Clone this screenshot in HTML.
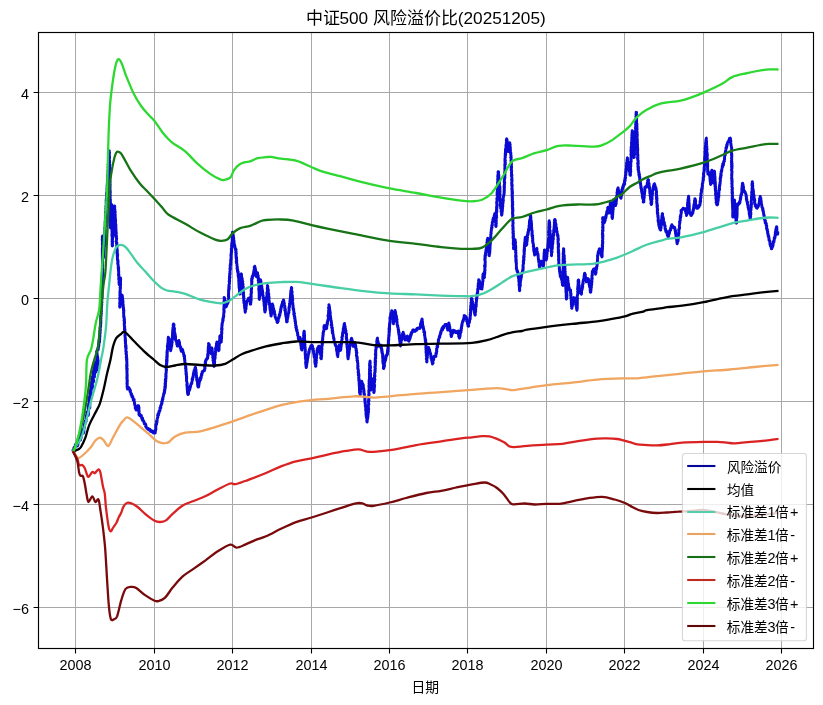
<!DOCTYPE html>
<html lang="zh"><head><meta charset="utf-8"><title>中证500 风险溢价比(20251205)</title>
<style>
html,body{margin:0;padding:0;background:#fff;}
body{width:823px;height:705px;overflow:hidden;position:relative;font-family:"Liberation Sans","Noto Sans CJK SC",sans-serif;}
svg text{font-family:"Liberation Sans","Noto Sans CJK SC",sans-serif;}
</style></head><body>
<svg width="823" height="705" viewBox="0 0 823 705" style="display:block;position:absolute;left:0;top:0;will-change:transform">
<defs><clipPath id="ax"><rect x="38.5" y="32.5" width="775" height="616"/></clipPath></defs>
<rect width="823" height="705" fill="#fff"/>
<path d="M75.5 32.5V648.5M154.5 32.5V648.5M232.5 32.5V648.5M311.5 32.5V648.5M389.5 32.5V648.5M467.5 32.5V648.5M546.5 32.5V648.5M624.5 32.5V648.5M703.5 32.5V648.5M781.5 32.5V648.5M38.5 92.5H813.5M38.5 195.5H813.5M38.5 298.5H813.5M38.5 401.5H813.5M38.5 504.5H813.5M38.5 607.5H813.5" stroke="#a8a8a8" stroke-width="1" fill="none"/>
<g clip-path="url(#ax)" fill="none" stroke-width="2.3" stroke-linejoin="round" stroke-linecap="butt">
<path d="M72.9 451.3L73 450.2L73.4 449.6L73.5 449.8L73.4 449.7L73.6 449.1L73.8 448L74.3 449.1L74.5 448L74.4 447L74.9 448L75 446.5L75.5 445.3L75.5 445.4L75.3 444.6L75.6 445.5L75.6 444.6L76 444L76.4 444.1L76.6 443.9L76.6 444.6L77.3 445.5L77.5 446L77.5 445.7L77.6 444.7L77.9 445.1L77.7 444.4L77.9 444.5L78.1 442.9L78.4 442.1L78.1 443L78 442L78.1 441.9L78.6 441.3L78.7 440.3L78.7 440.4L78.7 439.7L79 440.2L78.8 439.2L78.7 438.8L79 438L79.4 439.4L79.8 438.4L79.8 439.5L79.9 439.5L80.5 440L80.4 438.8L80.4 439.6L80.5 438.1L80.7 438.9L80.6 437.6L80.9 438L81.2 437.5L80.9 436.2L81 436.7L81.5 434.8L81.1 434.5L81.2 434.5L81.4 433.6L81.2 433.5L81.4 433.3L81.9 433.1L81.7 432.5L81.8 430.9L82 431.9L82.1 431.5L81.9 430.3L82 430L82 430.7L82.2 430L82.5 430.6L82.8 430.8L82.8 431.4L83 432.3L83.5 433L83.3 433.3L83.7 431.4L83.5 431.3L83.6 430.4L84 431.7L83.8 430.3L83.6 429.1L83.8 428.9L84.1 428.3L83.7 429.4L84.1 427.3L84.1 426.7L84.2 428.1L84.4 427.1L84.1 426L84.1 426.3L84.4 425.9L84.3 424.3L84.6 425.4L84.5 424L84.9 424.2L85 423.6L84.8 422.7L85.1 421.3L85.1 421.3L85.4 421.7L85.9 420.8L86.1 421.4L86 420L86.3 419.3L85.9 418.5L86 418L86.3 418.9L86.5 417.6L86.4 417.8L86.2 417L86.7 416.8L86.7 415.7L86.4 415.9L86.5 415.4L87 414.1L86.7 414.8L87 412.8L86.7 412.2L87.2 413.1L87 412L87 413.1L87.7 413.2L87.5 413.4L87.5 412.7L88.2 414.4L88.1 415.4L88.3 415L88.3 415.3L88.5 413.5L88.2 413.2L88.2 413.3L88.2 412.5L88.2 413.1L88.3 411.7L88.5 412.1L88.4 411.7L88.4 410.5L88.5 409L88.4 408.9L88.2 409.6L88.3 408.5L88.6 408.2L88.4 407.7L88.5 407.8L88.3 406.9L88.4 405.8L88.7 405.8L88.6 405.9L88.8 404.8L88.7 404.5L88.6 404L88.7 404.8L88.8 405L89 406.2L89.3 406.5L89.5 405.7L89.4 407.6L89.7 406.4L89.4 407.4L89.8 408L89.5 407L89.5 407.4L89.9 407.4L89.5 406.6L89.8 405L89.9 406.2L89.5 405.7L89.5 404.3L89.9 404.5L89.3 403.3L89.5 402.6L89.3 402.1L89.6 401.1L89.5 401.5L89.1 400.8L89.5 400.7L89.1 401.2L89.5 400.7L89.1 398.8L89 399.4L89.1 397.6L89.2 398.7L89.4 397L89.2 397L89.1 398.3L89.6 398.3L89.4 397.4L89.9 398.6L89.7 400.1L90.2 400.3L90 400.8L90.2 401.3L90.6 401L90.5 400.2L90.6 400.9L90.4 398.9L90.5 398.6L90.2 398L90.2 397.7L90.3 397.4L90.6 396.9L90.4 396.2L90.3 395.5L90.2 395L90.4 395.6L90.1 395L90.5 393.8L90.4 394L90.2 394.3L90.1 393.2L90.3 393.7L90 393L90.2 392.1L90 391.1L89.8 390.2L89.8 390.9L90 390L90 389.8L90.1 391.6L90.7 391.7L90.5 391.3L90.7 392.1L90.7 392.6L90.9 394L91.5 393.6L91.4 394L91.2 394.5L91.3 392.8L91.1 392.4L91.3 392.2L91.1 391.7L91 390.8L91 390.6L91 389.4L91.1 389.3L91.3 389.5L91.4 389.3L91.3 389.3L91.1 387.7L91.5 386.9L91.3 387.4L90.9 387.3L91.4 386.5L91.2 386.4L90.9 385.3L91.1 385.5L91.2 385L91.1 384.7L91.1 383.8L91 383L91 382.5L91 383.6L91.1 385L91.5 385.1L91.7 385.6L91.8 384.7L92.1 386.7L92 386.7L92.2 386.2L92.4 387L92.4 388L92.1 387.1L92.5 386.5L92.5 387.6L92.3 385.9L92.3 386.1L92.5 385.5L92.4 383.9L92.1 383.8L92.4 383.5L92.3 382.4L92 382.5L92.3 382.9L92.3 381.6L92.2 381.5L92.1 380.4L92.4 380.1L92.4 381.1L91.8 379.7L92.3 380.2L92 378.4L91.9 379.3L91.9 378.1L91.8 377.5L92 377L92.4 376.7L92.4 377.9L92.6 378.8L92.3 379.6L92.6 378.3L92.5 379.7L92.9 379.8L92.8 380.3L93 381.8L93 382L93.4 382L93.6 380.8L93.6 381.5L93.6 380.2L93.3 380L93.6 379.9L93.2 379.1L93.1 377.9L93 379L93.1 378.7L93.1 376.9L93.2 376.3L93.1 377.4L93.4 376.7L93.2 376.4L93.4 375.2L93.3 373.8L93.3 374.1L93.3 374L93 372.4L93.3 372.1L93 372.1L92.9 372.4L93.3 371L93 371L93.2 371.1L93.3 371.7L93.1 371.7L93.3 373.7L93.6 372.7L93.9 374.8L93.8 373.5L93.7 373.9L93.9 374.3L94 375.1L94.3 376.9L94.5 376.4L94.5 377L94.4 376.6L94.4 375.8L94.2 375.2L94.7 374.4L94.4 375L94.6 373.7L94.3 373.3L94.3 373.2L94.7 373.6L94.6 371.5L94.1 372.4L94.6 371.4L94.4 370L94.3 371.4L94.5 370.8L94.6 369.2L94.1 368.5L94.3 369.1L94.5 368.7L94.3 368.4L94.2 367.5L93.9 367.5L94.1 367.3L94.2 366L94.4 366.1L94.2 366.4L94.7 367.8L94.5 367L94.8 368.5L94.9 368.2L95.1 368.3L95.1 369.6L95.6 370.4L95.7 370.6L95.4 370.6L96 371.9L95.8 372L95.7 370.6L95.8 371.4L95.7 370.2L95.9 371L95.6 368.8L95.6 369.1L95.8 368.2L95.9 368.8L95.7 367.3L96 367.1L95.9 366.5L95.5 367.1L95.6 367L95.7 365L95.5 365L95.8 365.6L95.4 364.1L95.5 364.8L95.4 362.5L95.4 362.7L95.8 363.2L95.6 362L95.8 363.4L96 362.5L95.7 364.2L96.1 362.8L96.1 364L96.1 364.3L96 364.1L96.2 365.3L96.7 365.2L96.8 365.9L96.5 367.5L96.9 367.2L96.5 367.7L96.8 369.1L96.7 368.4L97.3 368.2L97.1 370.2L97.2 370L97.4 368.6L96.9 368.2L97.4 368.1L97.3 369L97.1 367.2L97.4 367.5L97 367.2L97 365.9L96.8 366.4L97.4 365.7L97.4 364L96.9 364.4L97.4 364.9L97 363L97 363.1L97.3 362L97.3 362.6L97.3 362.2L97.1 360.9L96.9 360.5L97.2 359.5L96.8 360.4L96.9 358.5L96.7 359L96.9 359.4L97 358L97.3 359.4L97 358.1L97 359.4L97.5 359.7L97.3 360.1L97.6 361.1L97.8 361.9L97.8 360.9L98 361.7L98 362.4L98.2 362.5L98 363L98.2 364L97.9 364.3L98.1 362.7L98 363.6L98 361.6L98.1 362L98.2 360.4L97.8 361.4L98 361.1L97.4 359.4L97.4 358.8L97.9 359.1L97.8 358.2L97.7 357.9L97.3 358.1L97.7 356.3L97.4 356.9L97.1 355.9L97 355.1L97 355.4L97.2 354.2L96.8 354L97.1 353.2L96.8 352.8L97.1 353L96.6 351.7L96.8 352L96.9 351.6L97.2 350.3L97.1 351L97.4 349.7L97.5 350.6L97.7 349.4L97.9 348.7L98.3 349.4L98.2 347.3L98.6 346.9L98.6 347L98.4 347.3L98.7 346.7L98.7 346.4L98.8 344.5L98.6 344.8L99 345.1L98.7 344L98.9 343.3L98.8 342.4L99.1 343.2L98.9 341.9L99.4 342.4L99.1 340.3L99.6 341.5L99.3 339.2L99.7 339.4L99.7 339.4L99.7 338L99.7 337.7L99.5 338.5L99.8 336.7L99.5 336.6L99.8 336.2L99.6 335.4L100 336.3L99.9 335L99.7 334.7L100.1 333.2L100.2 332.9L100.1 333.3L100.1 332.3L100 332.4L100 332.1L100.1 331.2L99.9 331.1L100.2 329.9L100.4 330.5L100.2 328.8L100.2 328.2L100.1 328.4L100.1 328L100.3 326.7L100.4 326.4L100.5 327.3L100.4 325.4L100.4 325.6L100.7 324.6L100.7 325.9L100.7 325.1L100.4 324.9L100.6 324.4L100.9 322.4L100.8 323.5L100.4 321.8L100.8 321L100.9 320.8L100.9 320L100.8 321.1L100.6 319.4L100.8 319L100.6 318.3L100.7 319.3L100.9 318L101 318.3L100.7 317.7L100.7 316.7L101.1 315.9L101.2 315.9L101.1 316.1L100.8 315.8L101.2 314.2L101.3 313.5L101.4 313.7L101.1 313.6L101.1 312L101.3 311.2L101.4 311.2L101.3 312.2L101.3 311.1L101.2 309.4L101 309.2L101.4 309.3L101.4 309.8L101.2 308L101.5 307.1L101.1 307.4L101.2 306.9L101.3 306.9L101.5 305.7L101.6 305.8L101.3 306.3L101.4 304.2L101.3 304.8L101.8 304.6L101.6 303.1L101.3 303.4L101.7 302.4L101.8 302.1L102 302.3L101.6 302.2L101.5 301L101.7 299.9L101.8 300L101.5 300.1L101.5 299.2L102.1 297.9L101.7 298.4L101.9 298L102.1 296.6L101.8 296.4L101.6 297.2L102.1 296.4L101.6 296.2L102.1 295L102.1 294.5L101.8 293.3L101.8 292.8L101.9 293.7L102.1 293.5L102.1 291.9L102.1 291.7L102.2 291.5L101.9 291.3L102.4 290L102.3 289.1L102 289.1L102.3 290.1L102.3 288.4L102.4 287.9L102 288.6L102.2 287.7L102.3 287.9L102.2 287.1L102.3 286.7L102.2 286L102.3 284.7L102.1 284.9L102 285L102.1 282.8L102 284.1L102.2 282.1L102 281.5L102.4 282.2L102.4 282L102.1 281.2L102.3 281.2L102.6 280.9L102.1 280.4L102.6 280.1L102.2 278.2L102.2 277.4L102.6 278.5L102.5 278.1L102.5 276.5L102.2 275.7L102.6 275.5L102.4 275.5L102.2 274.7L102.4 275.1L102.5 273.9L102.8 273.8L102.8 273.6L102.3 272.7L102.5 273L102.6 272L102.5 272L102.6 270.5L102.8 269.8L102.8 269.5L102.3 269.1L102.7 270.2L102.3 268.8L102.6 268.9L102.4 267.9L102.5 268.1L102.4 267.8L102.4 265.9L102.7 266L102.3 265.9L102.3 265.7L102.7 265.2L102.6 263.9L102.5 263.5L102.8 262.5L102.8 261.9L102.4 261.9L102.8 261.9L102.5 262.2L102.4 260.9L102.6 261.1L102.7 260.4L102.5 259.3L102.3 259.9L102.6 259.2L102.3 258.1L102.7 258L102.3 257.3L102.8 256.4L102.3 256L102.6 256.6L102.3 254.8L102.4 254.7L102.5 253.9L102.4 253.5L102.8 254.1L102.3 254.1L102.3 252.5L102.8 252.9L102.6 251.7L102.3 251.7L102.3 250.3L102.4 249.5L102.5 250L102.4 250.1L102.6 249.1L102.6 248.6L102.3 248.4L102.4 248.2L102.7 247.2L102.5 247.3L102.5 245.8L102.6 246.7L102.7 245.9L102.7 245.4L102.6 244.5L102.4 244.4L102.3 243.5L102.7 243.7L102.6 242.3L102.5 242.2L102.6 241.7L102.6 242.3L102.3 241.3L102.7 240.3L102.5 241L102.2 239.7L102.3 239.7L102.8 238.7L102.3 238.4L102.5 238.2L102.5 237.6L102.7 236.9L102.4 237.3L102.5 236L102.3 236.8L102.5 237.4L102.3 238.3L102.5 236.9L102.4 238.1L102.3 238.6L102.6 239.6L102.5 239.2L102.5 240.6L102.9 240.6L102.5 241.6L102.6 240.9L102.5 242.5L102.9 242.7L102.7 243L102.6 244.3L102.7 244.1L103 244.9L102.8 244.3L102.9 244.4L103.1 245.3L103.1 245.6L102.8 246L102.9 246.4L102.6 247.9L102.8 247.4L102.8 248.3L102.9 249.1L103.1 249L103.3 250.5L102.8 250.9L103.3 251.2L102.8 251.8L103.1 250.6L102.8 252.9L103.2 252L102.9 252.2L103 254L103.1 253.2L103.4 254.9L103 255.6L103.3 255.8L103.3 256.5L103.4 256.8L103.1 257L103.3 257.6L103.2 258.3L103.3 258L103.4 257.1L103.2 256.4L103.4 255.7L103.4 255.4L103.5 255.7L103.6 256L103.3 255.5L103.6 254.4L103.7 254.5L103.6 253.2L104 252.1L103.8 252.7L103.5 252.2L103.9 252.4L103.8 252L103.9 250.6L104.2 249.2L104.1 249.9L103.9 250L104 248.7L104.1 248.8L104 247.7L104.1 247.5L104.4 246.5L104.5 246.3L104.3 246L104.3 245.1L104.3 246L104.5 245.2L104.3 243.8L104.3 243.9L104.5 243.8L104.2 243.2L104.7 242.4L104.2 241.5L104.2 240.8L104.8 241.2L104.6 241.1L104.8 240.3L104.6 239.9L104.7 239.3L104.7 238.1L104.7 238.2L104.8 237L104.5 236.4L104.9 237.7L104.8 236.2L104.9 236.5L104.8 235L104.7 234.9L104.7 234.4L104.9 235L104.6 233.8L104.6 232.5L105.1 232.9L105.1 232.2L104.6 231.6L105 232.3L105.2 230.9L104.9 229.7L105.1 229.4L104.8 228.6L104.7 229.5L104.8 229.6L104.8 228.9L104.9 226.8L105.2 226.8L105.3 226.2L104.9 226.9L105.3 226.6L105.3 224.6L105.2 225L105.3 225L105.2 225L105.1 224.6L105.4 222.2L105 223L105.5 221.4L105.2 222.3L105.2 222.1L105.4 220L105.3 220.6L105.4 220.4L105.2 220.1L105.4 219.4L105.6 218.5L105.5 218.8L105.8 218.3L105.6 216.9L105.3 217.8L105.7 217L105.5 216.1L105.9 216.1L105.7 214.6L105.7 215.3L105.6 214.5L105.8 214.4L106 212.7L105.5 212.3L105.8 212.4L106 212.6L105.6 212L106.1 211.6L105.9 210L106.1 210.6L106.1 210.4L105.9 208.3L106 209.2L105.8 208.7L106.3 207.2L106.1 207.6L106.1 206.2L105.9 206.9L106.3 205.8L105.9 206.1L106.3 204.5L106.2 205.3L106.4 204.1L106.2 203.8L106.1 202.6L106.1 203.1L106.2 202.4L106.3 201.9L106.1 200.5L106.7 200.7L106.1 200.7L106.4 200L106.6 198.9L106.5 198.8L106.5 197.7L106.2 199.2L106.8 197.7L106.6 196.8L106.8 196.7L106.9 196.9L106.9 196.9L106.6 194.6L106.6 194.4L106.5 193.7L106.8 194.9L106.8 194.6L107.1 192.4L106.9 192.6L106.7 193.3L106.8 192L107.1 192.4L107.1 190.8L107 189.9L107.3 191.1L106.9 188.7L107 188.9L107.4 189.6L107.4 187.4L107.4 188.3L107.3 188.4L107 186.2L107.5 187.4L107.4 185.6L107.4 186.1L107.2 184.8L107.3 183.9L107.4 183.6L107.3 183.1L107.6 182.4L107.7 182.3L107.3 183.3L107.6 182L107.5 182.4L107.9 181.9L107.5 180.5L107.5 181L107.9 180L107.7 178.9L108 178.7L107.9 177.6L107.7 177L108 177.5L107.7 177.7L107.8 176.3L107.7 175.6L108.1 175.2L107.8 175.1L107.9 175.5L107.8 175.1L107.8 174.5L108.2 172.7L108.1 172.4L108 171.8L108.1 172.9L108.5 172.3L107.9 170.6L108.4 169.6L108.4 169.6L108.5 168.6L108.5 168.8L108.1 167.7L108.5 168.3L108.2 167.6L108.6 166.7L108.4 166.1L108.2 166.9L108.6 165.3L108.2 164.6L108.5 165L108.6 164.5L108.4 163.5L108.6 164L108.8 163.3L108.4 161.8L108.8 162L108.8 160.9L108.9 161L108.9 161.6L108.7 159.4L109 159.9L109 159L108.6 159.6L108.7 157.8L108.8 158.2L108.6 157.6L108.9 157.2L108.7 157.1L109.1 156.9L108.9 156.2L108.9 155.8L108.8 155.6L109.3 154.3L109.1 153.9L109.1 152.5L109.4 152.4L108.9 151.7L109 152.7L108.9 150.8L109.2 151.1L109.3 150.9L108.9 152.2L109.3 152.5L109.4 152.1L109.5 153.8L109 153.1L109.3 154.3L109.1 153.9L109.2 154.4L109.4 156.3L109.1 156.2L109.5 155.8L109.5 157.8L109.3 157.3L109.5 157.9L109.3 159.2L109.5 158.4L109.2 158.9L109.3 160.6L109.6 160.9L109.6 161.3L109.1 161L109.7 162.3L109.3 161.8L109.5 162.1L109.5 162L109.4 163.3L109.2 163L109.8 164.7L109.7 164.9L109.7 165.8L109.7 164.6L109.6 165.5L109.6 166L109.6 167.7L109.6 166.8L109.6 167.6L109.8 167.8L109.5 169L109.4 169.3L109.9 169.6L109.5 170L109.6 169.8L109.4 170.2L109.5 171.2L109.5 171.3L109.4 172.4L109.9 173L109.7 173.5L109.5 174.1L109.7 174.2L109.8 174.5L109.6 174.5L109.6 175.5L109.7 176.1L109.4 176L110 176.3L109.8 177.2L109.6 178.7L109.7 178.7L109.6 177.7L110 178.9L109.5 179.3L109.8 180.4L109.6 179.8L110.1 181.3L109.6 181L109.8 182.1L109.9 182.9L110.1 182.7L110 183.6L110 183.5L109.9 184L110.1 184.9L110.2 184.2L110.1 184.4L110.1 186L109.9 187.2L110 186.6L110.1 187.9L110 187.4L109.9 188L110.1 188.1L109.9 189.1L109.9 189.1L110.2 190.6L110 190.2L109.8 190.4L109.8 191.4L110.1 190.9L110.3 191.8L110.2 193.3L110.3 192.5L110 194.3L109.8 193.1L110.1 194.4L110.3 195.4L110.1 196.3L110.1 195.8L110.2 196L110 196.9L110 198.1L110.2 197.7L109.9 197.8L110.1 198.6L110.2 199.7L110.4 199.4L110.1 200.1L110.5 200L110.2 201.4L110 200.9L110.5 202.3L110.2 201.4L110.4 203L110.4 204L110.4 203.3L110 203.5L110.2 204.4L110 204.2L110.3 205.5L110.2 206.8L110.3 205.3L110.2 207.3L110.2 207.5L110 207.2L110.5 208.2L110.4 207.9L110.3 209.1L110.2 209.7L110.3 210.8L110.4 210.1L110.1 210.1L110.5 210.4L110.1 211L110.4 212.8L110.4 213.2L110.1 212.1L110.5 213.1L110.5 213.6L110.2 213.9L110.2 215.7L110.4 215L110.4 215.5L110.1 217L110.5 217.6L110.4 217.4L110.3 216.7L110.7 218.7L110.3 219.3L110.6 218.5L110.5 220.3L110.5 220.7L110.3 220.1L110.6 220.2L110.4 221.9L110.5 222.2L110.4 221.5L110.4 221.9L110.8 222.6L110.6 222.7L110.6 223.7L110.5 223.5L110.3 225.5L110.5 224.8L110.4 225.3L110.4 225.3L110.7 226.3L110.4 227.5L110.3 227.1L110.6 228L110.8 226.8L110.6 227.8L110.8 225.9L110.6 226.6L110.6 226.6L110.6 226.2L110.8 224.3L110.7 223.6L110.9 223.4L111.1 223.6L110.8 222.5L110.9 221.9L111.1 221.3L110.9 221.7L110.8 221.7L110.9 221L111 219.9L110.9 218.9L110.8 220L110.9 219.2L110.8 218.5L111 217.9L111 216.6L111 216.5L110.9 217L111 215.9L111.4 216.2L111.4 215.9L111 214.3L111 214.7L111.4 213.5L111.2 213.7L111.4 212.4L111.5 212.2L111.4 211.4L111.1 212.4L111.5 211.5L111.1 209.7L111.2 209.6L111.3 209.5L111.2 208.9L111.6 208.2L111.7 208.5L111.7 207.4L111.5 207.8L111.5 206L111.8 207.1L111.5 205.2L111.9 205.8L111.4 204.6L111.7 204.7L111.5 205.7L111.5 206.4L111.9 205.2L111.8 206.3L111.9 207.6L111.6 206.6L112 207.7L112 208.7L111.9 209.4L111.8 209.1L111.5 210.1L111.7 210.2L112 209.9L111.9 210.1L111.9 212.1L111.7 212.1L112.1 212.7L111.8 212.4L111.6 213L111.8 213.2L111.7 213.5L112 215L111.7 214.6L111.9 215.5L112.1 215.7L111.8 217.3L111.7 217.1L111.8 218L111.9 218.4L111.7 218.6L112 218.7L112.1 219.9L111.7 219.3L111.8 219.5L111.7 220.1L111.8 221.4L111.9 220.7L111.8 221.9L111.9 221.7L111.7 221.9L112.3 223.8L111.7 224.2L112.3 224.3L111.8 224.6L112 224.5L112 224.6L112.3 226.3L112.1 227.4L112.1 226.4L111.9 226.7L111.8 228.4L112.2 227.9L111.9 229L112.3 230.1L111.9 230.2L112.3 230.6L112 229.9L112.3 230.7L112 231.6L112 232.6L111.9 231.5L112.1 233.1L112.3 233.7L112.4 234.6L112.1 234.2L111.9 234.3L112.2 234.3L112.3 234.9L112.1 237L111.9 235.5L112.1 236.3L112.3 236.4L112.4 238.5L112.4 238.1L112.1 239.1L112.2 239L112.1 239.5L112.3 240.8L112.5 239.9L112.1 240.9L112.3 241.2L112.1 241.1L112.1 242.3L112.5 243.6L112.5 244.2L112.5 244L112.5 243.3L112.4 244.9L112.2 245.2L112.6 245.5L112.3 246L112.4 245.1L112.3 245.9L112.1 244L112.5 244.1L112.2 244L112.4 243.4L112.4 242.9L112.5 242.1L112.3 241.3L112.8 241.5L112.3 241.7L112.4 239.7L112.6 239.6L112.6 239.7L112.5 239.3L112.5 238.7L112.8 237.4L112.7 236.9L112.7 238.1L112.8 237.3L113 235.6L113.1 236.4L112.6 236.2L112.8 234.4L113.2 234.7L113.1 233.4L113.1 232.8L112.8 233L112.7 232.9L112.8 231.9L113.2 231.7L113.3 231.6L113.3 231.1L113.4 231.2L112.9 230.5L113.1 230.1L113.3 229.8L113 228.4L113.4 229.1L113.4 226.8L113.3 226.5L113.3 227.4L113.1 227.2L113.5 225.4L113.2 225.4L113.4 225L113.6 224.7L113.2 223.1L113.3 224.2L113.3 223.3L113.4 223.1L113.5 221.6L113.8 221.9L113.7 222L113.9 219.9L113.6 219.8L113.7 220.7L113.9 218.6L113.6 219.7L113.9 218.4L113.8 217.5L114.1 217.5L114.1 217.5L113.7 216.5L113.8 217.1L114 215L113.8 215.2L114 215.1L114 214.2L113.8 214.2L114 212.7L114.1 214.1L113.9 212L114.3 211.8L114.1 211.8L114.1 211.5L114.3 211.8L114.6 209.5L114.4 210.5L114.6 210.1L114.5 209.4L114.3 208.2L114.6 208.9L114.7 208.1L114.4 207.8L114.7 206.8L114.7 206.1L114.6 205.9L114.7 206.2L114.4 206.5L114.6 208.2L114.7 207.4L114.6 207.6L114.7 207.9L114.5 209.8L114.8 209.4L114.9 209.6L114.6 209.6L114.7 210.5L115 211.4L115.2 211.5L115.2 212.4L114.7 212.1L115 214.1L114.9 214.2L115 214.8L114.8 214.5L115.3 214.5L115 214.5L114.9 215.4L115.3 215.8L115.1 216.2L115.3 218L115.3 217.1L115.4 219.1L115.3 217.7L115.5 219.8L115.2 218.8L115.2 220L115.6 220.7L115.7 220.3L115.3 221.8L115.5 221.6L115.6 221.9L115.2 222.5L115.2 223.4L115.4 223.6L115.6 223.5L115.6 223.5L115.9 225.1L115.9 224.5L115.7 226.3L115.6 225.5L115.5 226L115.9 226.4L115.9 227.5L115.8 228.3L115.8 228.9L115.9 228.7L116 229L116 230.4L116.1 230L116.1 231.8L115.9 230.8L116 232.6L115.8 231.2L116 233L116.2 232.8L116.4 233L116.1 234L116.3 233.6L115.9 234.2L115.9 235.4L116.2 235.2L116.5 236L116.1 236.1L116.4 238L116.1 236.7L116.5 237.6L116.7 238.6L116.5 238.7L116.6 239.4L116.3 240.7L116.2 240.9L116.2 241.1L116.5 242L116.3 241.9L116.5 243.1L116.9 242.9L116.5 242.6L116.5 243.5L116.5 243.5L116.9 244.8L116.6 246L116.6 245.6L116.6 246.6L117.1 245.9L117 247.4L116.8 246.9L116.9 248.5L116.7 248.5L117 248.5L117 249.8L116.9 250.3L117 250.5L117.3 249.8L117.3 251.9L117 250.4L116.9 252.8L116.9 253.1L117 253.2L117 252.5L117.4 252.8L117.3 254.1L117.2 255.4L117.5 255.8L117.7 254.5L117.3 256.5L117.6 255.5L117.5 256.3L117.5 256.5L117.3 258.8L117.5 259L117.4 258.7L117.4 259L117.5 260L117.5 260.5L117.8 259.8L117.7 261L118.1 261.1L117.7 262.8L118.1 262.8L117.8 262.2L117.8 262.4L117.7 263.8L118 264.3L118 263.7L118.2 265.4L118.2 265.7L118.3 267L118.4 266.9L118.2 266.6L118.2 268.4L118.2 267.6L118.3 267.6L118.7 267.8L118.5 270.1L118.3 269.9L118.4 269.6L118.3 269.9L118.7 271.6L118.8 270.6L118.6 272L118.7 272.1L118.7 273L118.6 274.3L118.4 274.3L118.9 274.3L118.8 275.8L118.6 275.5L118.9 275.5L118.9 276L118.8 276.9L119 276.7L118.9 277.6L118.7 278.2L118.8 279.3L118.9 279.4L119 279.4L118.8 279.2L119.3 280.4L119 280.9L119.2 280.7L118.9 282.4L119.1 282.5L119.3 283.4L119.4 282.2L119.1 284.2L119.4 283.3L119.2 284.5L119.1 283.5L119.1 283.3L119.7 283.1L119.5 281.8L119.6 283.2L119.9 281.6L119.8 281.8L120.1 280.1L120.1 280.1L120.1 279.3L120.1 279.1L120.2 278L120.2 278.6L120.5 278L120.2 277.8L120.6 278.5L120.4 278.8L120.7 279L120.5 281L120.3 280.6L120.6 281.4L120.3 280.7L120.4 281.8L120.5 282.1L120.3 283.3L120.6 283.1L120.3 284L120.6 283.7L120.6 285.2L120.2 285.6L120.2 284.8L120.5 285.9L120.3 286.6L120.5 287.6L120 287.7L120.2 287.9L120.5 288.3L120.2 289.7L120.2 289.3L120.2 290.4L120.3 290.7L120.1 289.8L120.3 291.2L120.3 292.1L119.9 291.5L119.9 293.1L119.9 292.1L120.3 293.5L119.9 294.2L120.2 294.3L119.8 295.1L120 295.4L120.4 296.3L120.3 295.4L120 296.6L119.7 298L119.9 297L119.9 297.4L120.2 298.5L120 298.7L119.7 298.9L120.2 300.4L120.2 299.7L119.8 299.8L120 300.9L119.9 301.5L120 301.7L120.1 301.9L120.2 303L119.6 303L119.9 303.6L119.9 303.9L119.7 305.3L119.7 305.6L120 305.8L119.8 307L119.8 307.3L119.8 307L119.6 306.4L120 305.2L120.3 304.8L120.2 304.6L120.5 304.9L120.5 304.3L120.5 304.2L120.3 302.9L120.7 302.3L120.9 302L120.5 301.3L120.9 302.6L120.8 301.5L120.8 301.6L121.1 299.6L120.8 300.3L120.9 300.1L121.1 298.5L121.4 298.2L121.5 297.4L121.8 297.3L121.8 296.5L121.9 297.7L121.7 295.4L121.8 296.2L121.8 295.5L122 295L121.8 295.4L122.2 295.8L122.3 295.6L122.4 296.1L122.5 298.3L122.6 297.8L122.2 297.9L122.6 298.6L122.7 298.3L122.5 300.3L122.6 300.1L122.4 299.7L122.5 301.7L122.9 300.8L123 300.9L122.9 303.2L122.8 303.6L123 302.3L122.8 303.5L122.8 304.5L122.9 305.1L123 304.1L123.2 304.6L123.2 306.5L123.3 306.3L123 306.8L123.1 307.5L123.2 307.8L123.4 307.9L123.6 307.9L123.4 309.9L123.6 309.5L123.5 310.6L123.9 310.4L123.5 310L123.9 310.5L123.7 311.8L123.5 312.1L123.6 312.7L123.8 312.8L123.6 313.4L123.7 313.3L123.7 315.2L123.9 315.7L123.6 316.2L123.9 316.4L124 316.6L123.8 317.2L123.8 316.7L123.8 317.4L124.1 317.6L124.3 317.7L124.2 318.4L124.2 320L124.3 319L124 320.5L124.5 319.8L124.3 321.6L124.4 321.3L124.5 322L124.5 321.6L124.6 322.8L124.3 322.6L124.2 324.4L124.5 323.7L124.3 324.1L124.3 324.7L124.4 326.7L124.8 326.7L124.5 326.6L124.7 327.9L124.7 327.8L124.4 328.2L124.8 329L124.4 329.3L124.6 328.6L125 330.1L124.9 329.5L124.9 331.5L125 331.6L125 332.2L124.8 332L124.9 332.3L125.1 333.5L125.1 333L125.2 333.9L125.2 333.5L125.3 335.3L124.9 335.8L124.9 335L125.1 335.5L125.1 337.3L125.2 337.4L125.1 338L125.4 338.2L125.5 339L125.2 337.9L125.4 339.9L125.2 339.9L125.6 340.7L125.1 340.6L125.1 340.3L125.6 341.3L125.5 341.9L125.4 341.8L125.4 343.5L125.6 342.9L125.3 343.3L125.7 344.1L125.8 345.3L125.5 345.5L125.4 346.2L125.6 345.5L126.1 346.2L125.6 347.7L125.9 348.1L125.8 347.8L126.2 348.3L126.2 348.1L126.2 348.5L126 348.6L125.8 351L126 351.1L125.9 350.7L125.9 351.5L126.4 351.9L126.1 353.2L126.4 353.1L126 353.5L126.2 354.6L126.2 354.5L126.4 354.3L126.4 355.4L126.6 355.5L126.3 356.9L126.2 357.1L126.6 357L126.5 357.8L126.8 358.2L126.7 357.3L126.5 357.9L126.9 359.9L126.5 359.7L126.7 360L126.8 359.5L126.7 361.4L126.8 360.9L126.9 361.4L126.8 362.1L127 363L126.9 363.5L126.7 364.5L126.9 364.4L126.7 363.8L126.8 365.6L127 365.1L126.6 365.9L127.1 365.6L127 366.1L126.7 366.3L126.7 367.4L127.1 369L126.7 368.2L127.2 368.4L126.8 369.3L126.7 369.4L126.9 370.1L127.2 370.3L126.8 372.1L126.9 372.4L127 372.7L126.9 371.9L127.1 373L127 373.8L127.1 373.5L126.9 375.2L127 374.4L127.1 374.8L127.2 374.8L127.2 376.3L127 377.5L126.9 376.6L126.8 377.6L127.2 378.4L127 379.1L126.9 378.5L127.2 380.3L127.2 380.2L127.3 380L127.4 381.2L127 380.9L127.3 381.3L127 382.8L127.2 382.5L127.3 383.8L127 383.1L126.9 383.7L127.2 385L127.3 384.9L127.2 385.3L127.1 386.3L127.4 386.8L127 386.9L127.4 387L127.5 388.2L127.4 388.5L127.4 389.1L127.3 388.8L127.5 389L128.3 388.6L128.4 387.3L129 388L129.2 389.1L129.2 388.3L129.4 388.5L129.8 390.7L130.1 389.9L130.2 389.7L130.4 390.7L130.1 391.7L130.4 391.5L130.5 392.2L131 393.4L131.1 393.2L131 394.3L131.2 393.5L131.7 394.2L131.7 395L131.7 395.9L131.9 396.4L132.4 396.3L132.1 397.2L132.3 397L132.7 396.6L133 398.3L133.1 398.1L133.2 398.9L133.2 399.9L133.8 400.2L134 399.7L134.2 399.6L134 400.1L134.2 401.3L134.3 402.1L134.5 402.1L134.4 402.1L134.5 402.7L134.5 404.1L134.8 403.9L134.7 404.9L134.8 404.5L135.1 405.8L135.5 406.4L135.6 407.2L135.5 407.2L135.2 406.7L135.3 408.4L135.8 408.4L135.7 408.3L135.7 409.3L136.3 409.2L136.1 410L136.1 409L136.5 410L137 408.7L136.8 407.6L137 408.6L137.4 408.6L137.9 407.9L137.9 407.5L137.9 405.7L138.4 406.1L138.6 405.7L138.5 405.7L138.4 407.4L138.8 408L139 407.4L138.9 407.8L139 409.2L138.6 408L138.7 409.6L138.8 408.9L139.1 410.9L138.9 409.9L139.2 411.3L138.7 411.4L139.1 413L139 413L138.9 412.6L139.4 413.4L138.9 414.3L138.9 413.9L139.2 415L139.6 415.4L140.2 415.9L140.5 414.9L141 416L141.4 415.6L141.4 416.7L141.8 417.8L141.7 418.1L142.2 418.2L142.1 419.5L142.6 418.2L142.6 420.5L143 420L143 420.2L143.6 421.5L143.7 421.7L143.5 420.9L144.3 422.7L144 421.6L144.3 423.8L144.5 423.7L145.1 424.1L145.3 423.7L145.1 423.7L145.6 424.2L146 425.9L145.7 426.5L146.1 426.3L146.2 426.7L146.5 427.6L147.3 428.2L147 428.5L147.7 428.8L148 428.8L148.3 429.5L148.3 428.4L148.9 429.2L149.2 430L149.5 429.3L150.1 429.5L150.6 431.4L150.8 430.2L151.3 430.7L151.6 430.7L152.3 431.8L152.4 432L152.8 431.3L153.4 432.9L154 431.5L154.1 432L154.8 431.8L155.1 432.6L155.2 433.1L155.4 430.7L155 430.5L155.5 431L155.4 430.3L155.4 430.1L155.6 430.3L155.7 429.6L155.9 429.3L155.8 427.2L155.9 428.4L155.8 428L155.7 427.7L155.9 426.8L155.8 425.5L156 425.1L156.1 425L155.9 424.4L156.6 424.4L156.6 424.2L156.6 424.2L156.7 422.3L156.5 422.1L156.4 421.3L157 422.2L156.8 421.4L157.1 421.2L157.2 420.1L156.9 420.2L157.1 419.3L157.2 418.7L157.7 417.5L157.5 418L157.6 418.1L157.6 417.6L157.9 417.3L157.6 415.3L157.8 416.3L158 415L157.9 414.1L158.5 415.1L158.3 413.5L158.8 413.6L159 413.2L158.9 411.8L158.9 412.2L159.2 410.9L159.8 411.2L159.8 410.8L159.9 410L160.1 409.9L160 408.2L160 407.7L160.3 407.5L160.3 407.7L160.9 407.7L160.6 407.4L160.7 405.6L160.9 405.7L161.2 405.4L161.3 404.2L161.6 404.3L161.6 403.2L161.8 403.1L161.9 403.8L161.9 402.3L161.6 401.7L162.3 401.2L162.3 401.6L162.4 400.3L162.4 400.5L162.3 399.2L162.9 399.4L162.8 399.3L162.7 397.8L162.7 398.9L162.8 398.7L163.1 397.7L163.1 397.4L163.2 396.1L163.5 395.2L163.4 396.1L163.6 394.8L164 394L163.7 393.5L164 393.4L164.2 393.1L164.5 391.8L164.5 393L164.3 390.9L164.5 390.6L164.7 391.3L164.5 389.7L164.9 390L164.9 388.9L164.8 389L164.8 387.8L164.9 388.1L165.3 387.9L164.8 386.7L165.3 387L165.4 387.3L165.4 385.2L165.5 385.5L165.1 384.4L165.5 384L165.1 383.7L165.6 383.6L165.5 382.4L165.4 382.4L165.3 382.7L165.4 381.1L165.8 381.4L165.4 380L165.7 380.6L165.3 380L165.8 379.7L165.5 379.2L165.8 379.1L165.5 378.9L166 378.3L166 377.1L166.1 376.3L165.7 376.7L166.1 375.2L165.8 374.7L165.9 374.4L165.8 375.2L166.1 375.1L166 374.2L165.8 374.2L166 372.9L166.2 373.3L166.2 372L166.2 372.5L166.3 370.5L166.5 370L166.6 370.1L166.2 370.6L166.2 369.1L166.3 369.1L166.1 368.1L166.2 368.5L166.1 367.6L166.3 366.9L166.5 366.9L166.3 365.5L166.3 366.5L166.3 364.4L166.6 364.8L166.8 363.3L166.5 363.1L166.7 363.2L166.6 363.6L166.8 363.1L167 361.5L167 361.3L166.5 361.8L166.5 359.6L166.7 359.7L167.1 360.4L166.8 359.2L167.1 359.3L167 358.3L166.7 357.3L167 357.5L167.1 357.7L167.3 355.8L166.7 356.8L167.1 354.9L167.2 354.6L166.9 354.3L167.1 354.5L166.9 354.1L167.2 353.2L167.3 353.3L166.9 352.2L167.3 352.3L167.3 350.7L167.5 351.5L167.1 350.3L167.3 350L167.6 349L167.3 350L167.7 348.1L167.6 347.9L167.6 348.3L167.3 346.7L167.4 346.3L167.4 345.6L167.6 345.7L167.5 345.6L168.1 345.1L167.7 344.9L167.8 343.4L167.9 342.7L168.1 342.5L167.9 343.6L168.2 342.9L168.2 342.1L168.3 342.3L168 341.4L168.1 339.9L168.5 340.2L168.5 340.3L168.4 338.5L168.1 338.7L168.6 337.7L168.5 337.7L168.3 337.2L168.4 339L168.4 338.5L168.6 339.9L169.2 339L168.7 341.3L169.3 340.2L169 341.4L169 341.6L169.2 341.7L169 341.8L169.2 342.3L169.5 344L169.4 344.6L169.7 344.2L169.7 344.3L170 345.5L169.5 345.1L170 346.1L170.1 346.2L170.2 347.8L169.8 347.8L170 348.5L170.4 349.1L170.1 348.2L170.5 349.6L170.2 349.3L170.6 349.6L170.6 350.8L170.8 349.8L170.6 349.7L170.9 349.8L170.6 349.4L170.8 348L171.2 348.4L171.2 348.3L171.1 346.7L171.4 346.1L171.2 345.6L171.7 346.3L171.7 346.1L171.8 344.3L171.6 344.7L171.6 344L171.9 343.3L171.7 341.9L172 341.7L172.3 342.7L172 340.9L171.9 341.1L172.1 340.3L172.3 340.2L172.4 338.9L172 339L172.3 338.3L172.4 337.8L172.2 337.8L172.5 338L172.3 336.9L172.7 337.4L172.6 335.3L172.5 335.9L172.4 334.3L172.9 335.5L172.4 334.2L172.8 333.4L172.5 333.9L172.9 332.8L172.5 332.3L172.6 332.9L172.6 331.1L173.1 330.4L172.7 329.8L172.8 330.3L173.2 329.1L172.9 329.8L173 328.5L172.9 327.9L173.4 327.2L173.1 328L173.5 327.9L173.3 327.5L173.4 325.7L173.3 326.1L173.5 324.5L173.2 325.7L173.2 325L173.5 323.9L173.5 323.9L173.5 324.8L174 324.6L174 325.4L173.6 326.7L173.8 326L173.9 327.8L174.2 327.7L173.8 328.6L174.2 329.3L174.5 328.6L174.5 330L174.2 329.6L174.3 330L174.4 330L174.3 332.1L174.5 332L174.8 332.7L174.5 333.5L174.9 334.1L174.9 334L175 333.5L175 334.2L175.2 334.2L175.1 335L175.3 335.5L175.4 337L175.5 336L175.6 337.7L175.5 338L175.1 338.9L175.5 338.5L175.4 339.6L175.6 339.5L175.9 340.7L175.7 340.1L175.9 340.1L176 340.4L176.5 341.2L176.2 341.3L176.7 342L176.7 342.9L177 344.5L176.8 344.3L177.3 344.4L177.5 345.4L177.3 346.1L177.5 345.8L177.7 344.6L177.8 345.5L177.9 344.4L177.9 344.7L178.2 342.9L178.1 342.8L178.6 343L178.2 343L178.3 341.9L178.6 341.7L178.8 340.8L178.9 340.4L179 342.3L179.3 341.9L179.1 343.1L179.5 342.5L179.7 344.5L179.6 343.7L179.8 345.3L179.6 344.5L179.8 345.8L179.9 345.9L180.2 346.6L180.1 347.6L180.7 347.3L180.7 347L180.9 348.2L180.9 349.3L180.8 349.8L180.8 348.5L181.1 350.7L181.4 351.3L181.3 350.8L181.7 351.2L182.1 349.2L182.5 349.5L182.7 350.6L182.7 350.6L182.7 350.4L182.9 351.3L183 350.9L182.9 351.9L183.4 353.1L183.2 352.6L183.5 352.9L183.7 354.8L183.6 354.6L184 355.4L184.1 355.7L183.9 356.4L184.4 355.3L184.6 356.5L184.4 357.1L184.2 356.7L184.7 358.4L184.4 358.4L184.7 359.9L184.6 359.9L184.6 359.2L184.6 360.1L184.9 360.3L184.7 360.6L184.7 361L184.9 362.1L184.9 362.5L185.1 364L185.2 364.4L185.3 363.3L185.4 363.7L185.2 364L185.6 366.2L185.5 365.4L185.5 365.9L185.8 366.4L185.7 367.1L185.5 368.3L185.8 367L186 368.9L185.8 369.2L186.1 369.2L185.9 369.4L186 370.6L186.1 371.6L185.8 370.9L186.3 372.2L186.2 372.5L186 373.4L186.2 372.8L186 372.7L186.5 374.5L186 374L186.3 374.8L186.3 376.1L186.3 375.8L186.7 376.5L186.4 376.3L186.4 377.3L186.7 377.1L186.5 377.8L186.5 379.3L186.7 378.5L186.6 380L186.5 380.2L186.5 379.7L186.5 381.3L186.6 380.6L186.6 381.2L186.9 382.1L187.1 383L187.2 383.9L187 384.3L186.8 384.8L187 383.8L187.2 385.6L187.1 384.5L187.4 386.3L187.3 387.2L187 385.8L187 386.2L187.4 387.9L187.1 387.4L187.2 388.8L187.5 390L187.3 390.5L187.4 389.8L187.4 389.9L187.8 391.9L187.7 390.7L187.4 391.1L187.5 392.8L187.4 392.8L187.8 392.3L187.7 394.3L187.8 394L187.8 394.6L188.2 394.4L188 393.5L188.5 394L188.6 393L188.2 391.7L188.5 392.3L188.4 392.1L189 391.1L188.7 391.2L189 390.5L189.3 390.2L189.3 390.2L189.8 389.7L189.7 388.1L189.7 387.5L190.1 388.1L190 387.1L190.3 387.3L190.6 386.6L190.4 386.3L190.5 385.5L190.7 385.5L191 383.9L191.5 383.1L191.6 384L191.3 383.5L191.8 383.4L191.9 382.1L192 381.5L192.3 380.4L192.3 379.9L192.1 379.5L192.6 379.7L192.6 378.9L192.6 379.2L192.3 378.5L192.8 377.4L192.9 377.1L192.8 377.9L193.2 377.6L193 376.3L193.3 376.3L193.2 376L193.2 375.7L193.4 373.6L193.6 373.2L193.6 372.6L193.9 373.1L193.9 371.8L193.8 372.1L194 371.4L194 371.8L194 370.7L194.2 371L194.8 369L194.7 369.4L195.1 369.5L195 369.4L195.1 367.4L195.4 367.7L195.6 367.4L195.3 368.6L195.5 368.4L195.9 369.5L195.9 369.5L196 369.9L196 371.1L196.1 371.9L196 371.9L196.2 372.2L195.8 373.6L196.3 373.6L196.3 373.1L196.2 374.8L196.5 375.4L196.1 375.4L196.4 375.3L196.2 375.2L196.5 376.4L196.4 376.6L196.6 377.8L196.7 377.1L197 378L197.1 379.6L196.6 379.3L196.9 379.6L197.3 379.8L197.1 380.2L196.9 380.4L197 381L197.4 382.1L197.7 382.8L197.4 383.8L197.6 383.4L197.8 384.2L197.6 384.5L197.7 385.7L197.7 386.2L197.7 384.7L198.1 385.6L198.1 385.9L198.2 387.1L198.5 387L198.5 387.1L198.8 386.1L198.8 384.3L198.5 384.7L199.1 384.1L199 383L199 384.4L199.2 383.8L199 382.1L199.2 382.9L199.2 382.7L199.4 382.1L199.7 380.6L200.1 380.3L200 379.2L200 379.6L200.4 380.1L200.1 379.2L200.3 377.6L200.5 378.2L201 378.4L201.2 377.2L201.2 375.8L201.4 376.2L201.3 376.4L201.4 374.5L201.5 374L201.9 374.9L201.8 373.9L202.2 373.5L202.2 373.1L202.2 371.7L202.6 372.1L203 371.2L203.7 370.9L204.1 370.6L204.4 370.8L204.2 370.3L204.5 369.6L204.7 368.9L204.7 369.7L204.7 368.5L205 368.3L204.6 366.8L204.6 366.8L204.7 367L204.9 365.9L205.1 366.7L205 364.7L205.1 364.5L205.5 364.8L205.2 363.3L205.1 362.8L205.6 363.4L205.3 362.9L205.3 362.2L205.5 360.9L205.8 361.7L205.7 360.8L206 359.7L206.4 359.8L206.7 358.7L207.2 358.1L207.1 358.5L207.6 358.3L207.5 357L207.8 358.4L207.6 356.5L207.9 355.9L207.7 356.4L207.8 354.9L207.6 355.2L208.2 355.5L207.7 354.3L208 353.2L208.1 353.3L208.2 352.5L208.3 353.1L208.1 351.3L208.2 350.8L208.3 351.5L208.3 351.6L208 350.6L208.5 349L208.2 348.4L208.4 349.3L208.3 348.8L208.4 348.4L208.4 348.5L208.5 346.1L208.3 347.1L208.8 346.4L208.4 346.4L208.8 344.5L208.7 345.1L208.5 343.4L208.8 343.9L208.8 345.1L209.3 344.4L209.3 345.8L209.4 345.9L209.5 346.4L209.6 346.7L209.3 347.1L209.5 347.2L209.5 347.9L209.8 347.8L209.7 348.8L209.9 349.1L210.1 349.1L210.1 349.7L210.3 351L210.4 351.1L210.2 352.4L210.4 351.7L210.4 352.2L210.7 353.5L210.7 353.3L210.8 353.3L210.7 352.3L210.9 351.5L211.1 352L211.4 350.4L211.2 351.1L211.6 350.5L211.7 350.1L211.5 348.3L211.7 347.8L211.9 348.3L212.2 348.8L212.1 350.1L212.2 349.1L212 349.3L212.4 351L212.2 350.8L212.1 351.4L212.5 352.7L212.6 353.1L212.4 352.7L212.4 354.2L212.4 353L212.5 355L212.9 354.3L212.9 355.9L212.7 354.9L213 355.7L212.7 357.3L212.9 356.7L213.1 356.9L212.8 357.6L213 357.3L213.1 359.2L213.1 359.5L213.3 359L213 360.4L213.5 360.1L213.3 361.7L213.7 360.9L213.6 362L213.5 361.4L213.6 363.1L213.8 363.3L213.5 363.1L213.7 364L213.8 365.4L213.7 366L213.8 366.2L213.9 366.1L214.1 366.4L214.1 365L214.4 366.1L214.1 365.6L214.3 365.5L214 363.9L214.2 363.9L214.6 363.9L214.5 362.5L214.7 361.5L214.4 362.3L214.5 362.4L214.4 360.8L214.5 359.5L214.5 359.2L214.7 359.4L214.8 358.7L215 358.7L215.2 357.5L214.9 357.7L214.9 358L214.8 357.6L215 356L215.2 356L215 354.6L215.5 354.7L215 354.8L215.3 353.7L215.2 354.3L215.3 353L215.7 352.4L215.4 351.6L215.6 352.1L215.5 351.1L215.4 351.5L215.6 351.1L215.6 350.4L215.7 349.5L215.5 348.5L216.1 348.9L216 348.1L216 347L215.9 347.4L216.3 346.2L216.3 345.5L216.4 345.1L216.4 344.9L216.5 344.1L216.5 344.6L216.4 343.5L216.8 343.5L216.8 343.5L216.9 341.9L216.9 342L217 343.1L217.1 343.4L217.1 343.3L217.5 344.5L217.4 343.5L217.5 343.8L217.8 346.2L217.8 345.2L217.9 345.5L218 346.7L217.6 347.9L217.9 348.2L218.2 348.1L218.4 347.9L218.5 348.6L218 349.1L218.2 349L218.6 349.6L218.6 350.8L218.4 349.9L218.6 350.7L219 350.2L219.1 348.9L219 348.1L219.1 348.7L219.1 347.1L218.7 348L219 346.9L219.3 345.5L219.2 345.7L219.3 345.3L219 345.8L219.1 344.9L219.5 343.5L219.4 343.3L219.2 342.5L219.7 342.4L219.5 342.2L219.2 342.2L219.7 342L219.5 340.2L219.6 340.8L219.8 339.7L219.8 338.7L220 338.9L219.8 339.1L219.7 338.5L219.8 338.2L219.7 336.7L220.1 336.7L220 336.4L220.1 335.8L220 336.1L220 337.3L220.2 337.8L220.5 337.8L220.6 337.3L220.8 338L220.9 339.5L220.9 340L220.8 340.1L221.2 339.6L220.8 340.5L221.1 340.4L221 342.3L221.3 342L221.3 340.8L221.1 341.2L221.2 340.6L221.4 340L221.4 340.4L221.1 340.1L221.2 337.9L221.6 338.5L221.5 337.3L221.7 337L221.6 336.4L221.6 336.8L221.5 336L221.3 335.8L221.7 334.4L221.6 335.1L221.4 334.8L221.9 332.8L221.5 332.4L221.5 332L221.7 331.8L221.6 331.8L221.6 332L221.9 330.2L221.6 329.5L221.7 329.2L221.9 330.1L222.1 328.5L221.6 329.2L221.8 329L221.8 327.3L221.6 328.2L221.9 326.7L221.9 326.9L222.1 325.8L221.8 325.2L222.2 324.8L222 324.5L222.2 324.2L222.2 323.7L222.1 323.2L222.6 321.8L222.4 323L222.9 320.8L222.7 321.6L223 320.8L222.6 320L223.1 320.4L222.9 319.7L223.2 319.3L222.9 318.4L223.2 318.3L223.3 316.9L223.6 316.7L223.8 316.3L223.7 316.9L223.8 315.8L223.6 315.8L223.6 315.8L223.6 314.9L223.8 313.4L223.8 313.6L223.8 312.3L223.9 312.3L224.2 312L223.9 311.2L224.2 310.9L224.1 311.5L223.9 310.9L223.9 309.2L223.7 309.4L224.2 308.5L224 309.1L223.9 307.5L224.1 307.6L224.3 308L223.9 306.9L224.1 305.4L224.1 306.7L224 305.6L224.3 304.1L224.4 303.8L224.1 304.5L223.9 303.4L224 303.1L223.9 302.1L224.1 301.5L224 301.2L224.3 300.7L224.5 300.8L224.2 300L224.5 299.1L224.5 298.8L224.6 299L224.4 299.4L224.1 297.4L224.4 297.8L224.6 298.4L224.7 298.2L224.7 298.5L224.7 299.1L224.9 299.6L224.8 300.7L224.8 301.5L225.2 300.8L225 301.8L225.4 302.6L225.4 302.5L225.8 302.6L225.9 304.3L226 304.8L225.7 305L226 304.2L226.3 305.6L226.3 305.8L226 306.9L226.3 306.6L226.3 305.7L226.7 305.1L226.8 305.7L226.7 305.1L226.9 304.3L227.4 304.2L227.2 302.8L228 302.7L227.8 302.3L228.1 302.5L228.2 301.6L228.3 301L228.3 300.7L228.1 301.1L228.6 300.3L228.6 299.3L228.6 298.4L228.5 298.9L228.7 298.6L228.7 297.1L228.6 297L228.4 296.4L228.7 296.8L228.7 296L228.4 294.6L228.6 294.2L228.5 293.6L228.4 294.3L228.5 294.1L228.6 293.7L228.6 292.1L228.7 291.1L228.7 291.4L228.5 291.9L228.7 289.7L229.1 289.7L228.7 288.9L228.6 289.8L229 288.9L228.8 288L229.2 287.7L229.3 288.3L228.8 287.8L228.8 287.1L229.3 286.6L229.1 286.4L228.9 285.4L229 284.6L229 284.8L229.2 284.5L229.3 283.7L229.5 283.6L229.3 282.2L229.6 281.9L229.1 281.3L229.5 282.1L229.5 281.1L229.4 280.3L229.7 280.4L229.4 279.3L229.7 278.6L229.3 278.7L229.7 277.5L229.7 278.3L229.4 276.4L229.6 276.3L230 277.2L229.7 276.3L229.8 274.6L230.1 274.1L229.6 274.2L229.6 273.8L229.8 274.3L229.9 273.7L230.1 272.7L229.8 271.7L230 271.4L230.1 271.1L230 270.9L230.4 269.6L230 268.8L229.9 268.4L230.1 269.5L230.3 269.3L230.5 268.1L230.3 266.5L230.2 266.5L230.4 265.7L230.4 265.8L230.4 265.4L230.2 265.6L230.7 264.9L230.3 264.4L230.8 264.8L230.7 262.4L230.8 263.2L230.5 263.3L230.9 262.7L230.7 261.5L230.6 261.2L230.7 260.2L231 260.4L230.7 259.7L231.1 259.3L231.1 258.9L231.2 257.3L230.9 257.9L231.1 258.3L231.1 256.9L231.1 256.5L231.2 256.9L230.8 255.2L231.4 254.2L231.3 253.7L231.3 254.7L231.1 253.4L231.1 253.6L231.3 253L231.2 252.5L231.6 252.4L231.7 250.9L231.4 250.7L231.4 251.1L231.3 250.1L231.7 250.4L231.3 248.6L231.6 249.5L231.4 248.8L231.6 247.8L231.9 246.4L231.6 246.1L231.5 245.9L231.9 246L231.6 246L231.8 244.2L232.1 245.1L231.9 244L231.8 244.4L232.2 242.5L231.7 243.4L232.2 241.4L232.2 242.3L232.2 241.9L232.4 240.5L232.4 241.2L232.1 240.2L232.4 240.1L232.3 238.5L232.2 238.6L232.1 238.8L232.6 237.1L232.5 237.5L232.2 237.2L232.6 235.8L232.3 235.3L232.7 235.2L232.8 234.2L232.4 234.1L232.9 233.3L232.4 234L232.5 233.4L232.5 232.1L232.8 232.1L232.9 233.3L232.8 232.9L232.7 233.1L232.8 234.5L233.2 234.9L233.1 235.2L232.9 235L233.1 235.3L233.4 235.6L233.2 236.2L233.6 237.3L233.4 237.3L233.7 238.8L233.5 238.5L233.8 238.4L233.5 238.5L233.7 240.3L233.5 240.1L234 240.6L233.7 241.8L234.1 241.3L233.7 242.3L234.1 243.3L234.1 242.5L234.1 242.9L234.1 243.7L234.4 245.1L234.5 244.7L234.5 244.4L234.6 245.9L234.6 245.9L234.4 246.5L234.9 246L235 248L235 248.4L235.1 248.7L235.5 248.4L235.7 249L235.6 250.1L235.9 249.1L236.1 249.8L235.8 250.6L235.9 252L236.2 252L235.9 251.4L235.7 252.7L236 253L236.3 253.4L236 253.8L235.9 255.3L236.2 255L236.1 254.8L236.1 255.8L236.2 257.2L236.3 256.1L236 256.5L236.2 258.2L236.6 257.5L236.6 258.4L236.5 259L236.2 258.5L236.6 260.2L236.5 261.2L236.8 260.4L236.3 261.3L236.7 261.1L236.4 262.1L236.4 263.1L236.8 262.6L236.7 263L236.6 263.3L237 264.3L237 264.5L236.9 265.3L237.1 266L237.1 266L237.1 266.1L237.4 267.5L237.2 267.9L237 267.7L237.2 269.2L237.1 268.9L237.7 270L237.7 269.5L237.4 270.8L237.5 271.3L237.6 271.8L237.8 272.4L238.1 272L238.2 271.7L238.2 272.2L238.1 273.4L238.3 273.7L238 275.1L238.3 275.5L238.3 274.5L238.5 275.3L238.4 275.3L238.3 277.1L238.7 277.5L238.6 278.2L238.8 277.6L238.8 278.8L238.8 279.1L239 279L238.7 279.7L238.6 280.2L239.1 281.1L238.8 281.8L238.8 282.3L238.8 281.5L238.9 282.8L238.9 284L239.4 283.2L239.3 284.5L239.2 284.1L239.5 285.9L238.9 285.1L239.1 285.3L239.2 287.2L239 287.5L239.2 286.3L239.6 287.3L239.2 287.4L239.4 287.9L239.3 288.6L239.5 289.4L239.4 290.1L239.7 290.9L239.5 291.8L239.8 291.5L239.6 291.5L239.5 293.1L239.8 291.9L240 294L239.5 294L239.8 294.1L239.7 293.7L240.1 292.9L239.9 293.1L239.8 292.5L239.9 292.8L239.8 291.8L239.8 290.5L239.8 289.8L240.1 289.4L240.3 288.7L240.2 289.8L240 288.1L240.4 288.1L240.5 287.4L240.3 288.2L240.3 287.8L240.6 285.8L240.4 286.8L240.2 286.2L240.6 285.5L240.6 283.8L240.8 283.3L240.8 284.1L240.5 283.6L240.6 283.2L240.4 283.1L240.7 282.4L240.7 282L240.7 281L240.5 280.4L240.6 280.7L241 279.4L241.2 280L241.2 277.8L241.1 278.6L241.1 276.8L241.3 277.2L241.2 277.5L241 275.4L241.4 275.5L240.9 274.7L241.5 275.5L241.1 273.8L241.3 274.1L241.6 274.9L241.5 274.3L241.5 276.4L241.3 275.8L241.4 277.4L241.5 277.8L242 277.8L241.6 278.2L241.9 278.2L241.8 278.7L242.2 278.4L242.3 279.4L242 279.5L242.2 280.8L242.4 281.7L242.4 281.5L242.8 281.3L242.2 282L242.6 282.8L242.5 282.5L242.6 282.8L243 284.1L243 285L242.9 285.6L242.7 286L242.7 286.1L242.9 287L242.7 286.6L243.1 287.9L243.3 287L242.8 287.4L243.2 289.2L243.2 289.7L243.1 289.7L243.4 290.3L243.3 290.7L243.2 291.5L243.3 290.7L243.2 291.7L243.3 292.4L243.3 292.5L243.3 293L243.7 292.8L243.1 294.6L243.4 294.5L243.6 294.8L243.4 294.5L243.8 296.8L243.5 296.3L243.5 296L243.9 298L243.5 297.3L243.9 298.8L243.7 298.4L243.8 299.1L243.7 300.2L244.1 300.7L243.7 300.7L244.3 301.4L244 300.7L243.9 302.3L243.9 302.9L244.3 302.7L244.5 304.1L244.4 302.9L244.4 304L244.3 305.5L244.6 304.3L244.4 305.2L244.6 305.7L244.6 307.1L244.5 307.4L244.7 308.3L245.1 307.5L244.9 307.5L244.9 309L245.1 308.9L244.8 308.9L245.1 309.5L245 310.9L245.4 311.1L245.1 311.7L245.3 312L245.2 312.1L245.2 310.6L245.5 311.5L245.4 309.6L245.4 309.2L245.6 309.1L245.9 308.6L245.8 308.2L246.1 308.7L246 308.3L245.9 308L246.1 306.9L246.1 305.7L246.1 306.4L246.3 305.6L246.4 304.8L246.3 303.7L246.5 304.2L246.6 302.4L246.8 302.8L246.5 302L246.7 302.7L246.9 301.6L247.2 300.9L247.2 300.4L247.5 300.2L248.1 300.7L248.3 300.5L248.5 298.5L248.4 298.3L248.8 298.6L249.3 298.4L249.4 297.8L249.5 297.7L249.9 299.2L249.6 298.2L250.1 299.1L250.1 299.3L250 300.2L250.3 300.5L249.9 300.8L250.4 302.8L250.4 302.7L250.3 302.3L250.3 304.2L250.3 303.9L250.7 304.1L250.6 303L250.7 304.1L250.6 302.1L250.9 302.6L250.8 301.2L251.1 300.6L250.7 300.4L250.9 300.4L250.9 300.5L251.2 299.5L250.7 299.8L250.7 298.3L250.8 298.4L251.2 297L250.9 298L251.2 296L251.2 297L251 295.2L251.2 295.1L250.9 294.3L251.1 293.8L251.1 294.2L251.2 293.5L251.4 292.4L251.1 293.6L251.5 293.1L251.4 291.9L251.5 291.5L251.1 290.4L251.1 291.2L251.3 289.8L251.4 288.8L251.5 289.7L251.6 289.4L251.4 287.5L251.6 288.1L251.4 287L251.3 287.5L251.5 287L251.5 285.6L251.6 286L251.8 284.7L251.8 284.4L251.9 284.6L251.7 283.4L251.6 284L251.9 282.3L251.5 281.7L252 280.9L252 281.4L251.8 281L251.8 280.6L251.6 280.8L251.6 278.8L251.9 279.1L252.1 278.9L252.3 278.6L252.5 276.8L252.1 276.8L252.7 276.1L252.6 276.9L252.5 276L253.1 276L252.9 275L252.9 275.5L253.2 274.1L253.5 274L253.3 273.7L253.5 273.4L253.5 273.1L253.8 271.8L253.8 272.1L253.9 271.9L253.7 271.4L254.2 270.1L254.4 269L254.1 269.7L254.5 268.6L254.7 268.7L254.2 267.2L254.4 267.6L254.6 266.6L254.8 266.6L254.8 266.2L255.2 268.2L255 267.9L255 268.6L255 269.8L255.5 269.8L255.5 268.9L255.1 269.9L255.2 270.5L255.8 271.8L255.8 271L255.5 271.1L255.6 271.6L255.8 272.6L255.9 273.5L255.9 273.5L256.1 274.7L256.2 274.7L256.1 274.8L255.9 275.6L256.3 275.5L256.3 276.6L256.7 276.9L256.8 276.3L256.8 274.5L256.8 275.2L257.4 273.4L257 273.5L257.3 273.5L257.6 272.8L257.4 273.9L257.6 274.5L257.7 273.8L257.6 275.5L257.9 275.7L257.7 275.6L258.1 276.9L258.3 275.6L258 277.9L258.2 278.3L258.1 276.9L258.5 277.8L258.3 278.4L258.4 280L258.7 280.4L258.3 280.7L258.2 280.4L258.8 280.5L258.6 281.6L258.5 282.3L258.8 281.5L258.8 282.8L259.1 282.4L259 283.4L258.6 283.3L259.2 285.2L258.9 285.7L259.2 286.4L258.9 285.5L258.9 287.4L259.1 287.2L259.2 287.1L259 288.5L258.8 289L258.7 288.8L259.1 288.4L259.3 289.5L258.9 289.9L259.1 290.4L258.8 290.1L259.2 290.7L259 292.5L259.4 293.1L259 291.8L259.3 293.4L259.1 292.7L259.2 293.6L259.3 295.5L259.1 294.2L259.4 294.7L259.1 295.8L259.6 296L259.2 296.8L259.1 297.1L259.5 297.4L259.5 297.6L259.1 298.9L259.4 299.1L259.4 299.5L259.2 298.7L259.6 297.5L259.3 297.5L259.7 296.8L259.6 296.7L259.7 295.7L259.5 295.4L259.7 295.8L260 294.6L259.6 293.5L259.9 294.1L259.7 293.5L260.1 292.5L260.1 292.1L260 292.5L259.8 291L260.3 290L259.9 290.3L260.2 290.2L260.3 289.8L259.8 288.2L259.9 288.4L259.9 288.1L260.3 287L260.4 287L260.5 286.4L260.4 286.3L260.2 286.4L260.1 284.8L260.3 285.6L260.4 283.5L260.3 284.2L260.7 282.7L260.7 282.8L260.6 282.4L260.5 283.1L260.9 282.5L260.8 281.6L260.5 279.8L260.7 280.3L261 281.1L260.9 280.8L260.7 282.5L261 281.2L260.9 282.3L260.8 284L261.4 284.1L260.9 283.8L261 284.8L261.5 285.4L261.5 284.5L261.1 284.9L261.7 286.9L261.5 286.1L261.8 286.4L261.5 286.6L262 287.9L261.9 289.1L261.9 289.9L262 290.2L262.2 289L262 290.3L262.2 290.2L262.1 290.9L262.6 290.8L262.3 291.4L262.8 292.6L262.7 293.1L262.8 293.2L262.7 294.5L263 295.2L262.8 295.6L263.2 295.5L263.1 296L263 295.5L263.2 296L263.2 297.7L263.7 297.9L263.4 298.6L263.9 298.9L263.8 299.1L263.7 299.7L263.8 299.6L263.7 301.2L264.1 301.8L263.8 300.9L264.1 301L264 302.4L264.1 303.6L264.2 303.5L264.3 304.3L264.2 303.2L264.6 305.2L264.1 304.3L264.2 305.9L264.2 305.1L264.5 305.5L264.4 306.7L264.4 306.4L264.5 307.3L264.6 308.1L264.6 308.4L264.5 309.9L264.9 309.7L264.5 309.6L265.1 310.5L264.7 311.7L265.2 310.8L265 312L265 311.7L264.9 310.7L265.2 311L265.3 310.4L265.2 308.9L265 310L265.6 309.6L265.1 308.9L265.2 307.6L265.3 308.2L265.7 307.7L265.5 307.5L265.5 306.3L265.8 305.1L265.7 304.4L266 304.1L265.6 303.9L266 304.1L265.9 304.1L266.1 302.4L266 301.9L265.9 301.4L265.9 301.3L266.4 301.5L266 300.1L266.3 300.3L266 299L266.4 299.6L266.2 299.4L266.3 298.6L266.5 298L266.6 297.2L266.9 296.9L266.6 296.7L266.9 297.1L266.9 295.8L266.9 295.5L267.1 295.7L267 293.7L267 293.7L266.8 293.9L266.8 293.3L267 292.3L267.2 292.4L267.4 292.5L267.4 290.6L267.3 290.6L267.5 290L267.2 288.7L267.4 289.3L267.3 288L267.5 287.4L267.3 287.7L267.5 287.4L267.6 286.7L267.4 285.5L267.7 286L267.8 287.4L267.7 286.6L267.7 287.8L267.9 288.4L267.6 287.5L267.8 288.4L267.9 288.9L268.3 289.5L268.1 291L268.2 290.7L268.4 290.6L267.9 292.3L268.3 292L268 292.8L268.3 293.1L268.2 294.1L268.3 293.2L268.7 293.6L268.4 294.6L268.8 294.3L268.4 296.1L268.4 295.8L268.8 296.8L268.9 296.1L269 297L269 297.7L269.1 298.1L268.7 297.9L268.9 298.2L268.8 300.3L269 300L269.1 301.2L268.9 300.9L269.2 300.6L269.1 302.7L269.4 302.3L269.4 303.5L269.7 303.4L269.2 304.4L269.3 303.6L269.4 304.6L269.7 304.9L269.7 304.8L269.9 306L269.7 307.1L270.2 307.7L270.3 306.5L270 307.7L269.9 308.7L270.4 308L270.2 310.1L270.5 309.5L270.1 310L270.4 311.1L270.3 310.5L270.8 310.5L270.6 311.1L270.8 312.2L270.9 312.2L271 312.7L270.5 312.9L270.6 313.9L271.2 314.3L271.1 314.2L271 315.6L271.1 316L270.9 315.7L271.2 314.7L271.4 315L271.1 313.4L271.1 313.2L271.5 314.2L271.7 313.5L271.3 312.9L271.7 311.8L271.9 311.6L271.4 310.4L271.5 310.7L271.8 310.7L271.5 308.6L272.1 308.6L271.8 309.3L271.7 308.7L272.2 307.8L272.1 306.2L272.2 307L272.3 306.3L272 305.3L272.3 304.5L272.1 304.4L272.5 304.6L272.4 304L272.4 305.4L272.6 304.4L272.7 306L272.7 305.6L272.9 307.2L273.1 306L273.1 306.7L273.2 307.9L273 308L273.3 308.6L273.7 308.8L273.7 308.9L273.6 309.7L273.8 309.6L274.1 310.6L273.9 310.5L274.3 312.3L274.5 311.4L274 312.6L274.1 313.5L274.6 312.9L274.6 314L274.5 313.8L275 314.9L274.9 315L275.1 314.6L275 315.4L275.1 316.6L275.5 317.6L275.7 318L275.8 317.7L275.8 318L276.3 318.5L275.9 318.7L276.2 319.7L276.5 319.8L276.9 320.8L276.6 319.8L277.1 321.4L277.2 321.6L277 322L277.4 322.5L277.7 322.3L277.4 320.9L278 321.3L277.7 321.2L278.3 321.1L278.2 320.5L278 319.4L278.6 318.7L278.3 319.3L278.8 317.2L278.5 317.8L279.2 317.5L279.3 316.1L279.2 315.8L279.2 315.3L279.4 314.6L279.6 315.4L279.9 315.2L279.5 315L279.9 313.8L280 314.2L280.1 312.1L280.3 311.8L280.6 312.1L280.6 311.6L280.4 311.5L280.7 310.6L280.5 310.1L280.9 309.3L280.6 309.4L281 308.1L280.9 309.5L281 308.6L281.1 306.8L281.3 307.9L281.6 305.9L281.6 306.6L281.6 306.2L281.7 304.8L281.8 305L282.1 303.8L282 304.8L282.3 303.7L282.5 303.2L282.5 302.8L282.4 302L282.6 302.8L283.3 301.7L283 301.6L283.2 301.1L283.5 300L283.7 300.7L283.8 300.4L283.9 301.4L283.9 302.5L283.7 302.1L283.8 301.8L284.2 303.5L284.1 303.7L284.4 303.2L284.1 304.8L284.3 304.9L284.2 304.8L284.5 305.5L284.8 307.1L284.9 306.2L284.7 306.4L284.6 306.7L284.8 308.9L285 308.2L284.8 309.8L284.7 310.1L285.3 309L285.4 310.6L285.1 310.6L285.4 311.2L285.6 312.4L285.3 311.1L285.5 312.5L285.7 313.2L285.7 312.5L285.5 314.6L285.7 314.2L286.1 314.1L286 314.3L286 316.1L285.9 316.6L286.4 317.2L286.4 317.9L286.4 317.5L286.6 318.5L286.5 318.7L286.3 318.4L286.5 319.9L286.8 319.2L287 319.2L286.5 320.2L286.6 321.9L286.8 321.2L287 321.9L287.3 321.5L287.2 320.9L287.2 321.5L287.2 320.2L287.4 318.9L287.3 319.2L287.7 318.6L287.4 319.2L287.5 318.6L287.5 317.7L287.7 316.5L287.9 317L288 315.9L288.1 315.7L288.1 316.1L288.1 314L288.4 314L288.6 312.9L288.6 313.1L288.9 312.5L288.7 312.5L288.7 311.7L288.8 311.2L289 311L289 310.3L288.9 310.3L289.2 310.1L289 308.5L288.9 308.2L289 307.8L289.3 307.6L289.5 307L289.2 306.4L289.2 307L289.5 305.6L289.7 306L289.5 305.4L289.7 304.7L289.4 304L290 303.6L289.9 302.6L290 303.7L289.9 302.5L289.9 301.8L290 301.1L289.9 300.4L290.2 300.7L290.4 301.2L290.4 300.7L290.4 298.4L290.1 299.8L290.6 298.6L290.5 297.8L290.4 296.8L290.5 296.6L290.3 297.3L290.6 296.9L290.5 295.8L290.5 295.9L290.5 295.1L290.8 294L290.6 293.8L290.9 294L290.7 292.3L290.8 293.1L290.9 292.3L290.8 290.8L291.2 291.1L290.9 290.6L291.5 290L291.3 289.6L291.3 288.4L291.6 289L291.3 288L291.3 288.8L291.5 287.5L291.7 287.7L291.6 288.5L291.4 287.9L291.8 288.7L291.7 288.8L291.4 289.6L291.8 290.9L292.1 291.5L291.8 290.7L292.1 292.1L292.1 291.6L292.1 293L291.8 293.3L291.8 294.1L291.9 294.8L291.9 295.2L292.2 295.7L292.4 295.3L292.3 296L292.5 297.3L292.4 297.3L292.2 298.4L292.6 298.9L292.3 299.1L292.5 299.6L292.6 299.3L292.4 300.5L292.6 300.4L292.8 299.9L292.3 301.2L292.4 302.4L292.4 302.9L292.5 301.9L292.9 303.4L292.7 303.7L292.8 304.9L292.9 304.5L292.9 304.7L293 304.6L293.1 306.7L293 306.3L293.2 306.8L293 306.4L293 307.8L293.5 308.9L293.2 309.1L293.6 309L293.7 308.9L293.4 310L293.8 310.3L293.6 311.6L293.7 311.2L293.7 311.8L294 312L294.1 312.7L293.7 314.1L294 313.7L294.4 313.5L294 314L294.3 315L294.2 316.1L294.4 315L294.4 316.4L294.4 316.4L294.9 317.1L294.5 317.9L294.5 318.2L294.9 317.7L294.9 318.6L295.1 319.7L295.3 320.1L294.9 319.7L295.3 321.4L295 321.1L295.2 321.6L295.6 322.3L295.6 323.1L295.4 323.3L295.5 323.4L295.7 324.3L295.5 325.1L295.6 324.4L296.1 326.2L295.8 326.6L295.7 327.1L295.9 325.7L296.3 326.4L296.2 327.5L296.4 327L296.2 328.1L296.2 328.8L296.5 329.8L296.6 330.7L296.9 329.5L297.1 331.4L297 331.1L296.8 331.2L296.9 331.4L297.3 332.1L297.4 333L297.6 332.5L297.7 333.8L297.6 333.7L297.7 334.5L297.9 335.3L297.6 335.1L298 335L298.1 336.5L298.2 336.5L298.2 337.3L298.4 336.9L298.3 337.7L298.5 338.2L298.3 338.6L298.8 339.3L298.7 340L299.1 340.1L299 339.3L299 339.6L299.6 337.6L299.7 337.9L299.9 337.5L300.1 337.5L300.3 338.6L299.8 339.5L300.4 338.9L300.4 340.5L300.5 339.3L300.6 340.1L300.6 341.4L300.5 342.3L300.8 343L300.9 342.6L300.9 343.2L300.7 343.3L300.9 343.2L300.8 344.9L301.2 345L301.2 345.1L301.2 345.9L300.9 345.9L301.5 345.8L301.3 346L301.2 348L301.2 348.4L301.7 349L301.5 349.5L301.6 349L302 349.6L301.8 350L302 348.8L301.7 348.6L301.8 349.2L302 349L302.3 347L302.4 346.8L302.4 345.9L302.6 346.8L302.6 346.2L302.5 344.6L302.6 345.3L302.8 343.6L302.7 343.9L302.6 342.5L303 342.2L303.1 342.5L303.4 341.3L303.3 342.2L303.1 341.2L303.6 340.9L303.2 341.1L303.2 340.6L303.3 339.1L303.3 339.1L303.7 338.7L303.3 338.8L303.7 337.4L303.8 336.1L303.7 337L303.8 336.3L303.5 335.5L303.6 335.2L303.7 334.5L303.9 334.3L304.1 333.2L303.8 332.5L303.7 333.4L304.3 331.5L304 332.6L304.1 331.3L304.3 332.7L304.4 331.8L303.9 332.2L304.2 332.1L304.1 333.5L304.4 333.3L304 334.1L304 334.2L304.1 336L304.6 334.9L304.5 337L304.5 336.4L304.6 336.4L304.2 338.6L304.3 338.9L304.6 337.7L304.3 339.3L304.3 339.8L304.7 339.4L304.6 339.8L304.8 341.1L304.7 341.5L304.4 342.5L304.8 342.2L304.8 342.6L304.9 343.2L304.6 343.6L304.6 343L304.8 345.2L305 344.4L304.9 345.6L304.9 345.8L304.9 346.3L304.9 347.1L305.2 347.2L305.2 348L304.8 347.6L304.9 348.3L305.1 348.6L305.4 349.9L305 350.3L305.4 349.7L305.3 351.7L305.1 352L305.4 351.4L305 352.8L305.2 352.3L305.3 353.6L305.6 354.4L305.5 353.4L305.3 353.5L305.2 354.6L305.3 355.3L305.3 356.1L305.5 355.8L305.6 356.4L305.3 357.9L305.7 358.4L305.5 357.6L305.8 357.8L306 359.3L305.7 358.5L305.6 359.7L306 359.6L305.8 360L306.1 361.7L306 362.2L305.7 361.6L305.6 362.7L305.7 362.4L305.8 364.4L306.2 363.5L306.3 363.7L305.8 364.6L306.2 364.5L306.3 365.9L306.3 365.9L305.9 365.9L306.3 367.2L306.2 367.6L306.4 366.5L306.2 366.1L306.6 366.7L306.3 366.3L306.3 365.3L306.5 365.4L306.8 364.8L306.6 363.1L306.9 363.9L306.6 363.8L307.2 362.4L307 362.5L307.3 362L307.2 361.8L307.2 359.9L307.3 360.2L307.3 359.7L307.3 359.1L307.6 359.8L307.5 359.3L307.4 358.2L307.8 358.3L307.7 356.6L308.1 357L308 356L307.7 356L308 356.2L308.1 355L308.3 355.1L308.4 354.6L308.3 354.7L308.7 353.4L308.6 352L309 352.8L309.1 351.4L309.1 352L309.3 351.8L309.1 351.1L309.2 350.4L309.7 348.8L309.7 349.6L309.9 348.8L310.3 347.5L310.3 348.5L310.3 348.3L311 346.8L310.8 346L311 346.1L311.5 346.7L311.6 346.3L311.8 345L311.9 345.8L311.7 345.7L311.9 345.6L312.5 346L312.3 347.3L312.5 346.8L312.4 348.5L312.7 347.8L312.9 348.8L313.3 348.6L313.1 350L313 349.6L313.3 351.8L313.5 350.6L313.5 351.5L313.8 352.7L313.7 352.2L313.7 353.2L313.7 353.7L313.6 353.9L314.2 354.3L314 355.5L314.3 355.9L314.1 356.3L314.3 356.3L314.2 357L314.1 356.6L314.3 357.4L314.7 357.2L314.8 357.8L314.9 359.9L314.8 360.2L315 359.8L315 359.5L315.1 361.1L315.1 360.6L314.8 361.8L315.1 362.6L314.9 362.8L315.5 362.6L315.4 364.5L315.4 363.9L315.3 364.4L315.2 364.1L315.3 364.7L315.8 365.6L315.6 366.3L315.9 366L315.9 366.2L315.9 364.9L315.6 364.6L315.7 364.7L315.6 363.9L315.8 363L316 363.7L316.3 362L316.3 362.7L316.1 361.5L316 361.5L316.2 361L316.5 360.3L316.4 359.7L316.1 359L316.1 358L316.7 358L316.3 357.6L316.3 357.5L316.4 356.3L316.7 357.3L316.4 356.4L316.8 355.5L316.7 354.1L316.7 354.7L316.7 355.2L316.8 354.4L317.1 353.9L317 352.8L317.2 351.6L316.9 351L317.1 351.4L317.4 351.9L317.2 350.6L317 350.7L317.3 349L317.6 348.3L317.4 348.8L317.5 348.3L318.3 347.2L318.2 348.1L318.6 348L318.7 346.2L319.3 346.3L319.3 347.4L319.2 347.5L319.7 348.6L319.8 347.2L319.6 348L319.5 348.5L319.9 349.6L319.6 349.4L319.7 351.2L320.1 350.7L320.3 352.2L319.9 351.2L320 352.4L320.3 352.6L320.5 353.1L320.3 353.8L320.7 353L320.5 353.6L320.7 354.6L320.9 355.6L321 355.8L320.9 357.1L321 356.2L320.7 357.9L320.7 358.3L321.3 358.2L321.4 358.6L321.2 358.8L321.4 358.5L321.1 357L321.4 357.3L321.1 357.1L321.2 356L321.6 356.3L321.6 356.2L321.4 355L321.4 354.4L321.7 355L321.4 354.2L321.4 352.3L321.7 353.4L321.5 353.4L321.8 351.6L321.9 352.2L321.5 351.8L321.7 350.1L321.7 350.1L321.9 349.2L321.6 349.4L322 349.1L321.9 349L321.7 347.1L321.7 347.4L322 346.3L322.1 345.4L321.8 346.9L322.4 344.6L322.2 345.1L322.2 345.3L322.3 345L322.4 344.5L322 343.9L322.2 343.6L322.5 343.2L322.5 341.6L322.4 341.9L322.2 341L322.5 340.9L322.5 340L322.5 339.8L322.8 338.9L322.8 339.5L322.6 338.3L322.8 338.4L322.7 336.9L322.8 337.2L322.7 337.4L323 336.4L323 334.6L323.1 335.2L322.9 335.6L323.3 334.1L323 333.2L323.2 333.5L323.2 332.8L323.3 332.5L323.6 331.9L323.7 331.7L323.4 331.3L323.7 331.1L324 329.8L324 329.1L323.9 328.2L324.1 328.6L323.9 328.3L323.9 327.3L324.2 327.7L323.9 326.5L324.4 326.1L324.1 326.2L324.3 325.6L324.5 326.9L325.1 325.7L324.8 326.1L325.2 326.8L325.6 328.4L325.5 327.1L325.7 328L326.2 328.8L326.1 328.2L326.3 328.3L326.7 328.4L326.5 327.3L326.4 326.7L326.9 326.8L326.6 325L327.1 325.6L327.1 323.8L327.1 323.3L327.3 324.4L327.1 322.4L327.5 323.9L327.5 322.2L327.4 322.6L327.9 321.3L327.5 322.1L327.7 320.5L327.7 320.6L328.2 319.6L328.2 319.1L328.1 318.8L328.1 318.9L328.4 318.4L328.3 318.1L328.5 317.9L328.3 316.3L328 316.1L328.2 314.6L328.6 314.7L328.6 313.7L328.3 314.8L328.5 314.1L328.5 312.5L328.7 313.3L328.5 312.5L328.7 311.9L328.6 311.4L328.8 311.5L328.5 311.1L328.6 310.4L328.6 310.4L329 309.7L328.7 308.4L328.8 308.4L328.5 307.9L329.1 306.4L329.1 307L329.2 306.8L329.1 306.4L328.9 304.7L329 305L329.3 306.2L329.2 305.3L329.2 306.4L329.1 306.8L329.3 308.2L329.4 308.6L329.6 307.5L329.6 308.3L329.6 309.1L329.7 309.1L329.7 309.6L329.9 310.3L329.8 311.8L329.7 310.3L330.1 311.7L330 312.8L330.2 312.4L330.3 312.8L330.2 314.1L330.1 313.8L330.1 314.1L330.2 315.5L330.1 316.2L330.5 315.8L330.5 315.8L330.6 317.4L330.5 317.1L330.6 317.5L330.5 317.5L330.9 318.7L330.8 319.2L330.7 318.3L330.8 320L330.8 320.3L330.9 320.2L331.3 320.9L331.3 322.1L331.2 321.2L331.5 322.7L331.4 323.4L331.5 324.3L331.2 324.9L331.6 324.2L331.9 325.7L331.7 324.3L331.8 325.6L331.8 326.9L331.6 327.4L331.8 326.7L331.7 326.8L331.9 328.1L332.4 327.9L332.1 328.7L332.3 329.2L332.4 329.2L332.1 330.5L332.6 330.1L332.5 331.3L332.3 332.1L332.4 333.1L332.9 332L332.8 332.2L332.7 333.3L333.2 334.8L333.2 334.8L333.2 335L333.3 335.4L333.3 336.5L333.3 336.1L333.6 337.7L333.5 337.1L333.6 337.1L333.6 338.7L333.6 338.5L333.8 339.2L334.1 338.7L334 339.3L334.2 340.7L334.1 340.3L334.3 341.3L334.4 341.4L334.9 343L335 342.5L335 342.5L335.1 344.5L335.1 343.8L335.3 345.2L335.6 344.9L335.6 345.8L336 346.4L336.2 346.3L336.4 347.2L336.2 346.7L336.5 346.8L336.8 348.6L336.6 348.3L336.4 349.1L336.9 348.7L336.5 350.3L336.8 351L336.9 351.8L337.2 350.9L337.1 351.9L337.1 352.8L337.3 353.3L337.1 353.1L337.4 353.7L337.1 354.7L337.5 353.8L337.8 355L337.8 355.9L337.8 356.7L337.8 356.3L337.6 355.5L337.7 355.7L337.8 354L337.8 353.8L338.1 354L338.1 352.6L338.2 352.6L338 351.8L338.1 352L338.2 351.7L338.3 351.8L338.7 350.5L338.3 351.4L338.4 350.3L338.9 349.5L339 348.4L339 349.4L339.1 348.9L338.9 347.7L339.2 347L338.9 345.9L338.9 345.6L339.4 345.5L339.2 346.4L339.3 345L339.5 345.3L339.3 345.6L339.5 347.3L339.7 347.8L339.8 346.4L340.2 346.9L340.3 348.4L340.1 349.3L340.3 350.1L340.5 350.4L340.6 350L340.9 349.3L340.8 349.6L340.9 347.7L340.9 348.7L340.7 346.9L340.7 347.4L340.7 347.5L341 347.4L341.2 345.8L340.9 345.4L341.2 345.8L341.5 344.2L341 344.5L341.5 344L341.6 343.9L341.5 343.4L341.3 343.2L341.6 341.1L341.4 341.7L341.5 341.9L341.6 340.5L341.8 341L341.7 340.4L342 339.3L342.2 339.5L342.1 338.4L341.8 337.3L342.2 336.6L342.2 336.6L342.1 337.1L342.4 336.5L342.3 335.7L342.6 336L342.5 333.9L342.7 333.3L342.5 333.8L342.4 333.7L342.5 333.4L342.9 331.8L343.1 333L343 332.5L343.2 331L343.3 331.5L343.3 329.3L343.2 330.1L343.3 328.6L343.4 328.1L343.5 327.5L343.8 327.3L344 326.7L343.9 327.3L343.7 326.8L344 326.3L343.9 325.6L344.3 325.4L344.1 324.4L344.5 323.4L344.4 323.8L344.5 324.3L344.5 323.7L344.4 325.8L344.7 325.2L344.8 325.2L344.6 327.2L345.1 326.4L344.9 326.6L345 327.9L345.4 328.4L345.5 329.8L345.4 328.3L345.2 330.1L345.3 331L345.4 329.7L346 330.9L345.8 331.7L345.6 331.7L345.9 332.9L346.2 333.3L345.9 333.3L346.2 333.8L346.5 333.6L346.2 334.9L346.6 334.2L346.5 335.5L346.4 336.8L346.2 336.7L346.3 337.5L346.6 337.3L346.3 338.4L346.7 338.5L346.7 339.7L346.5 339.6L346.8 339.2L346.9 339.8L347 340.8L347 341.8L347 341.3L346.8 342.2L347 342.3L347.1 342.3L346.9 342.6L346.8 343.4L346.7 344.4L347.1 344.5L347.2 345.3L347.2 344.8L347 345.1L347 347.2L347 347.2L347.2 347.8L347.5 348.6L347.6 349.3L347.3 349.8L347.5 348.8L347.3 349.8L347.7 349.4L347.7 351L347.6 350.9L347.5 351.3L347.7 351.9L347.7 353.2L347.4 351.9L348 352.7L347.9 353.6L347.6 353.3L347.7 354.9L347.6 354.2L347.7 356.4L348 355.6L347.9 356.4L348.1 356.6L347.9 357.4L347.9 357.7L348.2 358.4L348.1 358.8L347.9 358L348.3 357.3L348.2 357.5L348.3 356.3L348.6 355.6L348.7 355.2L348.6 355.7L348.6 355.4L348.9 354.3L348.5 353.6L349 353.9L349 353.1L348.8 353.2L349 353.2L348.8 351.6L349.2 352.3L349.2 351.6L349 350.8L349.2 350.4L349.2 349L349.3 349.6L349.6 349.5L349.5 347.4L349.8 347.3L349.8 347.3L349.7 345.9L349.6 346.9L349.8 346.7L350.1 345.5L350 345L350.4 343.6L350.2 344.2L350.1 344.4L350.2 343.3L350.4 342.5L350.6 341.9L350.5 342.2L350.9 340.5L351.2 340.1L350.9 340L351.1 340L351.5 338.8L351.4 339.4L351.3 338.4L351.6 338.2L351.7 339.4L351.9 339.1L351.6 339.3L352.1 339.9L352 340.7L351.8 341.2L352.3 340.6L352.2 342.5L352.2 342.3L352.3 342.8L352.5 342.8L352.9 344L353 343.7L352.7 344.2L353.1 344.7L353 344.8L353 345.4L353.1 346.3L353.6 345.6L353.8 345.6L353.6 345.1L354.2 345L354.4 344.3L354.4 343L354.8 343.6L354.9 342.5L355 342.5L355.2 343L355 344.4L355.4 344.3L355.5 344.8L355.3 345.8L355.7 345.7L355.5 345.8L355.3 347L355.9 346.9L355.7 347.8L355.5 347.5L355.8 348.3L355.9 348.8L356.3 348.9L355.9 348.6L356.2 350L356.4 350.4L356.3 350L356.1 350.4L356.6 350.9L356.3 352.2L356.5 352.1L356.6 353.4L356.9 352.8L356.5 353.3L356.5 353.9L356.4 355.6L356.6 355.9L357 356.4L356.6 356.5L357.1 357L357 357.1L357.2 357.7L356.9 358.1L357.1 357.9L357.2 359.7L357.3 358.5L357.2 360.4L357 360.4L357.4 360.9L357.3 360.3L357.5 361L357.5 362.2L357.5 362.6L357.7 362.3L357.9 364L357.8 363.3L357.8 364.2L357.8 365.3L357.7 366.2L357.7 365.7L357.9 365.5L358.1 366.3L358.1 366.4L357.7 367.7L357.8 367.9L357.8 368.9L358.2 369.3L357.9 368.5L358.2 369L358.3 370.4L358.5 371.4L358.3 371.8L358.3 371.2L358.1 372.5L358.5 372.8L358.4 372.9L358.7 373.2L358.3 374.8L358.7 375.1L358.9 374.7L358.4 375.2L358.6 375.5L358.9 375.6L359 376L358.6 377.7L358.8 377.5L358.7 378.4L358.7 378.2L358.9 378.4L359.1 380.2L359.2 379.1L358.7 380.1L359.2 380.8L359.3 382.2L359.2 381.2L359.1 381.2L359.1 383.1L359.1 382.4L359.2 384.3L359.3 383.2L359.2 383.9L359.5 384.7L359.3 386.1L359.2 385.7L359.7 385.9L359.5 387L359.4 387.4L359.4 388.3L359.6 388.5L359.6 388.9L359.5 388.3L359.5 389.1L359.4 390.5L359.7 390.4L359.8 390L359.5 391.7L359.5 392.5L359.8 393.2L360.1 392.5L359.8 393L360.1 393.5L360.1 395.1L360.1 394.6L360 395L360.2 394.5L360.1 393.9L360.4 394.6L360.2 393.3L360 392.8L360.6 391.7L360.5 391.3L360.5 390.9L360.5 391.4L360.2 391.1L360.6 389.5L360.5 389.6L360.8 388.4L360.4 388.1L360.8 388L361 388.1L360.8 387.4L360.7 387L361 385.8L361.1 385.1L361.3 385.5L361.4 385.3L361 385L361.3 383.8L361.4 384.1L361.4 382.6L361.6 383.5L361.4 383.1L361.7 381.4L361.5 381.3L361.5 381.3L361.9 381.5L361.9 383.2L362 383.4L362.4 384L362.6 384L362.7 383.6L363.1 385L363.4 385.2L363.1 386.8L363.2 386.4L363.1 386.6L363.6 387.9L363.6 388.6L363.3 387.3L363.3 388.9L363.6 388.8L363.8 389L363.8 389.8L363.6 391L363.7 391.5L364.1 391.2L363.9 391.2L363.8 392.7L364 392.9L364.1 392.7L364 394.2L364.2 393.4L364.5 393.9L364.2 394.3L364.5 396L364.2 396.8L364.7 397L364.6 396.7L364.4 396.8L364.9 397.3L365 398.8L365.1 397.9L364.8 399.8L364.8 399L365 400L364.8 400.5L365.1 400.3L365 401.6L365 402.4L365.4 402.1L365 402.9L365.2 402.4L365.4 403.8L365.2 403.6L365.5 405.4L365.3 405.2L365.3 405.4L365.6 405.5L365.6 406.4L365.3 406.1L365.6 406.6L365.7 407.9L365.8 409L365.8 409.2L365.6 409.8L366.1 409.7L366.1 410.1L365.9 409.8L365.9 411.3L366.2 412.2L366 412.7L366 411.3L366.1 412.8L366.3 412.6L365.9 414.1L366 414.8L366.3 413.8L366.3 415L366.4 416L366.2 416.8L366.2 415.7L366.6 417.2L366.6 418.2L366.4 416.9L366.7 418L366.7 418.5L367 418.8L366.9 419.8L366.8 421L366.8 420.2L366.8 421.5L367.2 421.3L367.1 422L366.9 421.7L367.1 421.2L367.3 419.6L367 420.8L367.6 418.9L367.2 419.1L367.6 418.4L367.8 417.5L367.8 417L367.7 418.3L367.8 417.8L367.6 417.4L368 415.5L368 416.4L367.7 414.9L368.1 414.8L368.2 414L368 413L367.9 414L368 413.6L368.3 412.4L368.1 410.8L368 412L368.6 411.8L368.2 411.3L368.4 410L368.4 409.3L368.7 409.7L368.5 408.2L368.2 407.5L368.3 407.1L368.5 406.9L368.3 407.6L368.4 405.4L368.2 406L368.3 405.6L368.3 404.9L368.6 404.6L368.4 404.8L368.9 404.3L368.9 404.1L368.5 402.8L368.6 402.8L368.4 401.3L368.6 401.5L369 400.6L368.4 400.2L368.9 399.2L368.7 399.7L368.9 398.7L368.8 399.5L369 398.3L368.7 398L368.9 397.6L368.9 396.6L368.9 396.1L368.7 395.1L368.9 394.8L368.7 394.6L368.8 394.4L369.2 394.1L368.9 393.4L368.9 393.8L368.9 392.8L368.8 391.6L368.8 391L368.8 390.4L368.9 391.1L368.8 391L369 390L369 389.8L369 389.7L369.2 387.9L369.1 387.7L369.2 387.5L368.9 386.3L369.4 386L369 387.2L368.9 385.7L369.1 385.8L369.3 385.9L369.1 383.7L369 383.1L369.1 383.9L369.5 382.4L369.1 383.5L369.3 382.1L369 380.9L369.1 381.6L369.1 380.9L369.5 379.4L369.2 379.8L369.4 380L369.5 378.9L369.3 378.9L369.4 379L369.4 377.9L369.5 377.2L369.5 377.1L369.5 377.3L369.4 375.9L369.8 376.1L369.6 374.6L369.3 374.3L369.5 373.9L369.4 373.6L369.6 372.3L369.7 373.1L369.4 371.7L369.4 371.7L369.8 371.1L369.7 371.1L369.4 369.5L369.7 370.8L369.8 369.4L369.6 368.3L369.8 369.1L369.7 367.3L369.6 368.1L370 367L370 366.5L369.5 365.7L370.1 366.3L369.6 365L369.8 364.9L369.6 365.3L369.9 363.6L369.6 363.7L370.2 363.6L370.2 363.4L370.1 361.3L369.9 361.9L370 361.3L370 361.2L369.8 362.9L370.1 362.3L370 363.9L369.9 363.8L369.9 364.8L370.3 365.4L370.1 365L370 365.1L370.4 366.8L370.5 367.1L370.2 367.1L370.5 367.1L370.5 368.3L370.1 367.9L370.4 367.9L370.1 368.4L370 370.3L370.6 370.6L370.3 370.9L370.4 370.7L370.4 370.6L370.2 371.5L370.3 372.6L370.2 372.2L370.6 373.7L370.7 374.2L370.3 374L370.7 375.1L370.3 374.9L370.5 374.4L370.4 376.4L370.6 376.2L370.6 376.8L370.5 376.4L370.7 378.2L370.5 378.7L370.8 379L370.8 380L370.4 380.4L370.6 380.5L370.8 379.6L370.7 380.1L370.8 381L370.6 381.3L370.9 382.5L370.6 383.2L370.6 383.8L370.8 384.2L370.9 385L370.9 384.5L370.9 385.1L370.7 385.1L371 386.5L371.2 386.7L370.9 386.6L371 387.6L371.2 388.2L370.9 387.7L370.7 389.2L370.9 388.9L370.7 389.5L371 390L371.3 389.1L371.3 389.6L371.3 388.8L371.1 388.6L371.3 388.7L371.3 387L371.6 387.1L371.3 386.7L371.3 385.3L371.8 385.4L371.8 384.5L371.6 384.1L371.9 384.4L371.7 383.5L371.6 382.7L371.9 382.5L371.6 382.2L371.9 382.9L371.9 381.3L372.3 381.5L372.1 380.4L372 379.4L372.2 380L372 379.2L372.3 378.8L372.2 379.5L372.3 380L372.6 380L372.5 379.8L372.4 381.3L372.8 380.8L373 382.8L372.7 382.5L372.9 382.6L372.8 383.8L372.9 383.7L373 383.5L373 384.3L372.9 385.2L373.3 385.7L373.2 386.4L373.2 387.5L373.1 386L373.4 387.9L373.4 387.7L373.4 387.9L373.7 389.6L373.5 389.4L373.6 389L373.9 390.3L374.1 391.5L374.1 390.7L373.7 392.2L373.7 392.4L374 392.5L373.8 392.5L373.8 390.8L374.3 391.2L374.1 391.6L374.3 389.7L374.3 389.6L374.1 389L374 388.5L374.1 387.8L374.4 387.7L374.3 388.2L374.4 386.4L374.5 387.5L374.5 385.8L374.5 386L374.1 385L374.5 384.9L374.7 385L374.6 384.9L374.3 384.3L374.1 383.6L374.2 382.6L374.5 381.3L374.6 382.2L374.4 380.7L374.7 380.8L374.3 379.9L374.9 379.4L374.5 379.3L374.9 379.6L374.6 378.8L374.4 377.2L374.6 377.9L374.5 376.2L375 376.1L374.5 375.4L374.5 375.4L374.9 375.7L374.7 374.9L374.8 374.6L374.6 374.3L374.6 374.4L374.7 373.2L374.7 372.5L374.8 372.5L375.1 372.4L375 371.3L375.3 370.8L375.1 370.1L374.9 370L375.4 368.6L375.2 368.7L375.2 368.1L375.3 368.1L375 367.6L374.9 366.4L375.4 366L375.1 366.7L374.9 366.7L375 366.4L375.2 365.2L375.3 363.7L375.3 364.6L375.5 364.1L375.4 362.4L375.3 362.7L375.1 362.8L375.1 362L375.2 360.7L375.7 361.2L375.5 360.7L375.5 360.8L375.2 359.3L375.3 359.3L375.4 359.5L375.3 357.8L375.8 358.2L375.5 357.1L375.7 356.2L375.7 355.9L375.8 355.1L375.8 356.2L375.3 354.4L375.9 355.2L375.5 354.8L375.7 353.2L375.8 353.1L375.5 353.5L375.8 351.8L375.7 352.3L375.7 351L375.8 351.9L375.5 350.1L375.8 350.1L375.8 350.6L376.2 348.2L376.1 348L375.9 347.5L376.1 348.8L376.4 347.1L376.4 347.3L376 347.2L376.2 346.9L376.2 346.3L376.4 345.1L376.3 344.6L376.7 344.3L376.9 343.8L376.9 342.5L376.9 343L377 342L376.8 342.5L376.7 341.1L377.2 341.2L377 339.5L377.2 339.9L377 339.3L377 339.8L377.4 339.6L377.3 338.2L377.5 338L377.4 340.1L377.3 339.2L377.4 339.3L377.6 340.7L377.6 341.6L377.9 340.7L377.8 341.8L378 342.3L378 342.4L378.3 342.3L378.4 344.3L378.5 343.3L378.6 343.7L378.4 344L378.7 344.8L378.7 345.1L378.9 346.3L379.6 345.3L380 346.3L380.3 345.6L380.8 345.1L380.8 346.2L381.1 345.2L381.2 345.7L381.1 346.3L381.2 347.7L381.4 347.5L381.1 348.2L381.7 348.8L381.6 349.7L381.7 350.5L382 350.6L382 349.8L381.7 351.4L382 352.2L382.2 351.6L381.9 352.7L382 352.8L382.1 353.1L382.4 354L382.5 353.3L382.8 355.1L382.6 355.1L382.9 355.8L382.8 356.8L382.9 356.8L382.5 356L382.9 358.1L382.7 357.3L382.8 359L383 358.1L382.7 358.7L383.1 359.2L383.2 360L382.8 360.5L382.8 361.9L382.8 361.4L383.1 361.1L383 363.5L383.4 362.8L383.5 364.3L383.5 364.4L383.4 364.4L383.5 365.1L383.7 364.7L383.7 366.3L383.4 366.9L383.4 366.5L383.6 368.1L383.4 368.3L383.6 368.1L383.8 368.5L383.7 367.5L384.1 367.5L384.1 367L384.2 365.9L384 365.4L384.6 365.8L384.1 364.1L384.3 364.7L384.4 364.1L384.5 362.8L385 361.9L384.9 361.7L385.1 360.8L385.1 360.8L385.4 360.5L385.3 359.4L385.6 360.1L385.7 359.9L385.2 359.5L385.5 357.9L385.9 358.4L385.8 357.6L385.9 356.3L386.2 355.8L386.1 355.3L386.3 356.3L386.5 356.3L386.6 355.5L387.1 354.7L387.2 353.2L387.5 354.4L387.5 352.4L387.6 352.6L387.4 351.7L388 351.3L387.6 351.3L387.5 351.4L387.9 350L387.5 350.7L388 350L387.7 349.9L388 347.6L388.2 348.5L387.8 348.4L388.1 347.4L387.8 346.1L388.3 345.3L388 344.9L388.2 344.6L388.4 344.8L388.4 345.3L388.6 343.4L388.2 344.1L388.3 344L388.3 342.9L388.3 342.6L388.3 341.6L388.6 341.9L388.3 340.2L388.4 340.9L388.7 340.4L388.8 338.9L388.7 338L388.6 338.8L388.6 338.7L388.6 337.5L388.9 336.6L389 336.6L388.9 336.3L388.7 335.1L389 336L389.1 335.7L389.1 335L389.2 334.2L389.1 332.9L388.9 332.3L388.9 332.4L389 332.3L389.4 331.3L389.5 331.9L389.1 331L389.1 329.5L389.1 329.3L389 328.5L389.6 329.7L389.6 327.7L389.1 328.8L389.4 327.3L389.6 327.2L389.4 326L389.3 326.6L389.8 324.8L389.4 325.3L389.5 324.8L389.7 323.9L389.5 323.8L389.9 322.7L389.8 323.6L389.8 322.2L390.1 322.6L390.1 321.2L389.9 321.1L390.1 320.9L390 320.3L390.2 319.5L389.8 318.7L389.9 318.1L390.3 318.5L390.2 317.9L390.1 317.5L390.2 316.5L390.6 316.4L390.4 316.6L390.8 316.7L390.7 315.1L391 314.6L390.7 314.3L390.9 313.4L391.3 313.1L391.3 312.6L391.1 313.1L391.6 312.5L391.6 311L391.7 311.8L391.8 310.7L392 311.3L392 310.9L391.7 312.7L391.7 312L392 313.4L392.3 314.1L392.5 313.4L392.1 313.6L392.2 314L392.7 315.4L392.4 314.8L392.8 315.6L392.7 316L392.5 316.3L392.7 317L392.8 318.4L392.6 317.6L392.9 318.6L392.9 319L392.8 319L393.2 320.5L393.2 320.9L393.2 320.5L393.5 321.6L393.2 321.5L393.3 323.4L393.3 323.5L393.2 323.5L393.5 323.8L393.4 322.8L393.5 322.7L393.8 322.3L394 321.3L394 321.4L394 320.9L393.8 321.4L394.1 320.6L394 320.2L394.4 319.8L394.4 318.5L394.1 319.1L394.5 318.7L394.3 317.3L394.6 316.4L394.2 315.9L394.4 316L394.5 315.6L394.3 314.9L394.7 313.9L394.7 315.1L394.9 314.8L395.1 313.4L394.6 312.1L395 313.2L394.9 311.3L395.2 311.7L395.1 310.4L395.2 310.7L395.3 311.3L395.5 312.4L395.2 312.7L395.4 312.3L395.5 313.6L395.6 312.6L395.7 313.2L395.5 313.4L395.8 314.7L395.7 314.5L396.3 315.8L396.4 316.2L396.5 317L396.3 316.1L396.4 317.5L396.3 318.5L396.6 318L396.4 319.2L396.9 318.8L397 319.9L396.6 319.6L397 321.6L396.8 320.7L396.8 321.1L396.9 322L397 322.9L397.1 322.6L397.2 322.9L397.1 323.2L397.1 324.8L397.2 324.9L397.8 325.6L397.5 325.6L397.7 326.3L397.7 326.4L397.6 326.5L397.7 327.1L397.9 327.3L398.2 327.9L398.2 329.4L398.3 329.9L398.6 329.8L398.3 329.4L398.7 330.5L398.5 330.4L398.5 332.5L398.8 332.8L398.9 332.6L399.2 332.5L398.8 334.3L398.9 334.2L399.4 334.3L399.1 335.8L399.4 336.2L399.4 335.2L399.1 335.3L399.7 336.8L399.7 338L399.3 338.5L399.4 337.4L399.5 339.5L399.9 338.6L399.7 340L400 340.6L399.8 339.7L399.9 341.6L400 341.9L399.8 341.6L400.3 342.2L400.3 343.2L400.1 343.4L400.3 343.3L400.3 344.5L400.6 345.3L400.3 345.1L400.5 346L400.5 345.7L400.4 345.2L400.5 345.4L400.8 343.4L400.6 343.2L400.9 344L400.8 342.2L401.1 342.8L401 341.7L401.1 341.1L401.4 341L401.4 340.9L401.2 339.9L401.5 340.6L401.8 338.7L401.4 338.2L401.5 338.3L401.8 338.9L401.8 336.9L401.8 336.5L401.8 336.9L402 336.3L402.2 335.2L402.2 336.2L402.6 335.1L402.5 334L403 333L403.1 334.4L403.2 332.2L403.3 332.6L403.1 333.6L403.3 333.3L403.7 334.3L403.6 334.7L404.1 334.7L403.9 335.6L404.3 336.1L404.5 336.7L404.6 336.1L404.5 336.4L404.3 337.1L404.9 337.5L404.6 339.2L405.2 339.3L404.9 339.9L404.8 338.7L405.2 340.1L405.1 339.3L405.4 340L405.8 339.5L406 338.2L406.1 337.1L406.4 338.5L406.9 338L406.6 336.6L407 336.3L407.4 336.1L407.1 336.6L407.3 338.1L407.8 339.1L407.6 339L408.2 338.4L408 340.4L408.6 339.1L408.4 340.7L408.5 340.7L408.9 341.3L408.8 340L409.2 340.5L409.5 339L409.4 338.7L409.6 338.4L409.6 339.6L409.9 338.5L410 337.2L410.2 338.3L410 337.5L410.3 335.8L410.6 336.7L410.5 334.9L410.8 335.1L411 334.1L411.1 335.2L411 333.6L411.3 332.6L411.7 333.7L411.8 332.5L412.1 332.6L412.5 331.1L412.2 331.8L412.6 331.3L412.7 330.1L412.9 330.9L413.3 329.8L413.7 330.4L414.3 331.2L415 331L415.2 331.3L415.6 330.7L415.8 330.1L415.8 329.6L416.6 330.3L416.9 329.2L417 328.4L417.2 329.6L417.7 328.2L418.3 327.9L418.7 327.9L419.1 327.7L419.7 328.5L420.2 327.6L420.5 326.7L420.4 326.1L420.7 325.5L420.5 324.8L420.6 325.2L420.4 324.2L420.8 324.4L420.8 323.1L420.9 323.2L420.9 323.2L421 322.7L421.4 321.2L421.4 322L421.7 321.6L421.7 321.1L421.5 320.9L421.9 319.8L421.8 319.4L422.1 318.9L422.2 320L422 321.3L421.9 321.2L421.9 320.7L422.5 321.5L422.3 321.8L422.6 323L422.7 323L422.5 323.4L422.6 324.7L422.7 324.9L422.6 326.1L422.5 325L423 327.1L423.2 326.1L423.3 326.9L423.1 327.8L423.2 328.7L423.5 328L423.3 328.8L423.7 328.9L423.6 329L423.7 329.8L424.1 330.9L423.8 332L423.8 332L424.2 331L424.2 331.7L424.7 332.1L424.6 333.4L424.6 333.8L424.4 335.1L424.8 335L424.6 334.5L424.7 334.7L424.7 336.1L424.9 337.1L424.8 336.5L425.1 337.9L425.1 337.4L425 338.2L425.2 339.5L425.2 339L425.6 339.2L425.2 341.2L425.8 340.4L425.5 341.1L425.5 342.2L426 342.6L425.8 342.6L425.8 343.7L426.1 342.9L426 343.3L426.2 345L425.9 345.4L425.8 344.5L426 345L425.9 347L426 346.3L425.8 347.3L426 348.5L425.9 348L426 348.3L425.9 348.8L426.1 348.9L426 350L426.4 350.4L426.1 349.9L426.2 351L426 351.7L426.3 352L426.4 353L426 352.3L426.3 353.8L426.4 353.5L426.3 355L426.3 355.1L426.2 355.7L426.4 354.9L426.6 357L426.8 357.7L426.6 357.2L426.4 358.2L426.5 357.9L426.3 358.9L426.7 359.7L426.4 359L426.7 359.3L426.9 361.4L426.7 360.5L426.7 362L426.7 361.9L426.7 361.7L426.9 361.8L427 360.9L426.9 360.8L427 360L426.9 358.3L427.1 358.1L427.4 357.7L427.4 357.4L427 357.4L427.2 357.8L427.4 355.6L427.3 355.1L427.4 355.5L427.4 355.3L427.5 355.2L427.7 353.6L427.8 352.7L427.5 352.2L428 352.7L428 353.2L427.6 352.6L427.6 351.7L428.1 350.6L428.2 350.9L428 349.5L427.9 348.6L428.2 349L428 348.6L428 347.7L428.3 347.6L428.6 347.4L428.7 347.8L429 348.4L429.2 350.3L429.4 349.4L429.4 349.5L429.8 351.2L429.4 350.5L429.6 351.4L430.3 352.7L430.2 352.6L430.2 353.7L430.1 353.6L430.4 353.1L430.8 354.7L430.9 355.1L430.8 354.5L430.8 356.5L430.9 356.4L431 356.3L430.8 356.5L431 356.6L431 358.4L431.6 358.7L431.6 358.2L431.7 359L431.8 359.2L431.6 360.2L431.6 360.1L432 361.6L432.3 361.8L432 361.8L432.2 362.5L432.5 362.9L432.6 363.2L432.4 362.7L432.5 364.1L432.5 363.6L432.4 363.1L432.5 362.3L433.1 363.1L432.7 362L433 360.5L433 361L433.2 360.6L433 360.2L433.4 358.9L433.5 360L433.8 358.9L433.7 358.7L433.7 358.2L433.7 357.4L434.1 357L434 356.4L434.5 356.2L434.8 356.7L435.3 356.3L435.8 356.4L435.8 355.5L436 356.2L435.8 355.3L436.1 354.8L436.2 353.9L435.9 353.3L436.3 353.4L436.6 353L436.5 351.9L436.7 351L436.8 351.3L436.6 351.2L436.7 351.4L436.5 349L436.9 348.9L436.7 350L437 348.1L437 347.5L437.1 347.6L437 346.4L437.6 347.2L437.3 345.5L437.7 346.6L437.3 346.1L437.6 345.9L437.7 344.3L437.5 344.2L437.7 344.3L437.8 343.9L437.9 343.3L438.3 343.1L438.3 341.5L438.3 341.3L438.3 340.3L438.3 340L438.6 340.6L438.5 339.5L439 338.4L439.2 338.1L439.4 337.5L439.6 337.4L439.3 336.6L439.5 336.1L439.7 337.4L439.9 335.8L440.2 334.7L440.2 335.1L440.1 335.4L440.3 333.5L440.4 334.2L441 333.1L440.9 332.8L440.7 332L440.9 331.4L441.3 330.6L441.2 331.5L441.1 331.5L441.5 330.1L441.8 330L441.8 328.7L442.5 329.9L442.2 329.2L442.6 327.4L443.1 327L443.5 328.1L443.4 326.3L443.8 327.2L444 326.3L444.1 326.4L444.6 325.4L445 324.5L445.7 324.6L446.3 325.5L446.5 324.4L446.7 324.9L446.8 325L446.8 325.9L446.9 326.2L447.2 327.8L447.2 328L447.1 326.9L447.1 328.2L447.6 329.1L447.7 329.7L447.5 328.7L447.7 330.1L447.8 329.3L448.1 330L448 329.3L448.2 328.3L448.1 328.7L448.4 327.5L448.6 326.2L448.6 326.5L448.4 325.2L448.6 326.2L448.5 325.8L449 324L448.9 324.1L448.8 322.9L449 323.2L448.9 324.5L449.4 325L449.2 324.6L449.1 324.9L449.4 326.5L449.2 326.3L449.3 327.4L449.5 327.3L449.8 326.8L449.8 327.6L449.7 328.1L449.7 329.1L450.3 329.3L450.1 329.7L450.2 330.1L450.1 331L450.5 330.2L450.4 330.7L450.7 330.9L450.9 331.4L451 332.1L450.9 333.6L451.2 334.4L450.8 334.5L451.1 333.9L451.2 335.8L451 335.8L451.4 336.6L451.5 336.3L451.6 335.4L452 334.6L452 334.6L451.8 333.9L452.4 333.4L452.6 332.9L452.7 332.3L452.7 332.8L452.8 333.2L452.7 332.9L453 332L453 332L453.4 330.5L453.4 330.1L453.6 331.2L454.2 331.8L454.7 331.7L455 330.9L455.4 332.3L455.3 331.4L455.9 332.6L456.1 331.7L457 332.5L457.4 331.4L457.7 331.3L458.1 331.1L457.8 332.1L457.9 333.2L458.4 333.6L458.2 333.8L458.3 334.2L458.5 333.8L458.8 335.6L458.9 334.6L458.7 336.4L459.1 336.6L459.3 336.7L459 337.2L459.2 337.5L459.4 338.2L459.7 337.4L459.7 337.5L459.4 336.9L460 336.7L460 336.2L460.2 334.6L459.9 334.4L460.2 334.2L460.2 334.5L459.9 333.9L460.2 332.8L460.5 333.1L460.3 332.8L460.3 331L460.9 332.3L461 332L461 330.7L460.9 330.1L461 329.7L461.3 330.1L461.1 328.2L461.3 328.1L461.5 328.7L461.5 326.6L461.5 326.2L461.6 327.1L461.8 326L461.6 326.5L462.1 325.1L461.7 325.1L462 324L462.1 323.8L462.2 322.9L462.2 323.2L462.5 322.3L462.8 322L462.6 321.1L463 321.4L463.2 321.1L463.1 320.7L463.4 319.3L463.3 319.6L463.8 319.8L464 319L464 317.4L463.9 318.2L464 317L464.4 315.6L464.2 315.5L464.6 315.7L465 316.7L464.8 315.8L465.6 316.2L465.7 317.4L466 318.1L465.8 318.6L466.4 317.5L466.5 318.8L466.9 318.8L466.7 319.7L466.9 320.3L466.7 321.3L467.1 320.2L467.2 320.8L467.2 322.3L467.5 321.7L467.4 323.7L467.7 322.6L467.8 323.1L467.6 324.4L467.7 323.8L468.2 325.9L467.9 325.9L468.1 325L468.4 326.3L468.2 324.9L468.7 326.2L468.4 324.2L468.5 324.3L468.8 323.4L469.2 322.7L469.1 322.3L469.3 321.9L469.1 323.1L469.2 321.6L469.5 322.2L469.6 320L469.7 320.6L469.8 319.6L470 318.5L469.9 319L470.3 319L469.9 317.7L470.2 317.5L470.3 316.8L470 317.6L470.3 315.4L470.1 314.7L470.6 314.5L470.4 315.7L470.6 314.5L470.3 314.2L470.7 312.9L470.3 312.8L470.6 313.3L470.6 311.6L470.7 310.9L470.4 310.2L470.7 310.9L470.7 310.4L470.5 309.3L470.8 309.2L470.8 309.8L470.8 309L470.6 308L470.6 307L470.7 306.9L470.7 307.5L470.8 305.8L470.7 305.5L471.2 305.4L471.3 305.1L471.2 304.3L471.3 303.9L470.9 303L471.3 302.2L471 302.9L471.3 302.1L471.3 301.5L471.3 300.3L471.3 301.8L471.4 300L471.5 300.9L471.4 299.3L471.6 299.7L471.3 298.9L471.5 298.1L471.5 298.3L471.9 298.7L472 299.4L472.1 299.2L471.9 299.4L472.2 301.6L472.1 301.2L472.5 301.5L472.2 301.4L472.6 303.2L472.5 303.5L472.7 303.9L472.4 304.3L472.9 304.4L472.7 305.2L472.7 304.8L473.1 306.8L472.8 306.6L473.1 305.8L473 306.8L473.3 307.6L473.5 307.3L473.4 308.7L473.8 309.9L473.9 308.7L473.9 310L474 310.4L474 310.2L474.2 311.9L474.4 311.9L474.6 311.5L474.5 313.1L474.7 311.9L474.7 314L474.6 313.6L475.2 314.1L475 314.9L475.1 315.1L475.3 314.6L475.4 314.6L475.2 314L475.1 312.4L475.3 311.9L475.2 313.1L475.7 311.3L475.2 311.2L475.4 310.3L475.7 309.9L475.6 309.6L475.7 308.9L475.6 309.9L475.4 308.1L475.4 309L475.8 307.3L476 306.7L475.8 307.4L475.9 305.6L475.6 305.4L476.2 306.4L475.8 304.2L476.1 304L476.3 305L476.3 304.3L476.3 303.9L476.1 303.3L475.9 302.8L476.2 302.9L476.5 301.4L476.4 301.2L476.4 299.6L476.4 300.1L476.3 299.1L476.7 300L476.7 299.2L476.8 297.5L476.6 297.9L477 297.1L477 296.5L476.9 295.7L477 296L476.9 296.3L476.9 295.4L477.2 295.4L477.2 293.1L477.6 293.3L477.7 293.4L477.6 292.6L477.6 292.5L477.8 291.3L477.6 291.5L477.8 289.8L477.6 290.1L477.6 289.9L477.9 289L478.1 289.4L477.8 288.6L478.4 288.2L478.4 287L478 286.7L478.1 285.9L478.1 286.1L478.5 286.2L478.1 285.7L478.5 284.3L478.2 285L478.3 283.3L478.4 283.9L478.9 283.7L478.9 283.1L478.7 281.1L478.6 280.8L478.6 280.3L478.7 279.7L478.9 280.1L478.9 281.3L478.9 281L479.4 280.5L479.4 282L479.1 283.2L479.7 282.1L479.9 283.5L479.8 283.2L479.5 284.6L480 284L479.7 285.3L480 285.3L480.4 286.2L480.1 286.9L480.5 287.1L480.8 287.4L480.7 287L480.6 287.9L480.8 288.8L481.4 288.9L482 289L481.8 288.9L481.8 287.6L482.2 286.7L482.1 287.8L482.3 286.4L482 286.7L482.5 284.9L482.3 285.4L482.5 284.3L482.6 284.6L482.6 284.8L482.6 283.8L482.4 282.6L482.5 283.2L482.6 281.6L482.9 281.7L483 281.5L482.9 280.4L483 280.2L482.9 279.6L482.8 278.7L482.8 278.7L483.1 277.7L482.8 278.2L483 278.2L482.7 276.9L483.3 277.1L483 276.1L483.1 274.7L482.9 274.6L483.4 274.1L483.1 274.4L483.3 273.8L483.6 274.6L483.5 274.4L483.5 275.8L483.8 275.3L483.9 276.2L484 276.3L484.1 276.5L484.5 277.6L484.5 276.8L484.3 277.4L484.3 276.1L484.4 274.9L484.4 275.2L484.7 274.4L484.5 275.2L484.7 273.9L484.5 274.1L484.9 272.6L484.9 272.4L484.7 271.2L484.5 271.2L484.5 271.9L485 270.5L484.9 270L484.8 269.3L485 269.5L484.8 269.6L484.8 268.5L484.9 268.1L484.9 267.3L484.6 266.7L485.1 266.9L484.6 265.7L484.9 265.9L485.2 266.2L484.6 265.6L485.2 265L485.2 263.8L485 264L485.1 263.6L485.2 262.4L485.2 262.4L485.3 261.4L485.1 262L485.2 261.3L484.8 259.7L484.9 260.3L484.8 259.8L484.8 258.5L485 258.7L485.2 259.1L485 256.9L485.3 257.4L485.4 257.2L484.9 256.1L485 255.8L485.1 256.2L485.2 255L485.5 253.9L485.7 255L485.4 254.4L485.8 253.7L485.5 253L485.9 252L485.8 251.1L485.7 252L485.9 251.4L486 251L486 249.3L486.3 249.2L486.1 249.2L486.4 248.8L486.5 249.1L486.6 247.8L486.5 247.6L486.4 246.6L486.8 247.4L486.8 245.5L487.1 246.2L486.7 244.9L486.7 245.2L486.8 244.9L487.2 244.4L487.1 242.8L486.9 243.1L486.9 242.5L487.5 241.3L487.3 241.6L487.2 240.5L487.5 240L487.3 239.6L487.8 240.5L487.4 239.4L487.7 238.8L487.7 238.3L487.6 240L487.5 241.1L487.7 240.3L488.2 240.4L487.7 241.5L487.9 241.6L488.1 243.4L488 242L488.1 244.1L488.1 242.9L488.1 243.7L488.2 244.4L488.4 245.6L488.1 244.9L488.6 246.9L488.6 245.9L488.6 246.2L488.6 246.9L488.8 248.6L488.6 248.8L488.9 249.6L488.8 249.5L488.7 250.1L488.6 250.1L488.6 249.9L489 251L488.7 252.5L488.8 252.1L489 251.9L489.3 253.5L489.3 253L489.4 254.7L489.4 253.7L489 254L489 255.6L489.3 255.7L489.1 255.2L489.3 255.2L489.1 254.8L489.7 253.5L489.4 253.9L489.4 253.7L489.8 252L489.5 251.4L489.6 251.4L489.9 251.6L489.9 251.3L489.9 250L489.8 249L489.6 250.2L490.1 248.2L489.8 248.2L489.9 248.1L489.7 248.3L489.9 247.6L490.1 247.6L490 246.3L490.1 245.1L489.7 245.9L490.2 245.3L490.3 243.7L490.3 244.1L490.4 243.5L490.4 242.1L490.2 242.5L490 242.1L490.4 241.3L490.1 241.9L490.1 241.4L490.3 240.6L490.5 239.2L490.4 238.7L490.6 238.4L490.6 237.9L490.4 238.3L490.5 238.3L490.7 236.5L490.9 237.3L490.7 236.5L490.8 236.5L490.8 234.2L490.7 234.7L491.1 233.7L491 233.5L491 232.6L491.2 233.1L490.9 233.1L491.1 231.8L491.1 231.7L491.3 231.1L491.3 230.5L491.4 230L491.2 230.5L491.5 228.7L491.8 228.2L491.8 228L491.5 227.9L491.7 226.6L492.1 227.7L491.9 226.9L492.1 225.5L491.8 225.6L491.9 225.5L492.2 223.9L492.4 225L492.3 224.5L492.3 222.2L492.4 222.4L492.5 222.2L492.9 221.8L493 220.6L492.8 219.9L492.7 220.8L492.9 219.4L493.2 220.4L493.2 218.1L493.6 219L493.4 219L494 218.6L494.1 217.4L494.1 216.1L494.2 216.1L494.2 215.6L494.1 216.1L494.7 214.1L494.7 213.6L494.8 213.5L494.9 213.7L495.2 213.8L495 214.1L495.3 214.1L494.9 215L495.2 215.7L495.4 216.1L495 216.8L495 216.7L495.3 218L495.1 217.6L495.3 218.6L495.4 219.5L495.2 218.7L495.2 220.7L495.6 219.9L495.4 220.6L495.8 221.3L495.7 221.1L495.4 221.8L495.8 222.7L495.9 223.9L495.9 224.8L496.1 225L495.6 224.5L495.7 225.4L495.9 224.8L495.7 226L496 226.5L496.1 225.9L496 225.9L496.2 225.6L496 224L496.3 223.3L495.9 223.2L496.2 223.6L495.9 222.9L496.2 222.8L495.9 222.4L496 221.3L496 221.7L496.3 221.2L496.2 219.4L496.2 218.8L496 219.8L496 218.6L496 218.9L496.6 216.9L496.3 218.4L496.2 216.6L496.7 217.4L496.3 216.4L496.6 215.3L496.1 214.9L496.5 215.6L496.4 214.1L496.4 214L496.2 214.2L496.8 211.9L496.2 212L496.3 212.5L496.8 211.6L496.8 210.5L496.4 210.4L496.6 209.5L496.9 210.2L496.5 208.7L496.5 208.6L496.8 208.9L497 207L496.5 207.2L497 206.9L496.9 207.2L496.7 205.8L496.9 205.9L497.1 204.7L497.1 204.7L497 204.5L496.9 204.5L496.6 202.9L496.9 203.5L496.7 203L496.7 201.7L496.9 202L496.9 201.8L497.1 200.4L497 199.9L497.2 199.3L496.8 198.7L496.9 199.4L497.1 197.8L497 198.7L497.3 196.9L497.3 196.1L497.4 196.2L497.4 195.1L497.2 196.5L497.3 195.3L497 194.2L497.4 195L497.2 193.8L497.1 193L497.3 192.5L497.1 193.2L497.1 192.2L497.3 191.4L497.6 191.5L497.5 189.6L497.6 190.7L497.1 189.1L497.6 190L497.5 189.5L497.2 187.8L497.7 188.4L497.4 187.5L497.5 187.4L497.5 186.1L497.7 186.4L497.5 186L497.5 185.1L497.5 184.3L497.6 183.4L497.6 183.4L497.6 183.3L498 183.5L497.7 181.6L497.5 182.7L498 181.9L498.1 180.8L497.7 179.7L497.8 180.6L497.7 179.5L497.7 178.6L498 179L498.2 177.9L497.8 176.9L497.8 176.4L497.7 176.1L498.1 176.3L498.3 175.9L497.9 174.8L498.3 176L498.3 174L498.1 174L498.2 173.2L498 172.2L498.5 173.7L498.6 172L498.3 171.8L498.5 171.7L498.1 171.7L498.3 173.8L498.5 173.1L498.5 174.1L498.4 174.4L498.8 174.9L498.9 175.9L498.4 176.7L498.8 176.2L498.5 177.1L498.6 177.1L498.6 177.5L499.1 178.3L498.9 178.8L499 179.2L498.8 178.9L499.1 180.8L499.3 180.4L499 181L498.9 181.3L499.3 182.7L499 181.6L499.2 182.9L499.6 182.3L499.1 183.5L499.5 183L499.3 184.9L499.4 184.3L499.2 185.9L499.5 185.9L499.7 186.8L499.6 186.7L499.6 186.9L499.9 186.8L499.8 188L499.7 188L500 188.6L499.6 188.5L500 190.5L499.5 189.6L499.6 189.8L499.8 191.9L499.9 191.7L500.1 191.7L499.7 192.1L499.9 192.9L499.7 193.4L500.2 194.7L500 195.1L499.9 194.8L500.1 194.7L500 195.7L499.9 196.1L499.8 196.9L499.8 196.9L499.8 197.6L499.8 198.6L499.8 199L500 199.8L500 198.6L500.2 199.2L500.3 200.2L500 200.8L500 200.6L500 201L500.1 201.3L500.2 202.3L500.3 203L500.4 203.6L500.3 203.8L500.3 205L500.2 204.3L500.2 206L500.8 205.4L500.8 206.2L500.9 207.3L500.6 206.5L500.7 208.3L500.8 207.6L500.6 208.1L501.2 208.6L501.1 210L501.3 210.1L501.1 209.7L501.4 211.2L501.3 210.1L501.3 211.9L501.1 211.6L501.3 211.9L501.2 212.1L501.5 212.3L501.7 213.6L501.5 213.7L501.5 214.8L501.7 215.1L501.9 214.5L501.9 214.3L502 214.2L502 212.3L501.8 212L502.2 211.7L502.3 211.6L501.9 211.8L501.9 210.7L502.1 210.8L502.2 210.4L502.4 210.5L502.4 209L502.3 208.4L502.6 208.3L502.5 208.4L502.6 208.1L502.5 207.2L502.8 206.4L502.8 205.5L502.4 206.2L502.7 205.9L502.8 204.1L502.6 204.9L502.7 203L502.9 203.6L503 201.8L503.1 202.6L502.9 202.7L503.1 201.9L503.1 200.9L502.9 200.1L503.4 200.4L503.4 199.9L503 199.8L503.1 198.1L503.3 198.2L503.2 197.6L503.3 197L503.5 196.1L503.8 195.5L503.5 196.8L503.7 196.4L503.7 195.1L503.9 194.4L504.2 194L504.1 193.8L503.9 194L504.3 191.9L504.1 192.4L504.2 192.5L504.1 191.3L504.3 190.3L504.2 190L504.4 190.7L504.1 190.2L504.3 189.5L504.1 189.3L504.4 189.3L504.1 187.6L504.5 186.9L504.5 187.6L504.1 186.9L504.2 185.5L504.3 186.1L504.5 184.9L504.5 185.3L504.2 184.9L504.5 184L504.7 182.7L504.5 183.2L504.2 182.1L504.5 181.8L504.5 182.1L504.3 181.4L504.4 179.7L504.6 179.3L504.6 179.6L504.6 178.5L504.6 178L504.9 177.7L504.6 178L504.8 176.6L504.9 176.6L504.4 176.3L504.8 175.7L504.9 175.1L504.9 175.9L504.9 173.7L504.7 174.2L504.7 173.1L504.8 172.5L504.6 172.6L505.1 172.1L505.1 172.2L504.9 172.2L504.9 171.4L504.8 171.1L505.1 169.1L505.2 168.7L505 168.3L505.1 168.6L504.7 168.9L504.8 168.6L504.9 167.4L504.9 167.4L504.9 166.4L504.8 165.6L504.8 165L504.9 165.4L504.8 163.9L505.3 164.4L504.8 164.4L505.2 163.4L505.4 162.8L504.9 161.3L504.9 161.8L505.2 162.1L504.9 160.1L504.9 160.2L505.4 160.6L504.9 159.8L505 158.6L505.1 158.2L505.1 157.7L505.1 158L505.3 157.8L505.1 155.9L505.3 156L505.1 155.8L505.3 155.5L505.6 155.2L505.5 153.7L505.4 154.5L505.7 154.2L505.2 154.2L505.2 153.3L505.5 153.2L505.9 152.4L505.4 151.7L505.4 150.8L505.5 150.1L505.5 150.2L505.5 149.1L506 148.8L505.9 149.5L506 148.9L506.2 147.3L505.8 148.4L506.3 146.6L506.3 145.6L505.9 146.7L505.9 146.3L506 145.7L506 144.7L506.3 144.3L506.5 142.8L506.4 144L506.4 142.3L506.6 142.3L506.3 142.5L506.6 142.2L506.5 140.1L506.3 140.7L506.3 140.4L506.4 140.3L506.4 139.6L506.7 138.8L506.6 140.3L506.8 139.8L507.1 139.8L507.2 140.2L506.7 140.7L506.9 141.8L506.8 142.9L507.3 143L507.5 142.1L507.3 144.1L507.1 143.7L507.1 145.2L507.4 145.5L507.3 145.5L507.6 145.4L507.4 145.4L507.7 146.5L507.5 146.8L507.6 146.8L507.8 147.4L507.6 148.2L508.1 149.4L507.7 150.1L508.2 149.6L508.2 150.6L508.1 151.6L508.1 151.3L508.3 151.1L508.5 150.3L508.1 149L508.6 149.5L508.8 150L508.5 148L508.8 147.2L508.6 146.9L508.8 147.2L508.8 147.2L509.2 147L509.2 146.4L509.4 145.9L509.2 145.2L509.6 144.1L509.4 143.2L509.7 142.9L509.7 142.6L509.8 142.8L509.6 144L509.8 144.6L510.1 144.3L509.9 144.9L510.2 144.4L510.1 145.1L509.9 145.4L510.3 147.3L510.1 146.2L510 146.9L510.2 148.6L510.3 148.2L510.4 148.1L510.3 149L510.1 149.2L510.5 150.3L510.3 149.7L510.5 150.3L510.2 152.3L510.7 152.7L510.5 152.9L510.9 153L510.4 152.8L510.7 153.6L510.8 153.5L510.7 153.6L510.8 154.3L510.9 155.5L510.8 155L511.1 155.9L511 157L510.7 157.4L511.2 157.2L511.1 158.6L511.1 158.4L511.1 159.4L511 160L511.2 160.5L511.1 159.7L510.9 160.5L511.2 160.5L511 161.1L511.2 161.7L511.4 161.8L511.1 163.6L511.4 163.4L511.5 164.8L511.3 164.2L511.1 165.3L511 165.7L511.2 165.2L511.4 166.1L511.1 166L511.6 167L511.6 167.9L511.1 167.8L511.5 168L511.2 170L511.4 169.8L511.5 170.9L511.3 169.4L511.6 171.2L511.7 170.5L511.4 171.6L511.4 171.4L511.6 172.6L511.4 172.1L511.6 172.8L511.4 173.2L511.8 174.7L511.6 175.5L511.4 175.2L512 174.9L511.5 176.2L511.6 175.8L511.9 177.7L511.8 177.5L511.8 178.1L511.8 178.2L512 179L511.6 179.6L512 179.9L511.7 180.4L511.9 180.2L512.1 181.1L511.8 181.8L512 181.5L511.7 182.6L511.6 183L511.7 183L511.8 184.8L512 184L512 184.9L511.7 185.3L512.1 186.5L512.3 185.3L512 186.5L512 187.8L512 187.7L512.2 188.9L512.1 188.6L511.8 188.8L511.9 190L512.2 189.2L512.2 191.1L512.3 190.6L512 191.4L512.1 192.7L512.4 193L512.5 191.9L512.4 192.9L512.1 193.8L512.1 193.5L512.5 193.9L512 194.8L512.4 196L512.2 195.7L512.1 196.9L512.4 196.2L512.4 198L512.2 197.2L512.5 198.4L512.3 197.6L512.2 199.5L512.2 199.5L512.5 199.7L512.2 200.8L512.4 200.9L512.5 201.6L512.7 201.6L512.4 202.2L512.7 202.4L512.3 202.9L512.7 204.1L512.3 204.7L512.8 204.2L512.7 205.4L512.6 204.9L512.2 206.6L512.4 207L512.8 207.5L512.7 207.7L512.8 208.6L512.8 208.9L512.5 209.5L512.4 208.5L512.8 209.6L512.9 209.7L512.4 209.7L512.9 211.5L512.6 211.7L512.4 212.7L512.5 211.7L512.7 212.7L512.7 213.6L512.5 214.2L512.6 213.9L513 215L512.9 215.6L512.7 215.1L512.8 216.6L512.6 216.8L512.8 217.7L512.9 218.1L512.8 217.6L512.7 217.6L512.7 218.1L512.9 219.2L513 220L513.1 220.1L512.9 220.5L512.9 220.6L512.8 221L512.9 221.7L512.9 222.6L513.2 222.9L513.2 222.8L513 223.8L512.9 224L512.8 225.5L512.7 225.6L513 225.1L512.9 226.8L512.9 226.5L513 227.1L513.1 227.3L512.8 226.8L513.1 227.2L513.1 228.2L513.2 228.7L512.8 228.9L513.1 230L513 230.7L513.2 231.6L513.4 231.5L512.9 232.2L513.1 232.5L513 232.5L513 233.6L513.5 233.4L513.2 234.4L513.4 234.3L513.1 235.4L513.1 235.5L513.3 236.1L513.6 236.1L513.1 236.7L513.5 238L513 237.1L513.2 238.8L513.4 238L513.5 239.9L513.5 239.3L513.6 239.6L513.6 239.8L513.3 240.6L513.6 242L513.4 242L513.3 242.6L513.2 243.3L513.7 243.2L513.4 243.9L513.4 245.1L513.3 244.6L513.6 245.6L513.4 244.8L513.6 245.3L513.7 245.5L513.8 247.6L513.6 248.2L513.7 248.2L513.4 247.5L513.6 248.8L513.5 247.5L513.9 248.3L514.1 247.2L513.9 247.7L514.2 247.4L513.8 246.9L514.1 246.2L514.1 245.2L514.5 245.1L514.6 243.3L514.8 242.8L514.8 243.4L514.8 242.2L515 242.8L514.7 242.7L514.9 242.1L514.9 240.7L514.9 239.5L515.2 240L515 239.8L515.2 240.9L515 242.2L515.4 241.8L515.2 242.1L515.6 242.6L515.3 244L515.3 244.3L515.1 244.5L515.2 244.1L515.2 245.7L515.7 246L515.5 245.1L515.5 247.1L515.6 245.8L515.8 248.1L515.6 246.7L515.7 248.4L515.3 248.5L515.3 248.1L515.7 250L515.5 249.2L515.5 249.8L515.7 250.4L515.9 250.3L515.5 252L515.7 251.3L515.7 252.2L515.9 252.6L515.9 253.9L515.8 253.1L515.9 253.6L515.7 255.7L515.7 256.2L515.7 254.8L515.6 256.9L516.2 256.2L515.9 256.8L516 257.2L516 258.3L515.9 257.8L516.1 259.2L515.7 259.3L516.3 260L516.2 261.2L515.9 260.5L515.9 262L516.2 262.4L516.3 261.8L516.3 262.1L516.2 263.2L516.4 262.9L516.4 264L516.3 263.5L516.3 264L516.4 265.8L516.3 265.6L516.4 266.3L516.6 267.3L516.5 266.7L516.4 267.5L516.3 268.3L516.5 268.8L516.8 269.6L516.6 269.3L516.9 269.5L517 270.9L517.2 270.8L517.1 271.3L517.5 270.9L517.5 271.7L517.7 272.6L517.8 272.2L518.2 273.3L518.2 273L518.2 275.2L518.1 274.6L518.3 274.9L518.1 276.5L518.5 276.1L518.4 277.2L518.7 276.6L518.5 277.3L518.5 277.8L518.6 278.7L518.9 278.8L518.8 278.9L518.8 279.2L518.8 280.9L519 280.7L518.9 282L519.1 280.9L519.2 281L519.4 282.9L519 282.8L519.4 283.9L519.4 284L519 284.6L519.3 284.1L519 285.3L519.6 285.3L519.4 285.3L519.6 287.4L519.3 287.5L519.6 287.4L519.7 287L519.3 287.6L519.7 289.3L519.4 289.6L519.6 289.9L519.5 290.4L519.6 290.7L519.7 289.9L519.6 289.1L519.8 290L519.6 289.1L519.7 287.8L519.6 287.1L520 286.8L519.8 287.1L519.8 286.8L520 285.6L520.2 286L520.4 285L520.3 285.1L520.2 283.4L520.1 283.8L520 282.7L520.5 282.2L520.4 282L520.4 281.9L520.3 281.6L520.3 282.1L520.5 280L520.7 279.6L520.7 280.4L520.9 279.4L520.8 279.5L520.9 278.7L521 278.5L520.8 277.6L520.9 276.9L521.3 277.6L521.1 277.1L521.5 276.2L521.4 274.9L521.5 275.3L521.7 273.9L521.7 274.6L521.8 272.9L522.2 272.2L522.2 272.1L522.6 272.3L522.6 271.7L522.7 271.3L522.4 271.5L523 269.4L522.8 270.5L523.1 270.4L523.1 269.8L522.7 269.6L523.2 268.4L523.2 267.2L523 266.4L523 267.8L523.2 266.2L523 265.3L523.1 265L523.2 265.1L523.2 264.7L523.2 264.1L523.3 264.3L523.6 263.3L523.5 262.3L523.2 261.9L523.2 262.3L523.7 261.6L523.4 260.1L523.7 260.6L523.4 261L523.8 260.5L524 259.6L524 259.5L523.5 257.9L523.8 258L523.6 256.8L524 257.7L523.9 257.2L524.2 256.7L523.8 255.2L524 255L524.1 255.2L524.3 253.3L524.2 252.7L524 252.3L524.2 251.9L524.3 252.1L524.4 251.4L524.5 250.6L524 250.9L524.3 251.1L524.1 249.3L524.2 249.3L524.6 249.3L524.3 248.3L524.6 248.2L524.3 247.4L524.3 247.1L524.4 246.3L524.5 247L524.4 245L524.4 245.2L524.7 245.7L524.9 243.9L524.5 244L525 242.9L525 242.8L525.1 243.5L524.7 242.7L525 241.4L525 242L525 240.9L525 239.3L525.2 239L525.3 238.4L525.1 238.4L525.2 238.7L525.3 238.6L525.2 237.5L525.6 237.2L525.2 238.4L525.7 238.7L525.3 239.4L525.5 239L525.9 240.2L526 240L525.8 240.5L526.1 241.6L526.1 241.3L526.1 242.4L526.3 242.6L526.5 243.3L526.3 244L526.3 243.6L526.5 245L526.3 245.4L526.9 244.3L526.4 243L526.6 242.2L526.7 242.3L526.7 242.9L526.9 242.8L526.8 240.5L527.1 241.4L527.2 240.2L527.3 239.2L527.3 239.9L527.2 239.3L527.2 238.5L527.3 238.4L527.6 237.4L527.5 237.1L527.3 237.2L527.2 237.1L527.3 235.2L527.8 235.3L527.7 235L527.7 234.5L528.1 234.4L527.8 234.5L527.8 232.4L528.2 233.3L528.3 232.1L528.3 231.2L528.1 232.2L528.6 231.8L528.5 230.9L528.4 229.8L528.8 230L528.9 228.4L528.7 229.5L529 228.8L529.1 227.3L529.1 226.5L529 225.8L529 225.8L529.1 226.3L529.3 226.2L529.3 225L529.6 224.2L529.3 223.9L529.3 224.3L529.7 223.5L529.7 222.3L529.5 222.8L529.4 222.8L529.5 220.8L529.9 221.8L529.6 221.4L529.9 219.3L530 219.1L530.1 219.4L530.3 219.5L530.3 218.6L530.3 218.5L530.4 217.3L530.5 217.8L530.2 215.9L530.5 216.1L530.4 215.5L530.5 215.1L530.4 215.4L530.6 216.5L530.7 215.7L530.5 216.9L530.9 217L530.9 217.3L530.7 219L530.6 219.5L530.9 218.3L530.9 219.8L530.7 219.9L531 220.6L531.3 220.9L531.3 221.1L531.2 221.3L531.2 223L531.4 222L531.4 222.7L531.5 223.5L531.5 223.6L531.6 224.9L531.2 226.1L531.6 226.1L531.4 225.6L531.6 227.3L531.7 227.5L531.3 227.5L531.6 228L531.5 228.5L531.8 229.1L531.4 229L531.6 229.7L531.7 229.7L531.7 230.8L532.1 230.7L532.2 232L532.2 232.9L532.2 233.4L531.9 233.3L532 232.9L532 234.3L532 233.7L532.4 235.6L532 234.8L532 235.9L532.7 235.6L532.5 236.7L532.6 237.4L532.6 236.9L532.8 238.7L532.3 237.6L532.8 239.6L532.6 240.4L532.7 240L532.8 240.5L532.5 240.9L532.8 241.2L532.8 242.5L532.9 241.5L532.9 243.4L533.1 242.9L533.4 244.6L533.2 243.4L533.2 243.8L533.6 245.4L533.3 245.8L533.7 246.9L533.3 246.3L533.7 246.7L533.6 247.2L533.6 247.9L533.7 247.8L533.7 249.2L533.6 249L533.7 250.4L533.7 249.7L534.3 250.9L533.9 251.4L534.1 250.6L534 250.9L534.1 252.1L534.6 253.5L534.4 253.5L534.5 254.3L534.4 254.4L534.4 254L534.6 255L534.6 254.4L534.7 254.3L534.7 253.3L535.2 253.8L535.5 252.6L535.5 251.4L535.8 252.2L535.9 250.7L535.8 250.6L536.2 251.1L535.9 251.1L536.1 249L536.4 249.1L536.5 248.8L536.9 248.3L536.9 250.1L536.7 249.5L537 249.7L536.9 250.2L537 252.5L537.4 252.1L537.4 252.7L537.6 253.5L537.8 254.2L537.5 254.6L537.6 253.4L537.9 253.7L538.1 256.1L538.2 255.1L538.1 255.1L538.2 257.1L538.3 256.9L538.2 256.7L538.3 257.5L538.4 257.9L538.3 259L538.6 259.4L538.5 260.5L538.9 260.2L538.7 261.3L538.8 260.9L538.9 260.6L538.9 261.1L539.2 263L538.8 262.3L539.2 263.4L539.1 263.6L539 264.1L539 263.9L539.2 264.2L539.2 265.1L539.3 266.3L539.8 267L539.7 267.2L539.6 267.5L539.9 267.3L539.6 266.3L539.8 266.5L540.1 265.6L540.1 266.2L540.3 264.1L540.5 264L540.5 264.3L540.8 262.5L541.2 262.3L541.3 263.6L541.3 262.7L541.1 261.1L541.5 261.3L541.8 262.1L541.6 261.7L541.8 263.2L542.3 262.8L542.4 263.6L542.4 264.1L542.4 264.9L543.2 264.3L543 265.6L543.3 266.4L543.4 266.3L543.3 266.4L543.4 266L543.5 265.1L543.8 263.8L543.6 263.7L543.3 264.1L543.5 262.5L543.4 263.2L543.8 261.9L543.7 261.5L543.8 260.4L543.7 261.8L543.7 260.8L543.9 259.9L544 259.9L544 259.6L543.8 258.1L544 258.7L544 256.7L544 258L543.9 256.9L544 256.4L544.3 255.5L544 255.3L544.5 254L544.1 254L544.3 254.6L544.4 253.8L544.2 253.2L544.5 252.4L544.1 253.2L544.5 252.7L544.6 251L544.3 251.8L544.7 250.6L544.6 250L544.4 250.1L544.7 250.1L544.8 251.3L544.7 251.9L545.2 253L545.2 252.3L544.9 253.1L545.4 253.1L545 254.8L545 254.6L545.6 255.1L545.1 255.1L545.6 256.3L545.3 256.3L545.6 256.1L545.5 256.9L545.7 258.6L545.7 259L545.6 258.6L545.8 258.2L545.9 259.9L546.1 260L546.2 259.1L546.4 259.5L546.5 259L546.1 258.8L546.7 258.5L546.5 256.6L546.7 256.8L546.7 257.3L546.5 255L547 256.3L546.5 255L547 254.8L546.9 255.2L546.6 253.5L546.8 254.2L547.1 252.3L547.3 253.2L547.2 252.8L547 251.9L547.6 250.5L547.5 251.2L547.6 249.7L547.4 248.9L547.5 250L547.5 249.5L547.5 248.3L547.8 248.5L548 247.1L547.7 247.5L548 247.1L547.8 246.8L548.1 245.8L547.9 245.6L547.8 245.2L548.1 244.8L548.3 243.6L548.2 243.4L548.1 242.5L548.4 242.5L548.5 241.4L548.7 241.7L548.3 240.5L548.3 240.5L548.3 239.9L548.8 240.7L548.8 240.2L548.7 239.8L548.6 238.3L548.4 238.3L548.9 238.4L548.9 237L548.7 237.6L548.8 236.9L548.9 235.8L548.9 235L548.9 234.7L548.5 235L548.9 234.2L548.7 233L549 233.3L548.9 233.2L548.5 232.7L549 230.9L548.5 231.9L548.7 230.8L549.1 229.7L548.9 229L549.1 230.1L548.9 229.5L548.7 229.1L549.1 228.5L548.7 227.2L549.1 227.8L549 227.1L549 226.4L548.9 225.2L549.3 225.4L548.9 224.5L549 224.5L548.9 223.9L549 223.3L549 222.2L549.4 222.2L549.3 223L549.1 221.4L549.3 222.1L549.2 220.8L549.3 221.6L549 221.3L549.3 222.5L549.3 223.1L549.6 222.6L549.4 222.8L549.3 224.2L549.7 223.9L549.7 225.3L549.7 224.5L549.6 225.2L549.8 226.7L549.5 227.8L549.9 227L549.5 228.3L549.6 228.9L549.6 229.3L549.7 229.3L549.7 229.8L549.6 229.7L549.8 230.7L550.1 230.9L550.2 230.7L550.1 231.6L549.9 232L550 232.8L550.1 233.8L550.3 233.5L550.3 234.4L549.9 235.3L550.5 235.4L550.3 236.4L550.3 236L550.6 236.6L550.1 236.9L550.2 237.3L550.5 237.3L550.2 238.3L550.6 238.8L550.7 240.2L550.8 239.3L550.5 240.3L550.4 241.5L550.8 242L550.6 241.5L550.7 241.2L550.5 242.7L551 242L550.6 243.3L550.7 243.3L550.6 243.9L550.6 244.3L550.6 245.9L551 245.6L550.8 246.4L550.8 247.2L551.2 246.5L551 247.2L551.3 247.4L550.8 247.8L551.3 249.1L551.2 249.3L551.3 249.6L551.2 250.5L551.4 251.5L551.3 251.8L551 251L551.5 251.2L551.3 252L551.4 252.6L551.6 252.6L551.6 254.8L551.4 254.9L551.5 254.2L551.5 254.5L551.5 255.7L551.4 254.4L551.4 255.6L551.6 255.1L551.6 253.5L551.7 253.1L552 252L551.6 252L551.8 251.8L551.6 251.8L552.1 251.2L551.9 250.7L551.8 249.3L551.9 249.5L552.2 249.1L552.3 248.1L552.1 247.8L552.4 247.3L552.3 247.5L552.4 247.1L552.2 247.5L552.4 245.5L552.4 245.7L552.2 244.3L552.5 245.2L552.5 244.6L552.4 244.3L552.8 243.5L552.9 242.8L552.7 242.5L552.7 241.1L552.7 242.1L553 241L552.8 240.9L552.6 240.3L553.2 239L552.7 239.3L553.1 238.6L553 239.3L553.4 238.9L553 237.2L553.1 237.9L553.3 236.7L553.1 236.8L553.6 235.2L553.3 234.3L553.6 234.3L553.3 235.1L553.6 233.8L553.4 234.4L553.5 233.5L553.7 232.3L554 231.9L553.6 231.1L553.5 231.1L554.1 231.2L553.8 229.9L554.1 230.5L553.8 228.9L553.9 229.5L554 228.8L554.2 228.6L554.1 226.6L554.3 226.6L554.4 226.8L554.4 226.6L554.5 226.4L554.6 225.9L554.2 225.3L554.3 224.9L554.5 224.1L554.3 222.8L554.3 222.2L554.8 223.4L554.6 222L554.7 222.1L554.5 222.2L554.5 220L554.9 220L554.9 220L554.9 219.4L555 219.9L555.2 220.1L555.3 220.9L555.4 220.4L555.1 220.7L555 222.2L555.4 221.9L555.3 222.4L555.8 223.6L555.6 224L555.6 224.3L555.5 225.8L555.9 225.7L556.1 224.9L555.7 225.6L555.8 226L556.1 227.7L556.2 227.9L556.3 228.8L556.6 227.7L556.5 229.8L556.7 229.4L556.5 228.9L556.5 229.4L556.4 231.2L556.8 230.8L557 231.2L556.9 232L557.2 231.9L556.9 232.4L557.5 234.1L557.1 234.7L557.1 234.7L557.5 234.2L557.7 234.7L557.7 236.2L557.8 236.9L558.1 235.9L557.8 236.1L558.1 237.5L558 237.1L558 237.7L558.1 238.4L558.4 239.9L558.1 239.9L557.9 239.4L558.4 239.9L558.1 240.6L558 241.1L558.1 242.9L558.1 242.8L558.1 243.9L558.5 243.5L558.6 244.4L558.5 244.4L558.1 244L558.5 246.2L558.3 246.5L558.6 245.8L558.5 247.2L558.5 246.6L558.1 247.2L558.3 248.1L558.3 248.3L558.3 248.2L558.3 249.7L558.3 250.6L558.7 250.2L558.4 251.1L558.7 251.9L558.3 251.1L558.3 253L558.4 252.4L558.7 252.6L558.7 252.6L558.5 253L558.8 254L558.8 255.4L558.4 254.9L558.8 256.2L558.6 255.5L558.5 256.4L558.7 257.5L558.9 258L558.7 258.2L558.8 257.7L558.5 259.1L558.7 260.2L558.6 259.6L558.6 260.7L559 260L558.8 261.3L558.8 262.1L559 262.8L558.7 263.1L558.9 263.9L558.8 264.3L559.3 264.3L558.9 264.2L559.1 265.8L559 265.3L559.2 266L559.4 265.5L559.2 266L559.4 267.6L559.6 268.2L559.3 269.2L559.2 268.1L559.6 269.5L559.5 270L559.6 269.7L559.6 270.4L559.5 271.5L559.6 271.6L560.1 272.6L560.1 271.8L560.1 271.9L559.8 272.9L560 273.8L560.2 275.2L560.1 274.7L560.3 275.6L560.2 276.4L560.6 275.4L561 276.9L561.1 277.7L561.1 277.2L561.4 277.8L561.2 278.5L561.5 279.2L561.9 279.7L561.5 279.7L561.9 280L561.9 279.5L561.9 279.9L562.3 280.8L562 282.5L562.2 282.6L562.5 283L562.2 282.6L562.7 283.4L562.5 284.1L562.4 285L562.8 285L563 285.5L562.7 284.5L563.1 284.4L562.8 284.1L562.9 282.9L562.9 281.7L562.8 281.8L563 281.5L562.8 281.9L562.6 279.8L562.8 281L562.9 279.4L563.1 278.6L563.1 277.8L563 279.1L563 277.2L562.8 277.9L562.8 277.7L562.9 275.6L563.1 276.4L563.1 274.5L562.9 275L563.3 273.8L563 273.8L563.1 273.6L562.9 273.2L563.1 271.9L562.9 271.8L562.9 271.6L562.9 271.2L563.2 270.4L563.4 269.7L563 270.5L563.2 269.2L563 269.6L563 269.3L563.4 267.6L563.2 267.3L563.2 268.1L563.2 267.7L563.1 266L563.2 265.7L563.2 265L563 265.3L563 264.1L563 264.6L563 263.3L563.4 263.3L563.2 262.5L563.2 262.9L563.2 261.2L563.1 261.9L563.3 261.9L563.1 261L563.2 259.7L563.4 259.3L563.1 259.1L563.3 257.9L563.6 258.1L563.2 257.1L563.1 256.8L563.1 257L563.4 257.2L563.2 256.6L563.5 254.7L563.2 254.5L563.6 255.2L563.1 253.7L563.2 254L563.4 254.2L563.6 252.4L563.3 252.4L563.4 252.6L563.3 252.2L563.5 250.8L563.7 250.3L563.6 251.1L563.7 250.7L563.5 249.8L563.5 248.8L563.7 248.9L563.5 250.6L563.8 249.8L563.8 249.9L563.6 251.2L563.6 250.6L563.8 252.2L563.9 251.8L563.5 252L563.8 252.4L563.7 253.8L563.8 254.6L563.7 254.8L563.9 254.6L564.2 256.5L564.3 255.6L563.8 256.9L564.3 256.7L564 258.1L564.2 258.1L564.3 258.4L564.4 258.9L564.4 258.3L564.2 260.6L564.3 260.6L564.3 261.5L564.1 260.7L564.2 262.3L564.7 261.4L564.3 262L564.5 263.4L564.4 264L564.5 263.8L564.5 264.2L564.3 263.8L564.9 264.8L564.6 266.6L564.6 265.3L565 266.4L564.9 266.6L564.8 267.5L564.6 267.4L565 268.5L565 269.3L565 269.7L564.8 269.2L564.9 271L564.8 271.3L565.2 271.7L564.8 270.9L565.3 271.6L564.8 272.8L565.3 273.7L565.3 273.7L565.1 274.8L565.1 274.3L565 275.1L565.4 275.4L565.3 274.9L565.4 275.4L565.5 277L565.6 277.5L565.6 277.2L565.7 278.3L565.5 278.4L565.7 279.3L565.6 279.8L565.6 280L565.8 281.4L565.5 281.8L565.5 281.2L565.8 282.5L565.6 281.9L565.8 282.7L565.7 282.8L565.5 284.5L565.7 285L565.9 283.8L565.6 284.8L565.7 284.7L566 285.9L565.7 286.5L566 287.6L565.9 286.8L565.7 288L566 289.2L565.9 287.8L566.1 289.6L565.9 289.2L565.9 290.8L566.1 290.1L566 290.5L565.9 292.1L566.3 291.6L566.1 293.2L566.1 293.2L566.5 292.9L566.4 293.4L566.6 293.5L566.1 295.1L566.2 295L566.6 294.9L566.2 296.3L566.2 296.4L566.2 297.2L566.5 296.5L566.6 298.8L566.4 298.9L566.5 298.8L566.4 299.1L566.8 298.3L566.5 297.1L566.4 297.8L566.9 297L566.9 295.8L566.4 295.6L567 295.4L566.9 295L566.7 294.3L566.6 293.6L567 294.2L566.8 293.3L566.7 292.8L567.1 291.2L567.1 290.9L566.6 290.2L566.8 291.2L566.7 291.1L567.1 289.1L567.1 288.8L567.1 288L567.2 288.1L567.1 287.1L567 287.3L566.8 286.9L567.4 285.7L567.4 285.9L567.3 286.3L567.2 285.5L567.4 284.7L567.4 284.3L567.1 284.9L567 284.4L567.4 282.4L567.5 281.6L567.4 283L567.5 282.5L567.4 281.7L567.6 281.6L567.3 279.7L567.3 279.1L567.7 279.3L567.7 278.2L567.4 278.7L567.4 278.5L567.5 277.6L567.4 277.1L567.9 278.6L567.6 279.5L567.5 279L567.8 280.6L567.9 280.2L568 281.6L567.9 280.6L568.1 281L567.9 282.5L568.1 282L567.9 284L568.5 283.8L568.4 283.9L568.7 285.4L568.7 285.2L568.6 286.2L568.4 285.8L568.7 285.9L568.7 286.9L569 287.1L568.8 287.6L569 288.1L569.1 287.5L569.4 289.6L570.2 289.8L570.2 289.9L570.6 290.1L570.4 290.6L570.7 291.4L570.5 292.3L570.8 292.9L570.5 292.8L571 293.8L570.7 292.9L571.1 294.1L570.7 294.4L570.8 295.2L570.7 295.5L570.9 294.8L570.9 296.6L571.3 297.4L570.8 297.7L571.2 297.1L570.9 298.2L571.2 297.7L571.2 297.9L571.5 299.8L571.4 300.6L571.1 300L571.6 301.3L571.5 300.2L571.4 301.5L571.5 301.4L571.3 301.9L571.4 303.7L571.3 302.6L571.9 302.9L571.3 303.9L571.7 304.9L571.9 305.9L571.4 306.1L571.6 306.2L572 305.6L571.8 307.7L571.8 307.6L572 307.5L571.9 308.2L571.7 308.1L571.8 308.1L572.1 306.9L572 306.4L572.3 306.2L572.2 305L572.5 305.5L572.7 303.6L572.9 303.8L572.8 304.6L573 302.8L572.7 302.7L573 301.5L573.1 302.4L572.9 301.5L573.2 300.3L573.5 299.6L573.6 299.1L573.7 299L573.7 299.3L573.7 299.1L573.6 297.9L573.8 297.6L574.1 298.4L574.2 298.1L574.5 298L574.7 299L575 299.3L574.8 300.5L575.2 299.6L575.2 301.8L575.7 301.3L575.8 301L575.6 302.3L575.9 301.8L576 303.2L576.1 302.8L575.8 304.3L575.8 304.6L576.1 305.7L576.3 304.8L576.1 306.6L576.2 306.6L576.4 306.5L576.4 307.6L576.5 307.5L576.6 308.9L577 309.2L576.9 308.9L577 310L576.9 310.1L577.2 309.1L576.6 309.2L577.1 308.4L577.3 307.7L577.1 308.5L577.3 307.1L577.2 306.2L577 305.7L577.2 306.1L576.8 306.5L577.1 305.8L577.4 304.8L577.1 304.6L577.2 303.1L576.9 303.8L577.4 303.3L577.2 303.1L577.1 301.5L577.4 302.2L577.3 301.1L577.4 300.3L577.3 299.2L577.4 300.3L577.2 299.6L577.5 299.1L577.2 298.2L577.5 298.6L577.1 296.6L577.2 297.5L577.2 296.5L577.3 296.4L577.4 295.1L577.5 295.1L577.5 295.4L577.8 294.3L577.7 294.6L577.7 293.5L577.8 292L577.7 291.9L577.7 291.1L577.6 291.5L577.9 291.9L578.1 290.8L578 289.8L577.6 289.2L578 289.3L577.6 288.1L578 289.1L577.9 287.8L578.2 287.8L578.1 286.9L578.2 286.1L577.8 286.6L578.2 284.7L578.4 285L578.1 283.7L577.9 284.7L578.3 283.8L578.2 282.9L578.4 283.7L578 281.8L578.5 282.2L578.5 280.6L578.3 280.9L578.1 280.6L578.4 280L578.2 280.5L578.7 280.1L578.8 281.9L578.5 281L578.7 282.2L579 282.7L578.8 282.9L578.6 283.5L578.6 284.1L578.7 285L579.1 285.4L578.8 284.6L579.1 285.8L579.3 285.7L579.2 287.6L579 287.1L579 286.8L579.5 288.1L579.5 287.7L579.5 289.2L579.6 289.3L579.4 290.1L579.5 290.4L579.8 290.6L579.8 290.4L580 291L580.3 292.8L580.8 292.7L580.6 292.6L581.4 294.2L581.3 293.8L581.6 293.1L581.5 292.4L581.6 292.5L581.6 291.1L581.5 291.1L581.7 290.7L581.7 290.7L581.9 289.9L581.8 289.9L582.1 289.8L582.1 288.1L582 288.7L582.3 288.8L582.4 287.7L582.4 286.6L582.4 286.4L582.4 285.7L582.8 286.7L582.5 285.3L582.4 285.5L582.6 285.1L582.6 284L583 283.7L583.2 283.6L583 282.4L583 282.1L583.3 280.8L583.2 281.3L583.2 281.2L583.1 281L583.4 280.7L583.4 280L583.8 278.7L583.7 279.2L584 278.3L584.1 278.5L584.2 276.7L584 277L584.2 275.6L584.2 276.7L584.3 274.8L584.3 275.8L584.4 273.7L584.4 274.2L584.4 273.6L584.7 273.2L584.8 274L584.7 273.5L584.9 273.9L585.1 274.8L585.4 274.8L585.3 275.5L585.1 275.6L585.4 276.8L585.6 277.6L585.3 278.6L585.9 277.7L585.6 279.2L585.6 279.3L585.8 280.4L585.8 279.9L585.9 279.7L586.3 281.4L586.3 281.3L586.4 281.9L586.7 280.1L587.1 279.6L587.6 278.7L588.1 279.8L588.2 278.8L588.6 279.5L588.2 279.3L588.2 281L588.6 281L588.8 281.6L589 280.9L588.7 281.9L589 282.4L588.8 282.5L589.2 282.5L589.3 282.9L589.2 284.9L589.1 284.7L589.4 285.1L589.3 284.8L589.6 286.8L589.6 287.3L589.6 287.3L590.1 286.7L590.1 287.4L589.9 287.6L590.3 288.3L590.1 289.9L590.2 289.8L590.4 290.7L590.4 291.3L590.4 292L590.3 292.1L590.7 291.9L590.8 292.2L590.6 290.2L591 290.4L590.8 290.8L591 289L591 289.4L590.8 288.7L591.1 287.6L591.4 287.5L591.2 287L591.2 287.8L591.2 286.3L591.2 285.8L591.2 286.4L591.7 284.3L591.6 285.4L591.6 285L591.4 284.5L591.7 283.6L591.6 283.2L591.9 281.6L591.4 282.1L591.5 282.2L592 281.9L591.6 280.3L591.9 280L591.7 279.9L591.7 278.3L591.8 277.9L592.2 279L592.2 278.1L592 276.7L591.9 276L591.9 275.9L592.2 275L592.3 275.4L592.1 274.1L592.2 275.2L592.5 274.5L592.2 272.9L592.5 272.3L592.4 272.4L592.3 271.3L592.3 271.9L592.5 271.3L592.8 271.5L593.2 271.4L593.3 269.7L593.7 268.9L594 269.2L594.4 268.8L594.5 268.8L594.8 270.2L595 270.3L594.9 270.8L595.2 270.7L595.3 271.5L595.4 272.5L595.2 272.6L595.4 272.2L595.5 274.3L595.7 273.8L595.7 272.6L596 272.8L596 271.6L596 271.8L596.1 271.4L596.2 272L596 269.6L596.2 269.3L596.1 270.1L596.7 268.1L596.3 268.1L596.5 269.2L596.4 267.5L596.8 266.6L596.7 267.2L596.9 266.3L597 266.4L597.1 265.1L596.8 264L597.1 265.1L597.2 264.2L597.1 262.7L597.1 262.4L597.1 263.2L597.3 263L597.5 262.2L597.6 260.6L597.5 261.1L597.4 259.7L597.4 260.8L597.6 260.4L597.6 258.2L597.5 259.3L597.7 258.1L597.6 257.5L597.5 257L597.6 257L597.5 255.7L597.8 256.1L597.8 255.5L597.8 255L597.8 255.6L597.9 254.2L598 253.9L598.1 253.1L598.1 252.5L598.5 252.6L598.8 251L598.6 250.9L598.8 251.8L599.2 251L599.3 250.1L599.2 249L599.4 248.8L599.4 248.8L599.6 248.7L599.7 249.5L600.1 250.2L600.2 250.2L600.2 251.2L600.3 251.4L600.2 251.3L600.7 252.5L600.7 253.3L601 253.8L600.8 253.3L601.4 253.5L601.1 254.8L601.4 255.9L601.8 255.7L601.6 255.9L602.1 255.7L601.9 256.9L601.9 257L602 255.2L602.2 256.4L602.1 254.4L602.2 253.9L601.7 254.6L602.2 254.3L602.1 252.4L601.8 253.1L602.3 252.1L602.3 251.7L602.1 251.9L602.3 251.3L602 251L602.4 250.7L602.3 249.9L602.1 250.2L602.6 248.3L602.4 248.9L602.3 247.5L602.3 246.8L602.6 247L602.7 246L602.7 246.4L602.5 244.9L602.2 245.2L602.3 245L602.4 245.1L602.6 242.9L602.8 243.8L602.4 242.7L602.6 242.5L602.7 242.8L602.6 242.2L602.9 242L602.7 241.3L602.4 240.7L602.8 239.5L602.8 239L602.8 238.5L602.7 238.7L602.4 237.1L602.6 237.4L602.7 238L602.9 235.9L602.8 235.4L602.4 234.9L602.9 235.7L602.7 235L602.8 233.6L602.7 234.7L602.4 233.9L602.5 233.1L602.5 231.7L602.5 231.9L603 230.9L602.7 230.8L602.7 230.2L602.7 231.2L602.5 230.5L602.9 229.3L602.9 229L603.1 227.6L602.9 228.7L602.9 228.5L602.5 227.3L602.9 225.8L602.8 226.8L602.9 225.5L603 226.1L602.7 224.3L603 224.9L602.8 224.9L603.1 223.7L602.8 222.2L602.5 222.4L602.8 221.3L602.7 222.4L603 220.9L602.6 221.6L603.1 220.8L603 220.2L602.7 219.5L602.6 218.6L602.7 217.7L603 217.9L602.9 217.6L602.9 218.6L603.3 218.9L603.6 218.3L603.4 218.6L603.7 220.4L603.4 220L603.6 221.4L604.1 220.7L604.2 222.6L604.5 221.9L604.4 222.6L604.2 221.9L604.5 222.1L604.6 222L604.7 221.6L605.2 220.5L604.8 220.5L605.4 218.8L605.4 218.3L605.3 218.2L605.3 218.5L605.9 217.8L606 216.8L605.6 216.4L606.2 216.1L606 216.7L606.3 215.3L606.3 215.1L606.6 213.9L606.3 214.5L606.6 214.1L606.9 213.7L606.6 213.3L606.8 211.6L606.9 211.8L607.1 210.8L607.3 210.9L607.7 210.6L607.7 210.9L607.6 210.1L607.4 210.2L608.1 209.8L607.6 207.9L607.9 207.4L608.1 207.6L608.1 207.2L608.4 209.3L608.4 209.6L608.8 209.6L608.9 209.4L608.9 210.6L608.6 211.8L608.9 211.3L609.3 211.6L609.1 213.1L609.4 212.6L609.7 212.1L609.4 210.7L609.5 212.2L609.8 210.1L609.8 209.5L609.7 210.8L609.5 209.4L610.2 208.2L609.9 209.1L610.2 208.1L610.1 207.7L610.2 208.1L610.3 206.1L610.1 206.2L610.4 206.4L610.2 204.7L610.2 205.4L610.2 203.4L610.5 204.6L610.9 203L610.6 202.3L610.7 202.6L610.5 202.5L611 203.9L611 204.5L610.7 205.4L611 204.4L611.2 204.8L610.7 206.3L610.9 207.3L611.3 206.4L611.5 207.4L611.2 207.2L611.5 208.3L611.2 208.2L611.2 208.7L611.7 209.6L611.5 210.4L611.2 210.6L611.7 210L611.9 211.3L611.4 212.7L611.6 212.9L612 211.8L611.6 213.1L611.7 214L611.8 214L611.9 215.1L612 214.8L612.2 215.3L612.4 215.2L611.9 216.8L612.4 215.9L612.1 217.7L612.4 217.9L612.3 218.2L612.4 218.5L612.4 217.1L612.2 216.5L612.6 217.1L612.4 215.4L612.8 214.6L612.5 214.8L612.7 213.7L612.7 213.2L612.5 213.6L612.9 212.6L612.8 211.8L612.6 211.9L612.6 212.5L612.9 212.1L612.9 211.1L612.7 211.4L612.9 210.3L613.2 209.4L613 209.7L613.3 209.5L613.1 207.9L613.2 208L613.3 208L613.3 206.4L613.4 207L613.5 205.2L613.3 206.2L613.3 204.4L613.1 205L613.2 203.9L613.5 203.1L613.5 203.7L613.3 202.5L613.7 202.6L613.7 201.5L613.6 202.3L613.7 200.6L613.7 199.8L613.8 200.1L614 201.4L614.2 200L614.5 200.9L614.2 201.5L614.7 201.4L615.1 202.6L614.7 203.6L615.5 202.8L615.2 203.4L615.4 204.4L615.7 205.1L615.5 205.6L616 203.8L615.9 203.7L616.1 202.8L616.3 203.3L616.1 202.5L616.2 200.9L616.4 201.4L616 200.7L616.4 201.1L616.2 199.8L616.7 198.7L616.4 200.1L616.6 198.7L616.5 197.4L616.8 197.5L616.4 198.3L616.5 196.8L616.9 196.5L616.8 196.4L616.7 195.9L616.9 196L617.2 194L617.3 194L617 193L617 192.3L617.1 192.5L617.4 193.1L617.5 192.8L617.7 192.1L617.3 190L617.6 190.2L617.9 189.1L617.9 189.1L617.8 189.6L617.7 189.2L617.8 188.2L618.1 187.9L618.3 190.1L618.4 189.8L618.4 189.3L618.5 190.1L618.4 191.9L618.6 190.9L619.1 192L619.2 191.7L619.4 192.7L619.5 193.6L619.4 193.8L619.5 194L619.5 194.8L619.6 195.9L619.9 195.2L620.1 196L620.6 195.6L620.4 197L620.7 198.1L620.9 198.1L621 198.2L621.2 197.5L621.1 196.7L621 197.8L621.4 195.7L621.5 195.8L621.3 196.1L621.3 195.4L621.7 195L621.4 193.4L621.8 194L621.6 194.2L621.8 193.8L621.6 193.1L622.2 191.3L621.8 191.5L621.9 191.2L621.8 189.7L621.9 189.4L622.1 190.3L622.3 188.6L622.4 189.8L622.7 187.7L622.6 187.1L622.5 187.5L622.9 186.7L623 187.5L623.1 185.9L623.1 186.2L623.7 185.8L623.5 184.7L623.8 183.9L624 183.7L624.4 183.8L624.7 184.1L624.6 182.5L624.5 183.2L624.5 181.2L625 181L625.1 180.6L624.6 180.2L625.2 180.8L625.1 179.7L625 178.9L625.4 178.5L625 178.4L625.2 177.4L625.6 177.6L625.4 177.7L625.3 175.7L625.8 175.2L625.8 175L625.7 175L625.5 175.4L625.9 173.7L625.7 174.1L626 172.8L625.6 172.4L626 171.9L626.2 171.8L625.9 171.4L625.9 171.3L626.4 169.9L626 170.2L626.1 168.8L626.2 168.5L626.4 168.6L626.2 169L626.4 168.3L626.6 166.8L626.3 166.4L626.5 166.8L626.3 165.4L626.3 166L626.9 165.2L626.7 164.4L626.6 163.8L626.5 163.1L626.8 162.8L626.9 162L626.8 163.1L626.8 162.8L626.7 162.3L627.3 161.7L627.3 161.4L627.1 160.6L626.9 160.2L627 159.8L627.4 159L627.4 157.8L627.3 157.7L627.6 159L627.5 159L627.4 158.9L627.7 159.7L627.7 159.3L627.5 160.5L628 161.9L627.7 162.4L627.8 162.8L628 163L628.2 163.1L627.9 162.5L628.5 162.9L628.4 165.1L628.5 164.8L628.6 165.7L628.4 164.8L628.5 166.3L628.6 166.2L628.8 167L628.9 167.2L629.1 168.8L629.1 169L629 169.7L629.4 168.6L629 169.6L629.2 169.3L629.3 171.4L629.5 171.5L629.6 170.9L630 173L629.8 173.5L630 172.9L629.7 174.5L629.8 173.8L630 174.9L630.1 174L630.3 175.4L630.3 174L630.4 175.4L630.5 175L630.4 173.7L630.4 172.2L630.3 172.6L630.4 173L630.6 171.5L630.8 171.6L630.2 170.9L630.4 170.2L630.6 170.7L630.7 170.4L630.6 168.3L630.6 169.4L630.5 169.1L630.3 167.9L630.5 167.4L630.5 166.9L630.5 167.2L630.9 165.9L630.5 165.6L630.5 165.9L630.9 163.8L630.5 164.4L630.6 162.9L630.6 162.3L631 162L630.6 161.9L630.6 162.4L631 161.5L631.2 161.8L630.9 159.8L631.1 159.1L631.2 160.2L631 158.4L631.1 159.3L631.2 158.1L630.9 158.5L631 157.7L631.2 156.3L631.1 157L631.4 155.5L631 155.4L630.9 154.1L631.2 155.1L631.1 153.4L631.1 153L631.2 152.4L631.1 151.9L631.2 153.2L631.3 151.2L631 151.8L631 151.2L631 149.8L631.3 150.1L631.6 149.4L631.2 148.3L631.5 148.9L631.5 147.5L631.3 147.5L631.1 147.3L631.5 146.9L631.6 146.4L631.5 145.4L631.5 145.1L631.5 145.4L631.5 144.1L631.7 143.5L631.8 144.6L631.4 142.7L631.7 142L631.7 142.4L631.8 141.4L631.8 140.7L631.7 140.9L631.7 140.6L631.7 140.6L631.9 138.7L631.8 138.9L631.9 139.5L632 139.2L632.1 138L631.6 137.9L632.1 137.8L631.9 135.8L631.9 135.4L631.8 135L632.2 136.1L632.2 134.9L632.3 135.1L632 133.6L632 132.8L632.3 132.6L632.1 133.2L632.2 131.1L632.2 130.8L632.2 130.6L632.2 130.7L632.4 131.3L632.2 132.1L632.5 131.9L632.5 131.8L632.6 132.1L632.5 133.2L632.2 133.1L632.4 133.6L632.5 135.8L632.7 136L632.6 135L632.3 136.3L632.6 136.9L632.6 136.6L632.8 138.3L632.7 138.5L632.5 138.4L633 137.9L633 139.2L632.6 140L633.2 139.9L632.7 140.7L632.7 142L633.1 141.5L632.8 141.7L632.8 141.7L633.1 142.5L633.2 143.7L633.2 143.8L633 145.1L633.3 144.8L633 146.1L633.2 145.1L633.5 146.1L633.2 145.8L633.6 147.6L633.7 147.8L633.4 148.8L633.2 148.3L633.7 148.9L633.7 149.9L633.4 150.7L633.3 150.8L633.3 149.9L633.3 150.5L633.7 151.5L633.7 152.9L633.6 151.7L634 154L634 154.3L633.8 153.1L634.1 155.3L633.8 154.2L633.6 155.1L633.7 155.5L633.8 156.8L633.9 156L634 157.1L634 157.6L633.8 157.1L633.9 156.2L634.3 157.2L634.1 156.5L634.1 156L634.2 154.5L634.1 155.2L634.5 154.8L634.6 153L634.1 153.4L634.4 152.2L634.2 152.5L634.6 150.9L634.4 150.8L634.4 151.2L634.2 149.9L634.7 148.9L634.6 150.3L634.9 149.3L634.8 148.6L634.6 147L634.7 146.5L634.5 147.1L635 146.4L634.8 145.4L634.9 146.5L635.2 144.3L634.8 144.7L635 145.1L635 143.8L635.2 143.5L634.8 143.2L635.1 142.8L634.8 141.8L635 141.3L635.1 141.7L635.1 140L635.1 140.3L634.9 139.9L635.2 139.6L635.3 139.3L635 138L635.1 138.2L635.5 137.2L635.5 136L635.2 136.6L635.6 136.6L635.6 136.6L635.2 136.1L635.2 134.9L635.2 133.5L635.3 134.2L635.5 132.7L635.4 133.8L635.5 133.1L635.8 131.2L635.2 132.2L635.7 130.7L635.7 131L635.5 130.6L635.8 129.8L635.6 128.7L635.4 128L635.8 129.4L635.8 128.7L635.7 126.7L635.9 127.1L635.8 127L635.6 127L635.8 125.9L635.7 125.3L636.1 124.1L635.6 124.7L636 123.8L636 123.4L635.7 122.5L635.8 122.2L635.7 122.8L635.8 121L635.7 121.1L635.7 120.6L635.8 120.2L635.8 119.2L636.3 118.4L636 119.5L636.2 117.7L636 118.1L636.2 118.3L636.1 116.3L635.9 116.7L636.4 115.6L636.3 116.2L635.9 114.6L636.2 114.2L636 114.6L636 114.1L636.6 112.5L636.1 112.2L636.3 112.5L636.3 113.5L636.5 113L636.2 113.9L636.4 113.5L636.6 115.4L636.5 114.4L636.4 115L636.7 115.5L636.2 116.6L636.4 116.9L636.6 117.6L636.4 118.7L636.3 118.4L636.2 119.4L636.3 119.4L636.7 118.9L636.3 120.2L636.6 120.1L636.5 122L636.7 120.9L636.7 121.6L636.3 121.5L636.8 123.9L636.5 123.8L636.8 123.2L637 125.1L636.4 124.2L636.8 125L636.5 124.7L637 127L636.7 127L636.9 128L636.7 127.4L636.9 128.8L637.1 128.9L636.8 128.5L637.1 129.8L637.1 129.3L636.8 130.1L636.8 131.4L636.9 131.6L636.9 132.4L637.1 131.6L637.2 133.2L637.1 133.3L636.9 132.6L636.7 133.5L637.1 135L636.9 135.1L637.1 136L637.3 134.7L637.2 135.7L637.3 135.7L637 136.1L637.2 136.5L636.9 138.1L636.9 137.4L637.4 139.5L637.2 140L637.2 140.5L636.9 139.2L637.3 140.2L637.3 141.6L637.2 141.1L637.5 141.8L637.2 142.5L637 143L637.4 142.7L637.3 143.8L637.4 144.2L637.6 144.5L637.1 146L637.2 146.5L637.5 145.8L637.4 147.1L637.6 146.3L637.3 146.6L637.5 147.4L637.3 148.7L637.8 148.2L637.5 149.1L637.6 149.4L637.3 149.7L637.8 150.6L637.8 150.1L637.4 152.4L637.4 152.1L637.4 151.7L637.6 153.6L637.7 152.4L637.5 154.8L637.8 154.3L637.6 154.3L637.4 154.6L637.9 155.3L638 157L637.9 156.1L637.7 156.2L637.6 157.1L637.5 158.6L637.8 158.1L637.9 158.7L637.7 159L637.8 159.3L637.8 160.1L638.1 161.2L638.1 161L638.2 160.6L638.2 162.3L637.7 163.1L637.9 163.1L637.7 163.6L638.1 163.5L637.9 164.8L638.3 163.7L637.9 165.2L638 165.3L638.1 166.8L638.3 166.3L638.4 167.9L637.9 166.8L638.5 167.1L638 169.3L638.2 168.8L638.5 168.6L638.3 170.7L638.3 170.7L638.4 170.4L638.8 171.4L638.6 172.4L639 172.8L638.8 171.6L638.8 172.2L638.8 172.6L639.1 174.3L638.8 174.8L639.4 174.7L639.5 174.3L639 174.8L639.4 176L639.3 177L639.6 176.1L639.8 177.8L639.7 177.3L639.7 179.2L639.9 177.8L639.8 179.3L640 179.7L639.8 180.4L640.1 180.8L640.4 181.8L640.1 181.9L640.1 181.5L640 182.9L640.2 183.4L640.5 183.8L640.6 183L640.7 184.7L640.6 185.1L640.7 185L640.7 184.6L640.8 185L640.8 187.2L641.2 187.3L641 186.5L641.1 186.9L641.4 188.7L641 188.2L641.4 188.8L641.5 188.5L641.6 190.2L641.4 189.5L641.4 190.1L641.7 190.6L641.5 191.5L641.6 191.2L641.9 192.6L642.2 193.2L641.9 193.1L642.1 193.8L642.3 193.7L642.4 195.1L642.6 195.9L642.6 195.9L642.3 196.9L642.7 196.8L642.6 196.2L642.6 198.3L642.8 197.7L643.2 198.3L642.9 198.6L643.1 199.5L643.3 198.8L643.4 200.6L643.6 200.3L643.2 202L643.4 202.1L643.6 201.9L643.9 201.9L643.6 201L643.8 200.1L643.8 201.1L643.9 199.9L643.8 198.7L644.1 197.9L644 198.5L644.3 197.2L644.3 197.7L643.8 196.6L643.9 197.3L644.3 196.8L644 195.5L644.5 194.4L644.3 194.9L644.6 193.7L644.3 192.9L644.5 193.6L644.3 192.2L644.6 192.7L644.4 192.8L644.7 191.8L644.8 190.9L644.8 190.4L645 190.2L644.6 189.5L644.7 190.1L644.7 188.7L645.1 188.2L644.8 187.4L645.1 187.5L645.5 186.7L646.2 186.3L646.7 187L646.9 186.3L646.8 185.7L647.1 184.7L647.4 184.2L647.4 184.5L647.6 183.2L647.2 183.7L647.4 182.6L647.5 183.2L647.8 181.5L647.9 181.1L647.6 180.9L647.9 180.9L648 179.7L648.2 180L648.5 179.7L648.4 181.5L648.4 181.7L648.4 182.1L648.4 183.2L649 183.6L648.9 183.1L649 184.2L649.2 184L649 183.9L649 185.4L649 185.6L649 186.4L649.4 186.3L649.3 186.6L649.7 187.7L649.3 188L649.5 189.1L649.5 188.8L649.7 189L649.8 189.3L649.9 190.2L649.7 189.8L650 190.9L649.7 191.1L650.2 191.6L649.9 192.4L649.8 192.3L650.4 192.2L649.9 193.2L650 193.1L650.3 194.7L650 195.3L650.4 195.6L650.2 196.1L650.7 197L650.4 195.8L650.5 197.7L650.5 197.8L650.7 197.9L650.5 199L650.7 199L650.7 199.5L650.9 200.5L651 200.4L651.1 201.3L651.1 200.4L651.3 201.6L650.9 202.6L650.9 202.8L650.9 203.4L651.4 203.9L651.3 204.5L651.3 204.4L651.2 203.9L651.4 203.1L651.7 203.9L651.5 201.6L651.4 202.6L651.6 202.1L651.6 201.8L651.9 201.7L651.7 200.8L651.9 199.4L652.1 198.6L651.8 198.1L652.1 199L651.7 197.7L652.1 197.1L651.8 196.8L652 196.7L652 195.8L652.4 194.9L652 194.8L652.2 195.2L652.3 195.4L652.3 193.2L652.1 193.8L652.2 193.6L652.6 192.2L652.8 193.1L652.5 191L652.6 191.3L652.7 190.4L653 189.7L652.9 189.8L653.2 189.3L652.9 188.1L653.2 188.4L653.3 188.7L653.4 187.8L653.4 186.3L653.7 187.3L653.7 187.3L653.7 185.2L653.9 185L653.9 184.5L654.6 184.3L654.6 185L654.5 183.8L654.6 184.8L654.9 185L654.9 185.3L654.7 185.8L655.1 186.8L655.3 186.4L655.3 186.4L655.2 186.6L655.5 187.4L655.4 188.7L655.9 187.9L656.1 188.8L655.8 189.9L656.2 190.7L656.3 190.6L656.3 189.9L656.3 191.3L656.3 190.9L656.6 191.8L656.5 191.8L656.6 192.5L656.2 193.2L656.6 194.2L656.4 194.3L656.2 194.3L656.3 196.3L656.4 196.1L656.7 195.4L656.8 197.3L656.8 196.4L656.4 198L657 198.5L656.5 198.9L656.5 198.4L656.7 199.8L656.7 199.4L657 200.1L656.8 200L656.8 201.8L656.6 201.8L656.8 202.5L656.8 202.6L657.1 203.9L656.8 203.5L657.1 203L656.9 203.9L657.1 203.9L657 205.2L657.4 206.7L657.5 205.4L657 206.8L657.3 206.4L657.3 208.5L657.3 208L657.3 208.8L657.7 209.1L657.3 209.8L657.5 210.1L657.4 209.5L657.6 210.4L657.3 211L657.4 212.1L657.3 212.8L657.6 212.6L657.7 212.3L657.8 213.3L657.8 213.6L657.6 214.1L657.9 215.9L658 215.4L658.1 216.3L657.9 215.4L658.2 216.1L657.8 216.8L658.2 217.5L658.1 217.5L658.3 219.1L658.3 219.9L658 220.2L658.5 220L658.3 221.4L658.6 221.8L658.2 221.9L658.4 220.9L658.7 223.1L658.7 222.9L658.7 222.4L658.8 223.3L658.9 223.3L658.6 224.2L658.8 225.1L659 225.2L659.1 226L659.1 226.5L659.2 226.8L659.7 227.4L659.5 227.9L660.3 228L660 229.4L660.6 229.8L660.5 229.1L660.7 230.1L660.5 229.9L660.6 229.5L660.6 228.6L661 228.6L660.8 228L661.2 227.9L661 226L660.8 225.9L660.8 226.4L661.2 224.7L661.5 225L661.5 224.1L661.4 225.1L661.4 223.3L661.6 223L661.3 222.8L661.3 223.2L661.5 221.1L661.4 222L661.8 220.2L661.8 221.3L661.4 220.2L662 219.9L662 219.6L661.7 219.5L661.8 217.6L661.8 216.9L662.2 216.5L662.2 216.3L661.8 216.9L662.1 216.1L662 215.4L662.1 216L662.2 215.5L662.3 213.9L662.3 213.8L662.2 214.3L662.6 213.8L662.5 215.6L662.5 216.6L662.8 216.7L662.7 217.3L662.9 216.3L663 216.9L663.1 218.8L663.2 217.9L663.5 218.7L663.5 220L663.4 219.3L663.4 220.7L663.4 221.7L663.8 221.3L663.6 222.4L664.2 222.7L664.4 222.4L664.3 223.2L664 223.6L664.5 223.6L664.3 223.6L664.3 224.2L664.4 224.3L664.6 225.7L665 225.4L665.2 227.3L665 226.2L665.2 226.5L665 228.1L665.2 229.2L665.5 229.2L665.7 229.2L665.5 230L665.7 230.1L665.6 229.9L665.8 231.5L666.2 230.8L666.6 231.1L666.3 231.9L666.8 232.9L667.1 233.6L667.1 234L667.3 234L667.5 234.9L667.4 235.1L667.6 235L667.8 236.4L668 235.2L668 236.4L668.2 237L668.6 236.1L668.3 235.2L668.3 235.3L668.7 235.3L668.6 235.6L669.2 233.6L669.1 234.2L669 232.8L669.2 232.9L669.6 233L669.5 231L669.5 231.2L669.6 230.6L670.1 230.5L670.1 230.1L670.2 229.5L670.6 230.2L670.7 227.9L671 229L670.9 227.1L671.2 228L671.6 227.6L671.3 225.8L671.9 226.7L671.9 224.7L672 225.1L672.1 225.6L673 226.3L673.1 226.4L673.4 227.2L673.8 227.7L674.1 227.2L674.5 227.6L674.9 228.4L674.7 227.5L674.7 228.4L674.8 228.5L674.9 229.5L675.3 229.9L675.3 230.9L675.3 231.7L675.6 230.8L675.3 231.1L675.6 231.5L675.5 233.7L675.7 233.1L675.7 234.3L675.9 234.2L676.2 234L675.8 235.9L676.4 236L676.5 236L676.4 236.4L676.2 236.2L676.6 236.6L676.6 237.6L676.9 238.8L676.6 238L676.8 239.4L676.5 239.6L676.6 239.7L677.1 241.4L676.7 240.7L677 242.4L677.3 242.5L676.9 242.9L677.3 242L677.2 243.4L677.3 243.8L677.2 242.7L677.4 241.9L677.4 242.5L677.4 242.1L677.9 241.5L677.6 241.5L678 239.9L678.1 241L678.2 239.2L678.2 239L678 238.5L678.3 238.7L678.2 238L678 237.1L678.3 237.7L678.4 236.9L678.3 236.9L678.5 235.9L678.3 235.4L678.4 234.6L678.8 234.2L678.4 233.7L678.5 233.8L678.5 233.3L678.7 232.3L678.9 233L678.9 231L678.8 230.4L679 231.4L678.7 229.7L678.8 229.8L679.3 228.5L679.3 228.6L679.2 228.5L679.5 228.7L679.6 227.6L679.6 227.5L679.4 226.7L679.3 225.3L679.4 225.1L679.5 225.1L679.3 225.5L679.4 225.1L679.7 223.3L679.7 222.5L679.8 222.5L679.5 221.8L679.9 222.8L679.8 222.1L680 220.7L680 220.6L680 220.3L680.3 220.4L680.2 219.4L680.1 218.8L680.6 217.7L680.2 216.8L680.3 217.1L680.6 216.7L680.9 216.6L680.9 215.5L680.6 215.6L680.5 215.5L680.7 215.1L680.9 214.9L680.8 214.6L681.3 213.1L681.1 211.8L681.1 212.2L681.3 212.4L681.4 212.4L681 210.7L681.4 211.4L681.4 210.1L681.7 210.3L682.3 209.3L682.6 209.5L682.9 209.3L683.2 208.2L683.4 209L683.9 208.7L684.5 208.7L685.1 208.8L685.4 208.8L685.3 210.2L685.4 210.3L685.6 211.6L685.4 210.9L685.9 210.6L686 211.7L685.8 212.9L686.2 213.3L686.3 213.8L686.6 214.5L686.1 213.4L686.6 214.3L686.6 215.1L686.5 215.5L686.5 214L687 214.1L686.8 212.7L687 212.6L687.1 212.1L686.9 211.8L687.2 211.9L687.1 210.1L686.8 210.2L687.2 209.8L687.1 209.5L686.9 209.8L687.1 209.7L687.5 208.5L687.4 208.3L687.1 208.4L687.5 207L687.6 206.6L687.7 206L687.4 204.9L687.6 205.1L687.5 204.4L687.6 204.3L687.8 203.4L687.8 203.6L688.1 202.2L687.6 202.7L688.1 202.3L687.9 200.5L687.9 201.6L687.9 200.8L688 200.8L687.9 199.7L688.1 199.5L688.3 198.5L688.6 198.1L688.4 198L688.3 197.4L688.7 197.7L688.5 196.3L688.5 197L688.7 196.4L688.4 197.8L688.8 198L688.8 198.7L688.9 199.9L688.6 199.3L688.4 200.5L688.8 201.2L688.5 200.8L689 200.7L688.9 202.5L689 201.7L688.8 202.5L688.9 202.3L689.2 203.7L689.2 204.4L688.7 204.2L688.8 204.6L689.2 206L688.8 206.4L688.8 205.4L689.4 206L689.2 207.9L688.9 208.4L689.1 208.9L689.4 208.6L689.3 209L689 209.8L689.4 209.2L689.3 210L689.3 211.2L689.4 211.4L689.5 211.5L689.5 212.7L690.1 213.6L690.1 212.9L690.3 213.7L690.6 213.1L690.7 215.2L690.8 215L691.4 214.4L691.3 215.6L691.8 214.8L691.7 214.4L691.7 214.2L692.1 214.1L692 213.9L692.4 212.2L692.5 213.5L692.9 213.1L692.8 211.1L693.1 211.4L692.9 210.4L693.5 209.6L693.4 209.1L693.1 210.5L693.6 209.9L693.4 208L693.8 208.8L693.5 208.2L693.8 206.4L694.1 206.2L693.9 206.1L693.9 206.6L693.8 205.1L694 204.7L694.2 205.4L694.4 204.5L694.3 204.1L694.2 203.7L694.2 203.7L694.6 202.9L694.5 202.1L694.6 201.8L694.4 201.1L694.7 201.4L694.5 200.9L695.1 200.6L694.8 198.9L695 198.8L694.9 199.9L695.3 199.2L695.3 199.7L695.4 199.8L695.6 201L695.6 201.6L695.3 202.6L695.7 201.6L695.4 202.2L695.6 203.5L695.8 204.7L695.8 204.4L696 205.7L696.2 205.3L696 205L695.9 205.6L696.1 206.9L696 207.2L696.3 207.6L697 208.4L697.4 208.3L697.6 207.6L698.1 207.6L698.1 208.1L698.5 205.8L699 206.9L699 205.4L698.9 205.8L699.2 205.3L699.7 204.5L700 205.2L700 204L700.3 202.6L700.1 203.6L700.1 203.1L700 202.2L700.6 201.5L700.1 201.4L700.2 200.8L700.7 201.3L700.6 200.3L700.5 199.7L700.6 198.8L700.6 198.4L700.4 198.5L700.8 197.3L701 197.6L700.9 196.8L700.7 195.3L701.2 195.3L701.2 195.1L701.2 195.6L700.9 193.7L701.2 193.1L701 193.3L701.3 193L701.1 193.4L701.6 191.1L701.6 192.1L701.3 190.2L701.5 191.2L701.5 189.5L701.9 189.7L701.8 188.5L701.7 188.6L702 188.2L702.2 188.4L702.2 187.8L702 187.2L702 187.4L702.2 186.3L702.5 186.1L702.2 184.3L702.3 184.8L702.4 183.8L702.7 183L702.5 183.3L702.5 183.5L702.8 183.2L702.7 182L702.9 182.2L702.9 181.3L703.3 180.4L703.1 180.1L702.9 180.1L703.1 179.5L703.5 179.6L703.1 177.5L703.6 177.5L703.2 177.4L703.3 177.1L703.3 177.1L703.8 176.7L703.8 175.1L703.5 175L703.4 174.7L703.5 175L703.5 173.3L703.6 173.8L703.8 172.5L703.9 172.6L704.2 171.2L704 171.1L703.8 172L704.2 170.1L704.3 169.6L704 169.3L704.5 170.1L704.4 168.4L704.5 168.7L704.1 168.8L704.4 167.5L704.4 167.8L704.1 167.5L704.3 166.9L704.5 164.7L704.4 165.1L704.8 165.2L704.3 164.1L704.9 164.3L704.6 162.9L704.9 162.2L704.6 162.4L704.7 162.7L704.8 161.7L704.9 161.6L704.6 159.9L705 160.7L704.6 159.8L704.8 158.9L704.6 159.3L704.7 157.5L704.8 157.6L705.1 156.9L704.6 157.9L704.9 156.1L705.1 156.1L704.9 155.6L705.1 154.2L705.3 154.6L705.1 154.9L705.1 152.9L705.2 153L705.1 153.5L704.9 151.7L705 153L705.2 151.7L705.3 152L705.5 150.1L705.5 151.2L705.2 148.7L705.4 148.7L705.3 148.8L705.1 148.3L705.6 147L705.5 148.1L705.5 147.8L705.8 145.7L705.4 146.5L705.4 145.5L705.7 144.3L705.6 145.4L706 144.1L705.5 143L705.6 143.6L706 142.6L706 143.3L705.8 141.9L706 140.8L705.9 141.5L706.1 141.3L706 139.7L706.3 140.1L706.3 140L706.4 138.5L706.3 138.1L706.2 139.4L706.4 139.4L706.1 139.5L706.4 140.7L706.2 140.6L706.5 141.4L706.6 141.3L706.3 141.2L706.5 141.2L706.6 143.3L706.3 143.4L706.4 144.5L706.7 144.9L706.4 143.5L706.7 145.7L706.8 146.2L706.4 145.6L706.9 146.5L706.9 146.5L706.5 147.6L706.9 148.2L706.9 149.1L707 149L706.7 149L706.5 149.3L706.7 149.6L707 149.5L706.8 150.5L706.8 151.7L706.9 152.5L707.1 152.7L707.2 153.5L707 152.6L706.8 153.8L707.1 153.4L707.3 154.6L706.7 154.5L707.1 154.9L707.1 156L707.4 155.3L706.8 156.3L707.3 157L707.1 158.4L707.4 158.7L707.4 158.7L707.2 158.8L707 159.3L706.9 159.9L707.2 159.4L707.3 160.6L707.3 161.3L707.4 162.5L707.6 162L707.4 163.6L707.7 162.7L707.3 162.9L707.7 164.1L707.3 165.3L707.7 164.6L707.5 165.2L707.7 166.8L707.8 165.9L707.3 166.3L707.6 167.8L707.6 168.5L707.6 168.3L707.6 169.4L707.7 169.1L707.6 170.6L707.7 169.2L708 171.5L707.9 170.7L707.9 170.7L707.6 171.6L707.7 172.4L708 173L707.8 174L707.9 173.8L708.2 172.8L708.9 173.2L708.8 173.3L709.4 172.6L709.2 173.7L709.5 173.7L709.7 174.3L709.9 174.1L709.5 175.4L710 175.6L709.5 175.9L709.6 176.1L710.1 176.2L710.2 177.4L710 176.9L709.9 178.8L710.1 179.3L710.3 179.8L710 179L710 179.1L710.4 180.1L710.1 180.4L710.2 181L710.4 182.6L710.5 183.1L710.7 182.7L710.6 182.3L710.6 183.1L710.4 183.7L710.7 184.4L710.5 183.9L710.8 182.7L711.1 182.9L710.8 182.8L710.7 182L711 180.9L710.7 180.5L711.2 181L711.3 180.5L711.1 179.7L711 179.3L711 179.8L711.2 177.9L711.5 178.8L711.1 178.2L711.6 177.1L711.3 175.6L711.5 176.2L711.7 176L711.7 175.6L711.6 175.6L711.5 175.2L711.6 173.3L711.8 173.9L711.5 172.8L711.5 172.9L711.9 172.3L711.6 170.7L711.9 170.9L711.7 171.4L711.9 170.1L712 170.4L712.1 170.4L712.2 170.7L712.1 172.2L712.1 173.3L712.5 173.1L712.1 172.8L712.5 173.5L712.3 174.3L712.3 174L712.3 174.9L712.4 174.7L712.7 176.9L712.4 177.1L712.7 177.6L712.9 177.3L712.6 178.6L712.9 178.3L712.8 179.1L712.6 178.6L713 180L713.1 179.4L713.2 179.9L712.9 180.2L712.9 182L713.3 182.9L713.2 182.6L713.5 182.9L713.1 181.8L713.2 181.6L713.2 181.6L713.6 180.9L713.7 179.4L713.8 179.6L713.8 179.4L713.7 177.6L713.9 178.4L713.6 177.6L713.7 178.1L713.7 175.8L714.2 177L713.7 176.1L713.7 176.1L714 174.4L714.1 175.1L714.2 173.2L714.2 173.3L714.4 173.9L714.4 172.9L714.5 171.9L714.4 172.7L714.4 171.3L714.2 172.3L714.5 171.3L714.7 173.1L714.3 174.1L714.7 174.1L714.6 173.3L714.5 175.1L714.8 174.6L714.8 174.6L714.6 176.4L714.8 175.6L715 177.1L714.9 178.2L715 177.9L714.7 177.9L715 179.5L715.1 179.3L714.8 179.5L715 179.3L715 179.5L714.9 180.9L715.3 182L715 181.2L715 181.7L715.4 181.7L715.1 182.7L715.2 183.8L715.1 183.1L715.5 184.1L715.2 184.8L715.1 184.9L715 186.7L715.3 186.3L715.5 186.5L715.6 186.3L715.5 188.2L715.6 188.5L715.2 188.9L715.4 188.8L715.6 189.8L715.5 189.3L715.8 190.4L715.4 190.7L715.7 190.8L715.6 192.2L715.8 192.2L715.8 192.3L716 194.1L715.9 193.9L715.5 193.7L715.7 195.3L715.9 195.2L715.9 196.4L715.9 195.3L716.2 195.8L716 196.8L716.2 197.7L716.3 198.2L716.1 197.3L715.8 198.2L716 198.3L716.2 200.2L716.2 200.4L716.1 200.1L716.3 200.1L716.3 201.6L716.1 202.6L716.5 202.6L716.3 202.6L716.5 203.2L716.7 204.6L716.9 203.6L717.2 204.8L717.2 205.1L717.2 204.9L717.3 204L717.4 204.4L717.7 204.2L717.7 201.9L717.8 201.4L717.9 201.7L717.8 201.2L718 201.7L718.2 200.1L718.3 199.9L718.1 199.8L717.9 199.3L718.1 198.1L718 198.5L718.1 198.3L718.5 197.8L718.4 197.6L718.8 196.8L718.5 196.8L718.7 195.1L718.8 195.1L718.7 194.3L718.9 194.9L718.8 193.7L718.7 192.6L719 192.6L718.9 193L718.8 191L718.9 190.4L719.1 190.4L719.4 190.1L719.1 190L719.6 189.6L719.2 189.7L719.2 188.1L719.6 188.6L719.5 187.5L719.3 187.2L719.6 186.1L719.8 185.8L719.5 185.5L719.8 185.4L719.9 184.7L719.8 184.3L719.6 184.8L719.8 184.1L720.1 183.7L720 182.6L720.2 182.9L720 182.1L720 182.2L720.5 180.6L720.3 179.8L720.4 180.2L720.1 178.6L720.7 178L720.4 179L720.4 177.7L720.7 177.4L720.4 177.3L720.6 176.3L721 175.7L721 175.4L721.1 175.6L720.7 175.7L720.8 173.9L721.2 174.9L720.8 174.4L721.1 173.2L720.8 173.5L721 172.8L721.2 171.2L721.3 171.3L721.7 171.5L721.7 169.7L721.7 169.2L721.8 170.3L721.9 169.7L721.9 168.6L722 168.4L722.3 167.3L722.3 167.7L722.2 166.3L722.5 166.3L722.8 166.7L722.6 165.7L722.7 164L722.8 163.8L723.5 165L723.1 163.5L723.6 163.7L723.8 161.9L723.6 162.5L723.8 161.3L723.9 161.1L724.4 161.3L724.2 160.5L724.4 160L724.4 159.8L724.7 158.8L724.5 159L724.4 157.8L724.5 157.7L724.7 156.7L724.6 157.1L724.9 155.5L725.2 155L724.9 154.8L725.1 154.3L724.9 153.6L725.2 153.2L725.3 153.9L725.4 153.3L725.1 153.7L725.4 151.3L725.6 150.9L725.4 151.3L725.8 151.1L725.8 150L725.7 150L726 149.3L726.1 148.6L725.9 147.9L726.3 148.6L726.4 147.5L726.4 147.9L726.6 146L726.5 147.2L726.8 147L726.7 144.8L726.9 145L727.1 145.6L727.3 143.9L727.3 144.2L727.3 143.4L727.7 142.3L727.6 142.5L727.9 141.8L728.5 141.6L728.8 141.3L728.7 140.4L729.5 140.6L729.3 139.2L729.4 138.5L729.9 139L730.1 138.2L730.3 138.1L730.6 139L730.2 138.4L730.4 140.1L730.3 139.2L730.4 140.3L730.8 140.4L730.8 141.2L730.8 141.8L730.6 142.1L730.7 142.6L730.7 143.4L731.1 144.7L730.8 144.2L731.1 145L730.9 144.1L731.2 145.7L731.3 146.3L731.1 145.9L731.3 146.6L731.7 148.1L731.6 148.1L731.7 148.9L731.6 148.8L731.5 149L731.8 150.7L731.7 151.1L731.7 150.9L731.4 152L731.7 151.3L731.5 151.8L731.4 152.8L731.8 153.9L731.7 154L731.8 154.2L731.4 154.6L731.5 154.3L731.6 155.3L731.8 154.9L731.8 156.9L731.6 155.9L731.8 156.3L731.5 158.4L731.6 158.5L731.7 157.3L731.7 158.4L731.5 158.5L731.8 159.2L731.5 160.6L731.6 160L731.5 160.6L731.7 161.2L731.9 161.9L731.4 161.4L731.6 163.5L731.9 163L732 163.8L731.8 164.6L732 165.1L731.5 164.4L731.7 165.3L732.1 165.9L731.6 165.9L731.6 167.1L731.5 166.9L732 167L732 168.1L731.9 168.9L731.5 170.1L731.6 168.9L731.7 171L731.8 171.1L731.7 170.6L731.6 170.9L732.1 171.8L732 171.5L731.9 173L731.7 173.9L731.9 173.5L731.8 173.8L731.8 175.4L731.9 175.2L731.6 174.7L731.7 176.1L731.8 177.1L731.7 177.8L731.6 177.7L731.9 178.5L731.6 178.9L732 178.8L732 179.5L731.9 179.3L731.9 180.1L732.1 180.1L732 180L731.7 180.9L732.2 181.2L732.1 181.8L732 183L732.1 184L731.7 183.4L732.1 184.9L732.1 185.6L732 185.7L732 186.5L731.8 186.8L731.9 186.6L732.3 187.4L732.4 188L732.3 188.8L732.3 188.9L731.9 189.6L732.4 189L731.9 189.6L732.1 189.5L732.3 190.8L732.3 191.9L732 192.2L732.3 191.4L732.5 192.6L732 191.9L732.3 194.2L732 192.8L732.4 194.4L732.5 193.7L732.3 194.9L732.2 196.4L732.6 196.3L732.6 197.1L732.4 197.8L732.1 198.2L732.3 197.4L732.4 199.1L732.5 199.2L732.5 198.9L732.6 199.8L732.2 199.4L732.2 200.4L732.3 201.2L732.3 202L732.7 202.5L732.4 202.8L732.5 202.6L732.3 203.9L732.5 203.1L732.4 203.6L732.6 205.3L732.6 205.1L732.9 205.6L732.4 206.6L732.8 205.7L732.8 207.1L732.7 206.6L732.9 207.9L732.7 207.7L732.6 208.9L732.6 209.5L732.9 210.6L732.9 210.1L732.9 210.3L733.1 210.8L732.7 212.3L732.9 211.3L732.7 212L732.6 212L733.1 213.5L732.7 213.8L733.1 213.6L732.8 214.7L732.9 216.2L732.9 215.8L732.7 215.5L733.2 216L733 217L732.7 217L733.4 215.7L733 215.6L733.2 214.9L733.3 215.3L732.9 214.1L733.3 214.4L733 214.3L733.2 212L733.3 211.5L733.3 211L733.3 211.3L733.6 211.8L733.6 211.2L733.4 209.4L733.8 210.2L733.6 209.7L733.4 209.4L733.6 208.2L733.5 208.5L734 206.5L733.9 206.3L733.8 206.5L734.2 205.9L733.7 205.4L734 204.1L734.3 205.1L734.1 203.7L734 203.4L734.4 202.6L734.4 203.5L734.1 203.2L734.5 202.1L734.5 201.3L734.1 200.7L734.3 201.3L734.4 200L734.5 200.8L734.2 200.7L734.7 200.5L734.3 201.5L734.5 202.3L734.9 203.3L734.8 203.1L734.7 203.7L734.9 204.7L734.7 203.7L734.7 204.9L735.1 204.8L734.6 206L734.7 206.5L734.8 207.3L734.9 206.8L735.1 207.4L735 208.8L734.9 209.3L735.1 209.9L735 209L735 209.5L735.1 210.6L735.5 210.2L735.3 212.2L735.4 212.7L735.6 211.3L735.3 213.5L735.4 213.9L735.6 212.7L735.4 213.4L735.6 215.2L735.6 214L735.9 214.5L735.9 216.2L735.7 216.1L735.6 216.6L735.8 218.3L735.7 218.4L736.1 218.5L736.2 218.9L736.2 218.3L735.9 220L736.3 219.4L736.1 220.4L736 220.9L736.2 220.6L736.3 222L736.3 221.8L736 222.8L736.3 223.2L736.6 222.9L736.2 222.6L736.1 221.1L736.2 220.7L736.7 221.1L736.6 220.3L736.3 220.3L736.4 219L736.3 219.9L736.7 218.4L736.5 219.2L736.9 217.8L736.6 217.9L736.8 216.5L737 217.2L736.6 216.9L737 216.4L737.1 214.6L737.1 213.9L736.7 213.6L736.8 213.3L737.2 213.5L736.7 213.4L736.8 212.8L736.9 212.7L737.2 211.6L737 211.6L736.9 211.1L737.2 209.8L737.1 208.6L737.2 209L737.2 208L737.3 208.1L737.1 207.2L737.2 206.3L737.5 206.2L737.5 206.1L737.2 205.3L737.6 205.1L737.5 205L737.8 203.8L738.3 204.2L738.5 203.4L738.9 203L739.1 204L739.3 202.1L739.7 203.1L739.9 202.4L740.1 201.8L739.9 200.9L740.2 200.3L740.5 199.7L740.3 199.3L740.3 200.2L740.3 198.1L740.8 198.2L740.6 197.4L740.9 196.9L740.8 197.4L740.7 196.6L740.8 195.3L741.3 194.8L741 196.2L741 194.7L741.5 194.5L741.7 193.8L741.8 193L741.6 193L741.6 193.5L741.7 192.3L742 192.4L742 190.2L741.8 191.5L741.8 189.7L741.8 190.4L742 189L741.8 188.3L741.9 188.3L741.9 187.9L742.2 187.9L742.2 187.5L742.1 187.1L742.1 185.7L742.4 184.7L742.6 185.7L742.6 184.3L742.3 183.5L742.4 183.9L742.6 183.2L742.5 183.8L742.9 184.9L743 184.2L743.1 185.9L743.1 184.7L743.1 185.9L742.9 186L743.5 186.8L743.6 188L743.4 187.9L743.3 188.6L743.3 188.8L743.6 189.6L743.8 190.5L743.8 190.1L744.3 191.2L744.1 190.8L744.6 191.2L744.5 192L744.8 191.3L745 192.1L745.3 192.9L745.7 193.5L745.9 194.2L745.8 194.2L745.9 194.6L746.2 195.1L746.2 195.9L746.1 196.4L746.4 196.7L746.4 196.7L746.5 197.1L746.3 199L746.7 198.8L746.5 199.2L746.6 198.9L746.9 199.2L746.6 200.7L746.8 200.5L747 201.3L747.2 202.5L747.3 201.5L747.4 202.8L747.6 202.4L747.4 202.8L747.4 204L747.6 204.2L747.9 205.9L747.9 205.4L748.1 206.2L748.1 205.9L748.2 207.2L748 207.5L748.4 207.9L748.5 209.1L748.8 209.6L748.8 208.5L748.8 210.1L748.8 210.1L748.9 210.4L748.9 210.7L749 210.8L749.3 212L749.5 212.4L749.5 213.7L749.1 213.3L749.5 214.5L749.4 214.6L749.4 214.3L749.6 215.2L749.6 214.8L749.5 215.2L750.1 217L749.8 216.7L749.9 217.3L749.9 216.7L750.2 219L750.4 218.8L750.3 219L750.1 218.4L750.4 219.1L750.5 218.1L750.4 217.7L750.3 217.7L750.7 216.6L750.5 216.5L750.2 214.8L750.6 215.5L750.5 214.8L750.9 214.5L750.7 214.1L750.9 212.9L750.6 212.3L750.7 213L750.5 211.9L750.6 210.5L750.8 210.6L751 209.8L751 208.9L750.8 209L750.7 209L750.9 208L750.9 208.5L751 207.9L751.2 207.7L751.3 207L751.1 205.8L751.4 204.8L750.9 204.4L751.2 205.5L751.5 204.7L751.5 203.3L751.3 203.1L751.4 203.7L751.2 202.5L751.1 201.3L751.3 201.6L751.2 201.8L751.2 201.2L751.4 199.9L751.7 198.8L751.5 198.6L751.6 198.8L751.8 198.8L751.5 198.5L751.4 196.7L751.5 196.8L752 196.1L751.7 196.1L751.9 195L751.7 194.4L752 195.2L751.8 193.9L751.9 193.5L751.7 193.7L751.6 192.1L751.7 193.4L751.7 191.8L751.9 191.4L752 191.5L752.1 190L752.2 190.4L752.1 189.3L752 188.2L752.2 188.5L752.1 188.4L752.1 187.4L752.2 186.8L752.3 186.9L752.4 185.5L751.9 185.1L752.2 184.7L752.2 184.4L751.9 184.9L752.5 184.6L752 183.8L752.5 182.7L752.5 183.5L752.4 182.6L752.3 181.9L752.3 181.6L752.2 181.9L752.7 183.7L752.4 184.4L752.6 184.5L752.3 185.5L752.5 184.8L752.6 185.4L752.8 185.5L752.8 186.3L752.6 187.5L752.6 187.5L752.8 188.3L752.8 188.5L753 188.9L753.1 189L753.2 190.2L752.9 189.1L753.2 191L753.4 191.3L753.2 191.4L753.4 191L753.5 191.3L753.4 192.6L753.5 193.8L753.6 193.8L753.5 194.4L753.6 194.5L753.8 194.5L753.7 194.7L754.1 195.7L753.9 197.1L753.9 196.6L753.7 197.2L754 197.8L754.3 198.2L754.1 199.3L754.4 198.5L754.6 199.3L754.2 200.1L754.5 200.6L754.7 200.5L754.9 200.5L754.4 202.3L754.5 202.4L754.6 202.4L754.8 203.2L754.7 203.9L755.1 203.6L755.1 204.5L755.6 204.8L755.2 206.2L755.7 205.9L756.1 206.8L756.3 207.4L756.6 207.9L756.6 207L756.7 208.1L757 208.2L757.3 208L757.1 206.9L757.5 207.4L757.9 206.9L758.3 206.4L758.4 205.2L758.5 205.9L758.7 204.3L758.8 204.3L759.1 203.6L759 203.1L759 203.6L759.2 203.3L759.5 201.2L759.6 202.4L759.3 201.7L759.6 200.9L759.4 200.9L759.6 199.7L759.5 198.6L760.1 198.4L760.2 197.7L760.2 197.8L760.2 196.4L760.3 196.9L760.3 196.5L760.2 197.2L760.2 197L760.2 198.2L760.3 199.1L760.9 198.2L760.9 198.3L760.8 200.2L761 200.4L760.7 201.2L761.1 200.8L760.9 201.1L761.2 201.2L761.3 202.4L761.1 202.8L761.2 203.1L761.3 203.8L761.4 203.5L761.4 204.8L761.6 204.2L761.7 205.5L761.8 205.1L761.9 207.2L761.9 206L762 207.2L762.4 207.7L762.6 208.5L762.8 209.6L762.9 208.5L762.6 210L763.1 210.7L763.1 209.9L763.1 211L763.2 211.3L763.4 212L763.5 211.6L763.4 212.6L763.3 212.5L763.7 213.6L763.7 215L764 214.7L763.9 215.6L764.2 215.7L764 215.2L764.2 215.5L764.1 216.3L764.5 217.7L764.4 216.9L764.3 219.2L764.5 218.8L764.4 219L764.6 219L764.7 220.6L765 220.1L765.3 220.9L765.4 220.7L765.1 221.5L765.3 223.1L765.6 222L765.9 222.7L766.1 223.9L766.2 223.3L766.3 224L766.3 225L766.7 226.1L766.2 225.4L766.8 226.5L766.6 227.1L766.5 227.3L766.8 228.8L766.6 228.5L766.9 228.5L767.1 229.7L767 229.9L767.3 229.2L767.3 230.7L767.4 230.4L767.5 231L767.7 231.3L767.5 231.8L767.8 231.9L767.6 233L767.8 234.4L768.1 234.4L768.1 234L768.2 235.1L768.2 236.5L768.6 236.1L768.7 236.6L768.7 236L768.9 238.3L768.9 238.5L769 237.6L768.9 238.6L769.2 239L768.9 239.9L769.3 239.9L769.5 240.8L769.6 241.4L769.9 242.1L769.9 241.1L769.9 242L770.1 242.2L769.9 243.4L770.1 243.8L770 244.6L770.6 244L770.4 244.6L770.5 245.7L770.5 246.3L771.1 246.1L771.2 246.5L771.4 247.1L771.2 247.1L771.4 248.8L771.7 248.8L772.1 247.4L772.2 247.2L772.3 247.4L772.1 247.7L772.6 246.4L772.4 246.5L772.6 246.5L773.1 245.4L773.1 244L773 244L773.2 243.8L773.2 243L773.6 242.3L773.3 241.5L773.7 241.1L774 241.8L773.7 240.9L774.2 240L774.1 240.2L774.2 240.5L774.2 239.5L774.2 238.9L774.3 237.7L774.7 238.5L774.8 236.7L775 237.8L775.2 235.8L775.1 236.3L775.3 234.9L775.4 235.3L775.1 234.6L775.2 235L775.4 233.9L775.5 232.6L775.3 232.7L775.8 232.7L775.5 231.5L775.9 231.8L775.6 231.1L776.3 230.9L776.3 231.4L775.8 229.5L776.4 228.7L776 228.9L776.5 228.4L776.2 228.4L776.4 227.8L776.3 227.8L776.6 226.9L776.6 226.6L776.9 227.7L776.8 227.4L776.7 228.9L776.9 229.9L776.8 229.9L777 229.2L776.8 230.9L776.7 231.7L777.1 231.3L777.1 232.6L777 232.3L777.3 232.5L777.2 234.1L777.3 233.8L777.7 234.1L777.7 232.6L777.6 233L777.7 232.2L778.2 231.3" stroke="#0a0ad2" stroke-width="2.9"/>
<path d="M72.9 451.3C73.8 451 76.7 450.2 78 449.5C79.3 448.8 79.8 449 81 447C82.2 445 84 441.2 85.4 437.6C86.8 434 87.6 429.1 89.2 425.1C90.8 421.1 93 417.4 94.8 413.8C96.6 410.2 98.3 407.8 99.8 403.8C101.2 399.8 102.2 395.2 103.5 390C104.8 384.8 106.1 377.5 107.3 372.5C108.5 367.5 109.5 364.2 110.4 360C111.3 355.8 112 350.7 112.9 347.1C113.9 343.5 114.7 340.5 116.1 338.3C117.5 336.1 119.6 335.1 121.1 334C122.5 332.9 122.7 330.9 124.8 332C126.9 333.1 130.5 337.7 133.6 340.8C136.7 343.9 140.3 347.7 143.6 350.8C146.9 353.9 150.8 357.1 153.6 359.5C156.3 361.9 158 363.8 160.1 365C162.2 366.2 163.9 366.9 166.4 367C168.9 367.1 172 366 175.1 365.5C178.2 365 181 364.1 185.2 364C189.4 363.9 195.2 364.8 200.2 365C205.2 365.2 211 365.7 215.2 365.5C219.4 365.3 222.3 364.8 225.2 363.8C228.1 362.8 229.8 361.2 232.7 359.5C235.6 357.8 238.9 355.5 242.7 353.8C246.4 352.1 251.3 350.8 255.2 349.5C259.1 348.2 261.7 347.3 266 346.3C270.3 345.3 276 344.3 281 343.5C286 342.7 290.9 341.7 296 341.5C301.1 341.3 304.1 342 311.6 342.1C319.1 342.2 333.3 342 341.1 342.1C348.9 342.2 353.2 342.1 358.6 342.6C364 343.1 368.4 344.6 373.6 345.1C378.8 345.6 382.6 345.6 389.7 345.4C396.8 345.2 407.6 344.4 416.2 344.1C424.8 343.8 431.9 343.9 441.2 343.7C450.5 343.5 464.4 343.4 472 342.8C479.6 342.2 482.8 341.1 487 340.1C491.2 339.1 494.5 337.8 497 337C499.5 336.2 499.5 336 502 335.2C504.5 334.4 508.7 333 512 332.3C515.3 331.6 519.5 331.4 522 331C524.5 330.6 523 330.4 527.1 329.7C531.2 329 539.1 327.9 546.6 326.9C554.1 325.9 563.7 324.8 572.1 323.9C580.5 323 590.5 322.2 597.2 321.4C603.9 320.6 607.6 319.7 612.2 318.9C616.8 318.1 621.6 317.2 624.9 316.4C628.2 315.6 629.1 314.6 632 313.9C634.9 313.1 639.7 312.5 642.2 311.9C644.7 311.3 643.7 310.8 647 310.2C650.3 309.6 658.9 308.7 662.2 308.2C665.6 307.7 663.8 307.6 667.1 307.2C670.4 306.8 676 306.5 682.1 305.7C688.2 304.9 696.9 303.5 703.6 302.2C710.3 300.9 716.9 299.2 722.1 298.1C727.3 297.1 730.4 296.5 734.6 295.9C738.8 295.3 742.6 295 747.2 294.4C751.8 293.8 757 293 762.2 292.4C767.4 291.8 775.8 291.1 778.5 290.9" stroke="#000000"/>
<path d="M72.9 451.3C73.4 450.4 74.4 448.7 76 446C77.6 443.3 79.8 442.4 82.3 435C84.8 427.6 88.5 410.7 91 401.3C93.5 391.9 95.6 385.7 97.3 378.8C99 371.9 100 365.3 101 360C102 354.7 102.7 352.8 103.5 347.1C104.3 341.4 105.5 333.1 106.1 325.8C106.7 318.5 106.8 310.2 107.3 303.3C107.8 296.4 108.7 289.7 109.2 284.5C109.7 279.3 109.9 276.2 110.4 272C110.9 267.8 111.5 263 112.3 259.1C113.1 255.2 114.4 250.9 115.4 248.6C116.5 246.3 117.4 245.9 118.6 245.3C119.8 244.7 121 244.7 122.3 245.1C123.5 245.5 124.6 246.1 126.1 247.6C127.6 249.1 129.2 251.6 131.1 254.1C133 256.6 135 260 137.3 262.8C139.6 265.6 142.1 268 144.8 271C147.5 274 150.9 278 153.6 280.8C156.3 283.6 158.9 286 161.1 287.6C163.3 289.2 164.7 289.8 167 290.5C169.3 291.2 172 291 175 291.6C178 292.2 181 292.6 185.2 293.9C189.4 295.2 195.2 298.1 200.2 299.6C205.2 301.1 211.4 302.1 215.2 302.7C218.9 303.3 220.2 303.6 222.7 303.2C225.2 302.8 228.1 301.3 230.2 300.2C232.3 299.1 232.7 298.3 235.2 296.4C237.7 294.5 241.9 290.8 245.2 288.9C248.5 287 251.7 286.1 255.2 285.1C258.7 284.1 261.7 283.6 266 283.1C270.3 282.6 276 282.3 281 282.1C286 281.9 290.9 281.6 296 281.9C301.1 282.2 304.1 282.9 311.6 283.9C319.1 284.9 332 286.9 341.1 288.1C350.2 289.4 358 290.5 366.1 291.4C374.2 292.3 381.4 292.9 389.7 293.4C398 293.9 407.6 294 416.2 294.4C424.8 294.8 433.7 295.3 441.2 295.6C448.7 295.9 456.1 296 461.2 296.1C466.3 296.2 468.5 296.6 472 296.2C475.5 295.8 478.7 295.1 482 293.9C485.3 292.7 488.7 290.8 492 288.9C495.3 287 498.7 284.7 502 282.6C505.3 280.5 508.7 278 512 276.4C515.3 274.8 518.2 274.2 522 273.1C525.8 272.1 530.5 271 534.6 270.1C538.7 269.2 542.4 268.4 546.6 267.6C550.8 266.8 554.5 265.6 559.6 265.1C564.7 264.6 571.7 264.6 577.1 264.4C582.5 264.2 587.6 264.4 592.2 263.9C596.8 263.4 600.5 262.4 604.7 261.4C608.9 260.3 612.6 259.3 617.2 257.6C621.8 255.9 627.2 253.5 632.2 251.3C637.2 249.1 642.2 246.3 647.2 244.5C652.2 242.7 658.9 241.2 662.2 240.3C665.5 239.4 663.8 239.3 667.1 238.8C670.4 238.3 676 238.2 682.1 237.1C688.2 236 696.9 233.9 703.6 232.1C710.3 230.3 716.9 227.9 722.1 226.3C727.3 224.7 730.4 223.6 734.6 222.6C738.8 221.6 742.6 221.4 747.2 220.6C751.8 219.8 758.5 218.5 762.2 218C766 217.5 767 217.5 769.7 217.5C772.4 217.5 777 217.8 778.5 217.8" stroke="#48cea4"/>
<path d="M72.9 451.3C73.3 451.9 74.6 453.9 75.5 455C76.4 456.1 77 458.4 78.5 458.1C80 457.9 82.7 455.4 84.8 453.5C86.9 451.6 89.2 449.2 91 447C92.8 444.8 93.9 442.1 95.4 440.5C96.9 438.9 98.5 437.7 99.8 437.6C101.1 437.5 102.1 438.7 103.5 440.1C104.9 441.5 106.7 446.3 108.2 446C109.7 445.7 110.6 442 112.5 438.5C114.4 435 118 428.1 119.8 425.1C121.6 422.1 122.2 421.8 123.5 420.5C124.8 419.2 125.6 417.3 127.3 417.4C129 417.5 131.3 419.6 133.6 421.3C135.9 423 138.6 425.5 141.1 427.6C143.6 429.7 146.1 431.6 148.6 433.8C151.1 436 153.8 439.1 156.1 440.7C158.4 442.3 160.7 442.8 162.4 443.2C164.1 443.6 165.3 443 166.4 442.8C167.5 442.6 167.6 443.1 169 442C170.4 440.9 172.4 438 175.1 436.4C177.8 434.8 181 433.4 185.2 432.6C189.4 431.8 195.2 432.3 200.2 431.4C205.2 430.5 209.8 428.8 215.2 427.1C220.6 425.4 226.9 423.4 232.7 421.4C238.5 419.4 244.6 417 250.2 415.1C255.8 413.2 260.9 411.5 266 409.8C271.1 408.1 276 406.4 281 405.1C286 403.8 290.9 402.9 296 402.1C301.1 401.3 306.2 400.7 311.6 400.1C317 399.6 321.6 399.4 328.6 398.8C335.6 398.2 347.4 396.6 353.6 396.3C359.9 396 362.8 396.6 366.1 396.8C369.4 397 369.7 397.7 373.6 397.6C377.5 397.5 382.6 396.9 389.7 396.3C396.8 395.7 407.6 394.5 416.2 393.8C424.8 393.1 433.7 392.6 441.2 392.1C448.7 391.6 456.1 391 461.2 390.6C466.3 390.2 468.1 390.1 472 389.8C475.9 389.5 480.3 389.1 484.5 388.8C488.7 388.5 493.7 388.1 497 388.1C500.3 388.1 502 388.5 504.5 388.8C507 389.1 509.1 390.1 512 390.1C514.9 390.1 516.2 389.6 522 388.8C527.8 388 538.2 386.1 546.6 385.1C555 384.1 563.7 383.5 572.1 382.6C580.5 381.7 588.9 380.3 597.2 379.6C605.6 378.9 615.5 378.6 622.2 378.4C628.9 378.2 632.2 378.6 637.2 378.3C642.2 378 647.2 377.2 652.2 376.7C657.2 376.2 662.6 375.6 667.2 375.1C671.8 374.6 673.5 374.4 679.6 373.8C685.7 373.2 695.3 372 703.6 371.3C711.9 370.6 721.1 370.2 729.6 369.5C738.1 368.8 746.6 367.8 754.7 367C762.9 366.2 774.5 365.2 778.5 364.8" stroke="#f0a560"/>
<path d="M72.9 451.3C73.3 450.4 74.2 449.6 75.5 446C76.8 442.4 78.8 437 80.5 430C82.2 423 84.6 411.5 86 404C87.4 396.5 88.2 390.3 89 385C89.8 379.7 90.1 376.2 91 372C91.9 367.8 93 364.1 94.2 360C95.4 355.9 97 352.4 97.9 347.1C98.8 341.8 99.2 335.6 99.8 328.3C100.4 321 101.1 310.6 101.7 303.3C102.3 296 102.9 289.7 103.5 284.5C104.1 279.3 104.9 278.3 105.4 272C105.9 265.7 106.3 255 106.7 246.6C107.1 238.2 107.5 229.8 107.9 221.5C108.3 213.2 108.9 202.8 109.2 196.5C109.5 190.2 109.4 188.2 109.8 184C110.2 179.8 111 175.3 111.7 171.1C112.4 166.9 113.5 161.6 114.2 158.6C114.9 155.6 115.5 154.2 116.1 153C116.7 151.8 117.1 151.6 117.9 151.7C118.7 151.8 119.9 152.2 121.1 153.6C122.2 154.9 123.1 156.9 124.8 159.8C126.5 162.7 128.6 167.2 131.1 171.1C133.6 175 137.1 180.1 139.8 183.5C142.5 186.9 145 188.9 147.4 191.5C149.8 194.1 152 196.3 154.5 199C157 201.7 160.1 205.2 162.4 207.8C164.7 210.4 164.5 211.8 168.3 214.5C172.1 217.2 179.9 220.8 185.2 223.8C190.5 226.8 195.2 230 200.2 232.6C205.2 235.2 211.6 238.2 215.2 239.6C218.8 241 219.4 240.9 221.5 240.8C223.6 240.8 225.8 240.6 227.7 239.3C229.6 238 230.6 235 232.7 233.1C234.8 231.2 237.3 229.3 240.2 228.1C243.1 226.9 246.8 226.9 250.2 225.8C253.5 224.7 257.7 222.3 260.3 221.3C262.9 220.3 262.6 220.3 266 220C269.4 219.7 276.4 219.4 281 219.5C285.6 219.6 288.4 219.7 293.5 220.6C298.6 221.5 305.8 223.7 311.6 225.1C317.5 226.5 321.6 227.4 328.6 228.8C335.6 230.2 343.4 231.8 353.6 233.8C363.8 235.8 379.3 239.1 389.7 240.8C400.1 242.5 407.6 242.8 416.2 243.8C424.8 244.9 433.7 246.3 441.2 247.1C448.7 247.9 456.1 248.5 461.2 248.8C466.3 249.1 468.5 249 472 248.8C475.5 248.6 478.7 249.1 482 247.6C485.3 246.1 488.7 243.2 492 240.1C495.3 237 498.7 232.4 502 228.8C505.3 225.2 508.7 220.8 512 218.8C515.3 216.8 518.2 218.1 522 217C525.8 215.9 530.5 213.8 534.6 212.5C538.7 211.2 542.4 210.6 546.6 209.5C550.8 208.4 554.5 206.6 559.6 205.8C564.7 205 571.2 204.7 577.1 204.5C583 204.3 590.1 204.8 594.7 204.5C599.3 204.2 601.8 203.2 604.7 202.5C607.6 201.8 610.1 201.1 612.2 200.2C614.3 199.2 615.5 197.8 617.2 196.8C618.9 195.8 620.1 195.6 622.2 194C624.3 192.4 627.1 188.9 629.6 187C632.1 185.1 635.1 183.9 637.2 182.7C639.3 181.5 639.5 180.9 642 179.7C644.5 178.4 649.7 176.3 652.2 175.2C654.7 174.1 654.5 173.9 657 173.2C659.5 172.5 663.4 171.6 667.2 170.9C671 170.2 673.5 170.3 679.6 168.9C685.7 167.5 696.5 165 703.6 162.7C710.7 160.4 717.4 157.2 722.1 155.2C726.9 153.2 727.9 151.9 732.1 150.7C736.3 149.4 742.2 148.7 747.2 147.7C752.2 146.7 758.5 145.2 762.2 144.6C766 144 767 144 769.7 143.9C772.4 143.8 777 143.9 778.5 143.9" stroke="#167416"/>
<path d="M72.9 451.3C73.6 452.6 76.3 456.5 77.3 458.8C78.3 461.1 78.3 464 79.1 465C79.9 466 81.3 464.5 82.3 465C83.2 465.5 84.1 466.7 84.8 468.2C85.5 469.7 86.1 472.4 86.7 473.8C87.3 475.2 87.6 477.2 88.5 476.9C89.4 476.6 91.2 472.5 92.3 471.9C93.3 471.3 93.8 473.6 94.8 473.2C95.8 472.8 97.6 469.5 98.5 469.4C99.4 469.3 99.7 469.7 100.4 472.5C101.1 475.3 102.2 482.8 102.9 486.3C103.6 489.9 104.3 490.1 104.8 493.8C105.3 497.6 105.4 503.2 106.1 508.8C106.8 514.4 108 523.9 108.8 527.6C109.6 531.4 110.1 531.2 110.8 531.3C111.5 531.4 112 529.4 112.9 528C113.8 526.6 115.3 524.7 116.3 523C117.2 521.3 117.8 519.4 118.6 517.6C119.4 515.9 120.5 514.4 121.3 512.5C122.1 510.6 122.6 507.9 123.6 506.3C124.6 504.7 126 503.3 127.3 502.8C128.6 502.3 129.6 502.6 131.3 503.3C133 504 135.3 505.2 137.6 507C139.9 508.8 142.3 511.5 145.1 513.8C147.9 516.1 152.1 519.3 154.6 520.7C157.1 522.1 158.1 522.1 160.1 522C162.1 521.9 164.3 521.5 166.4 520.1C168.5 518.7 169.9 516.2 172.6 513.8C175.3 511.4 179.3 507.6 182.7 505.5C186 503.4 188.9 502.8 192.7 501.3C196.4 499.8 201 498.3 205.2 496.3C209.4 494.3 213.5 491.6 217.7 489.5C221.9 487.4 227.3 484.4 230.2 483.5C233.1 482.6 232.7 484.6 235.2 484.2C237.7 483.8 242.7 481.8 245.2 481C247.7 480.2 246.7 480.5 250.2 479.2C253.7 477.9 260.9 475.1 266 473C271.1 470.9 276 468.3 281 466.4C286 464.5 290.9 462.7 296 461.4C301.1 460.1 306.2 459.6 311.6 458.4C317 457.2 322.9 455.6 328.6 454.4C334.4 453.1 341.1 451.7 346.1 450.9C351.1 450.1 355.3 449.3 358.6 449.4C361.9 449.5 363.6 451 366.1 451.4C368.6 451.8 369.7 452.1 373.6 451.9C377.5 451.7 382.6 451.3 389.7 450.2C396.8 449.1 407.6 446.6 416.2 445.1C424.8 443.6 433.7 442.5 441.2 441.4C448.7 440.3 456.1 439.1 461.2 438.4C466.3 437.7 468.5 437.7 472 437.3C475.5 436.9 479.1 436.2 482 436.1C484.9 436 487 435.9 489.5 436.4C492 436.9 494.5 437.9 497 438.9C499.5 439.9 502.4 441.4 504.5 442.6C506.6 443.9 507.8 445.6 509.5 446.4C511.2 447.1 511.7 447.2 514.6 447.1C517.5 447 521.8 446.3 527.1 445.9C532.4 445.5 540.8 444.9 546.6 444.6C552.4 444.3 556.6 444.5 562.1 443.9C567.6 443.3 573.8 441.8 579.6 440.9C585.5 440 592.6 439 597.2 438.6C601.8 438.2 603.9 438.3 607.2 438.4C610.5 438.5 614.5 438.7 617 439C619.5 439.3 620.1 439.6 622.2 440.1C624.3 440.6 627.2 441.4 629.7 442.1C632.2 442.8 634.3 443.9 637.2 444.4C640.1 444.9 643.9 444.9 647.2 445.1C650.5 445.3 653.9 445.5 657.2 445.4C660.5 445.3 663.1 445 667.2 444.5C671.4 444 676 443 682.1 442.6C688.2 442.2 697.8 442 703.6 441.9C709.4 441.8 713.2 441.8 717.1 441.9C721 442 724.4 442.4 727.1 442.6C729.8 442.9 730.9 443.4 733.4 443.4C735.9 443.4 738.2 442.9 742.2 442.6C746.2 442.3 752.6 441.8 757.2 441.4C761.8 441 766.2 440.5 769.7 440.1C773.2 439.7 777 439.1 778.5 438.9" stroke="#da2222"/>
<path d="M72.9 451.3C73.2 450.8 73.7 451.6 74.8 448C75.9 444.4 78.3 437.3 79.8 430C81.3 422.7 83 411.5 84 404C85 396.5 85.5 392.3 86 385C86.5 377.7 86.1 365.9 86.9 360C87.7 354.1 89.9 353.4 91 349.6C92.1 345.8 92.7 341.7 93.5 337.1C94.3 332.5 95 326.6 96 322C97 317.4 98.5 314.7 99.2 309.5C99.9 304.3 100 297.1 100.4 290.8C100.8 284.6 101.2 279.4 101.7 272C102.2 264.6 102.9 256.1 103.5 246.6C104.1 237.2 104.9 223.7 105.4 215.3C105.9 207 106.4 201.7 106.7 196.5C107 191.3 107.1 190.3 107.3 184C107.5 177.7 107.7 167 107.9 158.6C108.1 150.2 108.3 141.8 108.6 133.5C108.9 125.2 109.4 115.2 109.8 108.5C110.2 101.8 110.4 99.9 111.2 93.5C112 87.1 113.5 75.7 114.6 70C115.7 64.3 116.7 60.8 117.8 59.5C118.9 58.2 119.9 59.7 121.3 62.5C122.7 65.3 124.2 71 126.3 76.3C128.4 81.5 131.4 89 133.9 94C136.4 99 138.7 102.5 141.1 106C143.5 109.5 146.4 112.3 148.6 114.8C150.8 117.3 152.2 118.1 154.5 121C156.8 123.9 160 129.2 162.4 132.3C164.8 135.4 167.1 137.9 169 139.8C170.9 141.7 171.2 142 173.9 143.9C176.6 145.8 181.2 148.1 185.2 151.4C189.2 154.7 193.5 160.2 197.7 163.9C201.9 167.7 206.4 171.3 210.2 173.9C213.9 176.5 217.9 178.4 220.2 179.4C222.5 180.4 222.3 180.2 224 179.9C225.7 179.6 228.5 179.3 230.2 177.7C231.9 176.1 232.5 172.4 234 170.2C235.5 168 237.1 166 239 164.7C240.9 163.4 243.3 162.8 245.2 162.2C247.1 161.6 248.1 162.1 250.2 161.4C252.3 160.7 255.1 158.9 257.7 158.2C260.3 157.5 263.8 157.4 266 157.2C268.2 157 268.5 156.7 271 156.9C273.5 157.2 276.8 158.1 281 158.7C285.2 159.3 290.9 159.3 296 160.7C301.1 162.1 307 165.3 311.6 167.2C316.2 169.1 318.7 170.4 323.6 171.9C328.5 173.4 334.8 174.7 341 176.4C347.2 178.1 352.9 179.9 361 181.9C369.1 183.9 380.5 186.6 389.7 188.4C398.9 190.2 407.6 191.4 416.2 193C424.8 194.6 433.7 196.4 441.2 197.7C448.7 199 456.1 200.1 461.2 200.7C466.3 201.3 468.5 201.5 472 201.3C475.5 201.1 478.7 201.1 482 199.7C485.3 198.3 488.7 196.4 492 192.7C495.3 189 498.7 182.9 502 177.7C505.3 172.5 508.7 164.7 512 161.4C515.3 158.2 518.2 159.6 522 158.2C525.8 156.8 530.5 154.5 534.6 153.2C538.7 151.9 542.6 151.4 546.6 150.2C550.6 149 554.1 146.7 558.4 145.9C562.6 145.1 566 145.5 572.1 145.6C578.2 145.7 589.7 146.7 594.7 146.6C599.7 146.5 599.3 146.2 602.2 145.1C605.1 144 608.9 142.2 612.2 140.1C615.5 138 619.3 134.9 622.2 132.6C625.1 130.3 627.1 128.9 629.5 126.4C631.9 123.9 633.6 120.4 636.5 117.6C639.4 114.8 643.1 111.9 647 109.6C650.9 107.3 654.2 105.3 659.6 103.8C665 102.3 674.2 101.9 679.6 100.8C685 99.7 688.1 98.5 692.1 97.1C696.1 95.7 698.6 94.8 703.6 92.6C708.6 90.4 717.4 86.4 722.1 83.8C726.9 81.2 727.9 78.9 732.1 77.1C736.3 75.3 742.2 74.3 747.2 73.1C752.2 71.9 758.5 70.7 762.2 70.1C766 69.5 767 69.4 769.7 69.3C772.4 69.2 777 69.5 778.5 69.5" stroke="#2ed832"/>
<path d="M72.9 451.3C73.6 453 76.3 457.8 77.3 461.3C78.3 464.8 78.6 470.1 79.1 472.5C79.6 474.9 79.8 475.1 80.4 475.7C81 476.3 82.2 474.9 82.9 476.3C83.6 477.7 84.2 480.7 84.8 483.8C85.4 486.9 86.1 492.1 86.7 495.1C87.3 498.1 87.6 501.8 88.5 502C89.4 502.2 91.1 496.3 92.3 496.3C93.5 496.3 94.4 501.5 95.4 502C96.4 502.5 97.7 498.1 98.5 499.5C99.3 500.9 99.7 505.8 100.4 510.1C101.1 514.4 101.8 518.9 102.6 525.1C103.4 531.4 104.3 538.4 105.1 547.6C105.8 556.8 106.5 570.5 107.1 580.1C107.7 589.7 108.2 598.7 108.8 605.2C109.4 611.7 110 616.5 110.8 618.9C111.6 621.3 112.8 619.8 113.8 619.4C114.8 619 115.8 619.6 117.1 616.4C118.3 613.2 119.9 604.8 121.3 600.2C122.7 595.6 123.9 591.1 125.6 588.9C127.3 586.7 129.5 587 131.3 586.9C133.1 586.8 134 586.7 136.3 588.1C138.6 589.5 142.1 593 145.1 595.1C148.1 597.2 152.3 599.7 154.6 600.7C156.9 601.7 157.2 601.4 158.9 600.9C160.7 600.4 162.8 599.8 165.1 597.6C167.4 595.4 169.7 591.1 172.6 587.6C175.5 584.1 179.3 579.4 182.7 576.4C186 573.4 188.9 572 192.7 569.4C196.4 566.8 201 563.6 205.2 560.6C209.4 557.6 213.5 554 217.7 551.3C221.9 548.6 227.1 545.2 230.2 544.6C233.3 544 234 547.6 236.5 547.6C239 547.6 242.1 545.9 245.2 544.6C248.3 543.4 251.7 541.5 255.2 540.1C258.7 538.7 261.7 538.2 266 536.3C270.3 534.4 276 531.2 281 528.8C286 526.4 290.9 524 296 522.1C301.1 520.2 306.2 519.2 311.6 517.5C317 515.8 322.9 513.9 328.6 512C334.4 510.1 341.5 507.8 346.1 506.3C350.7 504.9 353.4 503.8 356.1 503.3C358.8 502.8 360.5 502.9 362.4 503.3C364.3 503.7 365.5 505.1 367.4 505.5C369.3 505.9 369.9 506.3 373.6 505.8C377.3 505.3 384.3 503.8 389.7 502.5C395.1 501.2 400.1 499.6 406.2 498C412.3 496.4 420.4 494.2 426.2 493C432 491.8 436.2 491.7 441.2 490.8C446.2 489.9 451.1 488.6 456.2 487.5C461.3 486.4 467.3 485.1 472 484.3C476.7 483.5 481.4 482.5 484.5 482.5C487.6 482.5 488.7 483.6 490.8 484.5C492.9 485.4 494.9 486.4 497 488C499.1 489.6 501.2 491.5 503.3 493.8C505.4 496.1 507.8 500.2 509.5 502C511.2 503.8 510.8 504.1 513.3 504.3C515.8 504.6 521 503.5 524.6 503.5C528.2 503.5 530.9 504.4 534.6 504.5C538.3 504.6 542.4 503.9 546.6 503.8C550.8 503.7 555.4 504.2 559.6 503.8C563.9 503.4 567.5 502.2 572.1 501.3C576.7 500.4 582.1 499.1 587.1 498.3C592.1 497.6 597.6 496.6 602.2 496.8C606.8 497 610.9 498.5 614.7 499.5C618.5 500.5 622 501.8 624.9 503C627.8 504.2 629.9 505.8 632.2 507C634.5 508.2 636 509.2 638.5 510C641 510.8 644.1 511.5 647.2 512C650.3 512.5 653.9 512.9 657.2 513C660.5 513.1 663.7 512.7 667.2 512.5C670.7 512.3 674.2 511.9 678 511.7C681.8 511.4 685.7 511.3 690 511C694.3 510.7 698.3 509.6 703.6 510C708.9 510.4 716.9 512.6 722 513.5C727.1 514.4 729.8 515.1 734 515.5C738.2 515.9 742.3 516.1 747 516C751.7 515.9 756.8 515.5 762 515C767.2 514.5 775.8 513.2 778.5 512.8" stroke="#780a0c"/>
</g>
<rect x="38.5" y="32.5" width="775" height="616" fill="none" stroke="#000" stroke-width="1.15"/>
<path d="M75.5 648.5v4.9M154.5 648.5v4.9M232.5 648.5v4.9M311.5 648.5v4.9M389.5 648.5v4.9M467.5 648.5v4.9M546.5 648.5v4.9M624.5 648.5v4.9M703.5 648.5v4.9M781.5 648.5v4.9M38.5 92.5h-4.9M38.5 195.5h-4.9M38.5 298.5h-4.9M38.5 401.5h-4.9M38.5 504.5h-4.9M38.5 607.5h-4.9" stroke="#000" stroke-width="1.1" fill="none"/>
<g font-family="'Liberation Sans', sans-serif" font-size="14.4" fill="#000">
<text x="75.5" y="669.9" text-anchor="middle">2008</text>
<text x="154.5" y="669.9" text-anchor="middle">2010</text>
<text x="232.5" y="669.9" text-anchor="middle">2012</text>
<text x="311.5" y="669.9" text-anchor="middle">2014</text>
<text x="389.5" y="669.9" text-anchor="middle">2016</text>
<text x="467.5" y="669.9" text-anchor="middle">2018</text>
<text x="546.5" y="669.9" text-anchor="middle">2020</text>
<text x="624.5" y="669.9" text-anchor="middle">2022</text>
<text x="703.5" y="669.9" text-anchor="middle">2024</text>
<text x="781.5" y="669.9" text-anchor="middle">2026</text>
<text x="29" y="98.8" text-anchor="end">4</text>
<text x="29" y="201.8" text-anchor="end">2</text>
<text x="29" y="304.8" text-anchor="end">0</text>
<text x="29" y="407.8" text-anchor="end">−2</text>
<text x="29" y="510.8" text-anchor="end">−4</text>
<text x="29" y="613.8" text-anchor="end">−6</text>
</g>
<g font-family="'Liberation Sans', 'Noto Sans CJK SC', sans-serif" fill="#000">
<text x="306" y="24" font-size="17">中证</text>
<text x="339.5" y="24" font-size="17.2">500</text>
<text x="372.9" y="24" font-size="17">风险溢价比</text>
<text x="457.8" y="24" font-size="17.2">(20251205)</text>
<text x="411.5" y="692" font-size="13.8">日期</text>
</g>
<rect x="682.4" y="453.5" width="124" height="187.3" rx="2.8" ry="2.8" fill="#fff" fill-opacity="0.8" stroke="#ccc" stroke-opacity="0.8" stroke-width="1.1"/>
<g font-family="'Liberation Sans', 'Noto Sans CJK SC', sans-serif" fill="#000">
<path d="M687.2 466H715.4" stroke="#060698" stroke-width="2.1" fill="none"/>
<text x="726.9" y="471.6" font-size="13.6">风险溢价</text>
<path d="M687.2 489H715.4" stroke="#000000" stroke-width="2.1" fill="none"/>
<text x="726.9" y="494.5" font-size="13.6">均值</text>
<path d="M687.2 512H715.4" stroke="#56cdaa" stroke-width="2.1" fill="none"/>
<text x="726.8" y="517.4" font-size="13.6">标准差</text>
<text x="771.4" y="517.1" font-size="14.4" text-anchor="middle">1</text>
<text x="774.9" y="517.4" font-size="13.6">倍</text>
<text x="794.3" y="517.1" font-size="14.4" text-anchor="middle">+</text>
<path d="M687.2 534H715.4" stroke="#e8a462" stroke-width="2.1" fill="none"/>
<text x="726.8" y="540.3" font-size="13.6">标准差</text>
<text x="771.4" y="540" font-size="14.4" text-anchor="middle">1</text>
<text x="774.9" y="540.3" font-size="13.6">倍</text>
<text x="792.6" y="540" font-size="14.4" text-anchor="middle">-</text>
<path d="M687.2 557H715.4" stroke="#186e18" stroke-width="2.1" fill="none"/>
<text x="726.8" y="563.2" font-size="13.6">标准差</text>
<text x="771.4" y="562.9" font-size="14.4" text-anchor="middle">2</text>
<text x="774.9" y="563.2" font-size="13.6">倍</text>
<text x="794.3" y="562.9" font-size="14.4" text-anchor="middle">+</text>
<path d="M687.2 580H715.4" stroke="#bc2c20" stroke-width="2.1" fill="none"/>
<text x="726.8" y="586.1" font-size="13.6">标准差</text>
<text x="771.4" y="585.8" font-size="14.4" text-anchor="middle">2</text>
<text x="774.9" y="586.1" font-size="13.6">倍</text>
<text x="792.6" y="585.8" font-size="14.4" text-anchor="middle">-</text>
<path d="M687.2 603H715.4" stroke="#2ed832" stroke-width="2.1" fill="none"/>
<text x="726.8" y="609" font-size="13.6">标准差</text>
<text x="771.4" y="608.7" font-size="14.4" text-anchor="middle">3</text>
<text x="774.9" y="609" font-size="13.6">倍</text>
<text x="794.3" y="608.7" font-size="14.4" text-anchor="middle">+</text>
<path d="M687.2 626H715.4" stroke="#5e0808" stroke-width="2.1" fill="none"/>
<text x="726.8" y="631.9" font-size="13.6">标准差</text>
<text x="771.4" y="631.6" font-size="14.4" text-anchor="middle">3</text>
<text x="774.9" y="631.9" font-size="13.6">倍</text>
<text x="792.6" y="631.6" font-size="14.4" text-anchor="middle">-</text>
</g>
</svg>
</body></html>
